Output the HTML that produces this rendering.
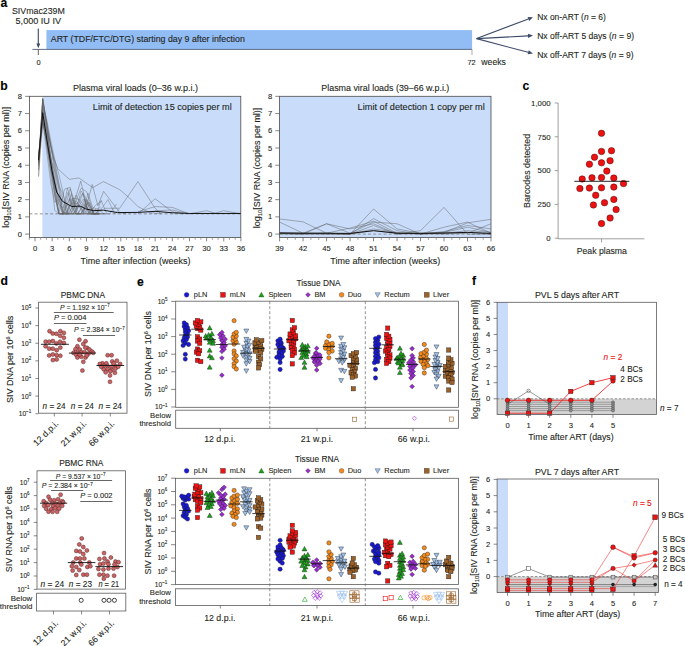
<!DOCTYPE html>
<html><head><meta charset="utf-8"><style>
html,body{margin:0;padding:0;background:#fff;width:685px;height:646px;overflow:hidden;}
svg{display:block;font-family:"Liberation Sans", sans-serif;}
</style></head><body>
<svg width="685" height="646" viewBox="0 0 685 646">
<rect width="685" height="646" fill="#fff"/>
<text x="0.50" y="7.30" font-size="12.2" text-anchor="start" fill="#000" font-weight="bold" stroke="#000" stroke-width="0.1">a</text>
<text x="38.40" y="14.30" font-size="8.5" text-anchor="middle" fill="#231f20" textLength="52.8" lengthAdjust="spacingAndGlyphs" stroke="#231f20" stroke-width="0.1">SIVmac239M</text>
<text x="38.30" y="24.30" font-size="8.5" text-anchor="middle" fill="#231f20" textLength="45.5" lengthAdjust="spacingAndGlyphs" stroke="#231f20" stroke-width="0.1">5,000 IU IV</text>
<rect x="46.40" y="30.10" width="425.70" height="19.30" fill="#92bdf4" stroke="none" stroke-width="0.8"/>
<text x="50.80" y="42.30" font-size="8.7" text-anchor="start" fill="#231f20" textLength="194" lengthAdjust="spacingAndGlyphs" stroke="#231f20" stroke-width="0.1">ART (TDF/FTC/DTG) starting day 9 after infection</text>
<line x1="32.40" y1="49.40" x2="472.10" y2="49.40" stroke="#4f5d78" stroke-width="0.9"/>
<line x1="38.30" y1="49.40" x2="38.30" y2="55.00" stroke="#555" stroke-width="0.9"/>
<line x1="472.00" y1="49.40" x2="472.00" y2="55.00" stroke="#888" stroke-width="0.7"/>
<line x1="38.30" y1="28.60" x2="38.30" y2="45.00" stroke="#3a4662" stroke-width="1.1"/>
<path d="M36.4,43.6 L40.2,43.6 L38.3,48.2 Z" fill="#3a4662"/>
<text x="38.50" y="64.60" font-size="7.4" text-anchor="middle" fill="#231f20" stroke="#231f20" stroke-width="0.1">0</text>
<text x="471.50" y="64.60" font-size="7.4" text-anchor="middle" fill="#231f20" stroke="#231f20" stroke-width="0.1">72</text>
<text x="481.30" y="65.00" font-size="8.6" text-anchor="start" fill="#231f20" textLength="24.6" lengthAdjust="spacingAndGlyphs" stroke="#231f20" stroke-width="0.1">weeks</text>
<line x1="476.60" y1="38.60" x2="528.33" y2="18.97" stroke="#3d4b68" stroke-width="1.1"/>
<path d="M533.00,17.20 L529.07,20.94 L527.58,17.01 Z" fill="#3d4b68"/>
<line x1="476.60" y1="38.60" x2="528.01" y2="35.87" stroke="#3d4b68" stroke-width="1.1"/>
<path d="M533.00,35.60 L528.12,37.96 L527.90,33.77 Z" fill="#3d4b68"/>
<line x1="476.60" y1="38.60" x2="528.17" y2="52.31" stroke="#3d4b68" stroke-width="1.1"/>
<path d="M533.00,53.60 L527.63,54.34 L528.71,50.29 Z" fill="#3d4b68"/>
<text x="537.2" y="20.4" font-size="8.5" fill="#231f20" textLength="68.6" lengthAdjust="spacingAndGlyphs" stroke="#231f20" stroke-width="0.1">Nx on-ART (<tspan font-style="italic">n</tspan> = 6)</text>
<text x="537.2" y="39.0" font-size="8.5" fill="#231f20" textLength="96.8" lengthAdjust="spacingAndGlyphs" stroke="#231f20" stroke-width="0.1">Nx off-ART 5 days (<tspan font-style="italic">n</tspan> = 9)</text>
<text x="537.2" y="57.7" font-size="8.5" fill="#231f20" textLength="96.4" lengthAdjust="spacingAndGlyphs" stroke="#231f20" stroke-width="0.1">Nx off-ART 7 days (<tspan font-style="italic">n</tspan> = 9)</text>
<text x="0.30" y="89.60" font-size="12.2" text-anchor="start" fill="#000" font-weight="bold" stroke="#000" stroke-width="0.1">b</text>
<rect x="42.32" y="96.30" width="198.48" height="141.10" fill="#c9ddfb" stroke="none" stroke-width="0.8"/>
<text x="135.50" y="90.70" font-size="8.7" text-anchor="middle" fill="#231f20" textLength="125" lengthAdjust="spacingAndGlyphs" stroke="#231f20" stroke-width="0.1">Plasma viral loads (0–36 w.p.i.)</text>
<text x="92.80" y="110.30" font-size="8.5" text-anchor="start" fill="#231f20" textLength="138.9" lengthAdjust="spacingAndGlyphs" stroke="#231f20" stroke-width="0.1">Limit of detection 15 copies per ml</text>
<line x1="29.40" y1="213.85" x2="240.80" y2="213.85" stroke="#666" stroke-width="0.7" stroke-dasharray="3,2.2"/>
<polyline points="38.55,162.26 42.72,105.18 46.73,131.61 50.73,158.54 54.73,194.74 58.74,213.85 65.60,213.85 70.18,213.85 75.90,200.61 80.47,208.84 85.05,213.85 89.63,202.48 94.20,213.85 98.78,213.85" fill="none" stroke="#606060" stroke-width="0.4" stroke-linejoin="round"/>
<polyline points="38.55,162.39 42.72,122.12 46.73,142.13 50.73,159.58 54.73,170.48 58.74,188.93 62.74,211.45 66.75,213.85 71.32,193.67 77.04,213.85 82.76,213.85 87.34,213.85 93.06,213.85 99.92,213.85" fill="none" stroke="#606060" stroke-width="0.4" stroke-linejoin="round"/>
<polyline points="38.55,162.91 42.72,106.12 46.73,122.82 50.73,145.62 54.73,161.53 58.74,182.48 62.74,200.18 66.75,203.88 72.47,213.85 78.19,213.85 85.05,198.99 91.91,213.85 96.49,213.85 101.07,200.36 106.79,213.85" fill="none" stroke="#606060" stroke-width="0.4" stroke-linejoin="round"/>
<polyline points="38.55,155.75 42.72,118.70 46.73,143.74 50.73,168.25 54.73,190.38 59.31,213.85 66.17,213.85 70.75,213.85 77.61,202.14 83.33,213.85 87.91,192.99 93.63,209.77" fill="none" stroke="#606060" stroke-width="0.4" stroke-linejoin="round"/>
<polyline points="38.55,176.10 42.72,98.43 46.73,122.49 50.73,145.37 54.73,173.43 58.74,198.60 62.74,213.85 68.46,213.85 73.04,213.85 79.90,206.16 85.62,213.85 91.34,213.85 95.92,208.16" fill="none" stroke="#606060" stroke-width="0.4" stroke-linejoin="round"/>
<polyline points="38.55,166.35 42.72,98.08 46.73,127.77 50.73,156.77 54.73,183.98 58.74,213.85 64.46,213.85 69.03,213.85 75.90,195.10 81.62,205.10 87.34,213.85 94.20,207.36 99.92,213.85 106.79,213.85" fill="none" stroke="#606060" stroke-width="0.4" stroke-linejoin="round"/>
<polyline points="38.55,169.90 42.72,110.20 46.73,138.97 50.73,159.55 54.73,188.57 58.74,213.24 62.74,213.85 69.61,198.51 75.33,213.85 81.05,190.85 87.91,201.15 93.63,213.85 100.49,206.79" fill="none" stroke="#606060" stroke-width="0.4" stroke-linejoin="round"/>
<polyline points="38.55,155.04 42.72,120.86 46.73,151.78 50.73,182.94 54.73,202.22 60.45,198.45 67.32,213.85 74.18,205.28 81.05,188.17 86.77,191.79 93.63,213.85 98.21,213.85" fill="none" stroke="#606060" stroke-width="0.4" stroke-linejoin="round"/>
<polyline points="38.55,163.14 42.72,108.42 46.73,131.15 50.73,146.51 54.73,164.18 58.74,184.22 62.74,211.22 66.75,213.85 72.47,198.33 79.33,213.85 85.05,213.85 91.91,213.85 98.78,213.85" fill="none" stroke="#606060" stroke-width="0.4" stroke-linejoin="round"/>
<polyline points="38.55,159.96 42.72,115.31 46.73,134.58 50.73,156.83 54.73,180.69 58.74,204.25 62.74,213.85 67.32,213.85 74.18,213.85 81.05,213.85 86.77,199.75 93.63,213.85 99.35,213.85 103.93,213.85" fill="none" stroke="#606060" stroke-width="0.4" stroke-linejoin="round"/>
<polyline points="38.55,163.68 42.72,99.24 46.73,126.75 50.73,165.33 54.73,195.31 58.74,213.85 64.46,189.18 70.18,187.27 75.90,213.85 82.76,213.85 87.34,203.31 93.06,213.85 98.78,213.85" fill="none" stroke="#606060" stroke-width="0.4" stroke-linejoin="round"/>
<polyline points="38.55,154.49 42.72,117.14 46.73,146.13 50.73,173.90 54.73,210.42 58.74,213.85 64.46,213.85 71.32,203.68 77.04,203.63 82.76,192.98 88.48,213.85 95.35,205.47 102.21,200.93" fill="none" stroke="#606060" stroke-width="0.4" stroke-linejoin="round"/>
<polyline points="38.55,176.88 42.72,122.14 46.73,141.54 50.73,169.00 54.73,187.61 58.74,195.14 63.31,213.85 70.18,188.61 77.04,208.81 82.76,193.71 89.63,213.85 95.35,213.85 102.21,209.35" fill="none" stroke="#606060" stroke-width="0.4" stroke-linejoin="round"/>
<polyline points="38.55,170.13 42.72,102.75 46.73,119.46 50.73,140.11 54.73,159.77 58.74,173.90 62.74,191.18 66.75,213.85 73.61,197.99 79.33,199.60 86.19,207.60 90.77,213.85 95.35,213.85 102.21,207.70 107.93,199.68 114.79,213.85 119.37,209.07" fill="none" stroke="#606060" stroke-width="0.4" stroke-linejoin="round"/>
<polyline points="38.55,161.71 42.72,99.38 46.73,123.13 50.73,157.10 54.73,180.49 58.74,204.26 63.31,208.16 67.89,192.44 73.61,213.85 80.47,213.85 86.19,206.12 91.91,213.85 98.78,213.85" fill="none" stroke="#606060" stroke-width="0.4" stroke-linejoin="round"/>
<polyline points="38.55,165.47 42.72,99.76 46.73,125.42 50.73,143.96 54.73,167.70 58.74,186.88 62.74,192.76 68.46,213.85 73.04,213.85 78.76,206.14 83.33,198.98 89.05,213.85 95.92,213.85 101.64,213.85" fill="none" stroke="#606060" stroke-width="0.4" stroke-linejoin="round"/>
<polyline points="38.55,161.17 42.72,123.10 46.73,139.06 50.73,161.69 54.73,182.25 58.74,197.38 62.74,213.85 67.32,187.98 73.04,204.14 77.61,213.85 84.48,204.40 91.34,213.85 97.06,208.22 103.93,213.85 109.65,213.85 116.51,203.90" fill="none" stroke="#606060" stroke-width="0.4" stroke-linejoin="round"/>
<polyline points="38.55,157.88 42.72,113.67 46.73,142.33 50.73,170.17 54.73,195.74 59.31,213.85 63.89,213.85 69.61,198.36 75.33,213.85 81.05,213.85 87.91,201.89 93.63,213.85" fill="none" stroke="#606060" stroke-width="0.4" stroke-linejoin="round"/>
<polyline points="47.58,132.50 53.19,155.92 57.82,168.84 69.32,179.34 78.93,177.96 92.77,187.61 103.41,181.58 119.66,189.67 129.38,197.94 137.96,206.55 149.40,212.57 160.84,213.85" fill="none" stroke="#606060" stroke-width="0.45" stroke-linejoin="round"/>
<polyline points="73.90,203.10 80.76,181.06 86.48,204.83" fill="none" stroke="#606060" stroke-width="0.45" stroke-linejoin="round"/>
<polyline points="86.48,206.55 92.20,184.51 97.92,205.69 103.64,191.39 119.66,212.40 126.52,213.85" fill="none" stroke="#606060" stroke-width="0.45" stroke-linejoin="round"/>
<polyline points="103.64,208.27 119.66,208.27 137.96,181.58 155.12,208.27 160.84,213.85" fill="none" stroke="#606060" stroke-width="0.45" stroke-linejoin="round"/>
<polyline points="137.96,213.85 155.12,198.80 172.28,211.71 183.72,213.85" fill="none" stroke="#606060" stroke-width="0.45" stroke-linejoin="round"/>
<polyline points="137.96,211.71 155.12,206.55 172.28,207.41 189.44,213.85" fill="none" stroke="#606060" stroke-width="0.45" stroke-linejoin="round"/>
<polyline points="155.12,210.85 172.28,209.99 189.44,213.85" fill="none" stroke="#606060" stroke-width="0.45" stroke-linejoin="round"/>
<polyline points="189.44,213.85 206.60,210.68 215.18,213.09 223.76,210.68 240.92,213.85" fill="none" stroke="#606060" stroke-width="0.45" stroke-linejoin="round"/>
<polyline points="38.55,160.05 42.72,112.70 48.50,150.07 51.99,171.07 56.68,192.08 62.51,201.38 71.89,206.55 80.02,206.03 85.91,208.96 93.92,210.68 103.41,210.16 117.37,212.57 137.96,212.40 155.12,211.37 172.28,212.75 189.44,213.44 240.92,213.44" fill="none" stroke="#111" stroke-width="1.0" stroke-linejoin="round"/>
<rect x="29.40" y="96.30" width="211.40" height="141.10" fill="none" stroke="#4a4a4a" stroke-width="0.8"/>
<line x1="25.10" y1="234.10" x2="29.40" y2="234.10" stroke="#555" stroke-width="0.7"/>
<text x="22.00" y="236.70" font-size="7.6" text-anchor="end" fill="#231f20" stroke="#231f20" stroke-width="0.1">0</text>
<line x1="25.10" y1="216.88" x2="29.40" y2="216.88" stroke="#555" stroke-width="0.7"/>
<text x="22.00" y="219.48" font-size="7.6" text-anchor="end" fill="#231f20" stroke="#231f20" stroke-width="0.1">1</text>
<line x1="25.10" y1="199.66" x2="29.40" y2="199.66" stroke="#555" stroke-width="0.7"/>
<text x="22.00" y="202.26" font-size="7.6" text-anchor="end" fill="#231f20" stroke="#231f20" stroke-width="0.1">2</text>
<line x1="25.10" y1="182.44" x2="29.40" y2="182.44" stroke="#555" stroke-width="0.7"/>
<text x="22.00" y="185.04" font-size="7.6" text-anchor="end" fill="#231f20" stroke="#231f20" stroke-width="0.1">3</text>
<line x1="25.10" y1="165.22" x2="29.40" y2="165.22" stroke="#555" stroke-width="0.7"/>
<text x="22.00" y="167.82" font-size="7.6" text-anchor="end" fill="#231f20" stroke="#231f20" stroke-width="0.1">4</text>
<line x1="25.10" y1="148.00" x2="29.40" y2="148.00" stroke="#555" stroke-width="0.7"/>
<text x="22.00" y="150.60" font-size="7.6" text-anchor="end" fill="#231f20" stroke="#231f20" stroke-width="0.1">5</text>
<line x1="25.10" y1="130.78" x2="29.40" y2="130.78" stroke="#555" stroke-width="0.7"/>
<text x="22.00" y="133.38" font-size="7.6" text-anchor="end" fill="#231f20" stroke="#231f20" stroke-width="0.1">6</text>
<line x1="25.10" y1="113.56" x2="29.40" y2="113.56" stroke="#555" stroke-width="0.7"/>
<text x="22.00" y="116.16" font-size="7.6" text-anchor="end" fill="#231f20" stroke="#231f20" stroke-width="0.1">7</text>
<line x1="25.10" y1="96.34" x2="29.40" y2="96.34" stroke="#555" stroke-width="0.7"/>
<text x="22.00" y="98.94" font-size="7.6" text-anchor="end" fill="#231f20" stroke="#231f20" stroke-width="0.1">8</text>
<line x1="29.28" y1="237.40" x2="29.28" y2="239.80" stroke="#777" stroke-width="0.7"/>
<line x1="35.00" y1="237.40" x2="35.00" y2="241.40" stroke="#555" stroke-width="0.7"/>
<text x="35.00" y="251.00" font-size="7.6" text-anchor="middle" fill="#231f20" stroke="#231f20" stroke-width="0.1">0</text>
<line x1="40.72" y1="237.40" x2="40.72" y2="239.80" stroke="#777" stroke-width="0.7"/>
<line x1="46.44" y1="237.40" x2="46.44" y2="239.80" stroke="#777" stroke-width="0.7"/>
<line x1="52.16" y1="237.40" x2="52.16" y2="241.40" stroke="#555" stroke-width="0.7"/>
<text x="52.16" y="251.00" font-size="7.6" text-anchor="middle" fill="#231f20" stroke="#231f20" stroke-width="0.1">3</text>
<line x1="57.88" y1="237.40" x2="57.88" y2="239.80" stroke="#777" stroke-width="0.7"/>
<line x1="63.60" y1="237.40" x2="63.60" y2="239.80" stroke="#777" stroke-width="0.7"/>
<line x1="69.32" y1="237.40" x2="69.32" y2="241.40" stroke="#555" stroke-width="0.7"/>
<text x="69.32" y="251.00" font-size="7.6" text-anchor="middle" fill="#231f20" stroke="#231f20" stroke-width="0.1">6</text>
<line x1="75.04" y1="237.40" x2="75.04" y2="239.80" stroke="#777" stroke-width="0.7"/>
<line x1="80.76" y1="237.40" x2="80.76" y2="239.80" stroke="#777" stroke-width="0.7"/>
<line x1="86.48" y1="237.40" x2="86.48" y2="241.40" stroke="#555" stroke-width="0.7"/>
<text x="86.48" y="251.00" font-size="7.6" text-anchor="middle" fill="#231f20" stroke="#231f20" stroke-width="0.1">9</text>
<line x1="92.20" y1="237.40" x2="92.20" y2="239.80" stroke="#777" stroke-width="0.7"/>
<line x1="97.92" y1="237.40" x2="97.92" y2="239.80" stroke="#777" stroke-width="0.7"/>
<line x1="103.64" y1="237.40" x2="103.64" y2="241.40" stroke="#555" stroke-width="0.7"/>
<text x="103.64" y="251.00" font-size="7.6" text-anchor="middle" fill="#231f20" stroke="#231f20" stroke-width="0.1">12</text>
<line x1="109.36" y1="237.40" x2="109.36" y2="239.80" stroke="#777" stroke-width="0.7"/>
<line x1="115.08" y1="237.40" x2="115.08" y2="239.80" stroke="#777" stroke-width="0.7"/>
<line x1="120.80" y1="237.40" x2="120.80" y2="241.40" stroke="#555" stroke-width="0.7"/>
<text x="120.80" y="251.00" font-size="7.6" text-anchor="middle" fill="#231f20" stroke="#231f20" stroke-width="0.1">15</text>
<line x1="126.52" y1="237.40" x2="126.52" y2="239.80" stroke="#777" stroke-width="0.7"/>
<line x1="132.24" y1="237.40" x2="132.24" y2="239.80" stroke="#777" stroke-width="0.7"/>
<line x1="137.96" y1="237.40" x2="137.96" y2="241.40" stroke="#555" stroke-width="0.7"/>
<text x="137.96" y="251.00" font-size="7.6" text-anchor="middle" fill="#231f20" stroke="#231f20" stroke-width="0.1">18</text>
<line x1="143.68" y1="237.40" x2="143.68" y2="239.80" stroke="#777" stroke-width="0.7"/>
<line x1="149.40" y1="237.40" x2="149.40" y2="239.80" stroke="#777" stroke-width="0.7"/>
<line x1="155.12" y1="237.40" x2="155.12" y2="241.40" stroke="#555" stroke-width="0.7"/>
<text x="155.12" y="251.00" font-size="7.6" text-anchor="middle" fill="#231f20" stroke="#231f20" stroke-width="0.1">21</text>
<line x1="160.84" y1="237.40" x2="160.84" y2="239.80" stroke="#777" stroke-width="0.7"/>
<line x1="166.56" y1="237.40" x2="166.56" y2="239.80" stroke="#777" stroke-width="0.7"/>
<line x1="172.28" y1="237.40" x2="172.28" y2="241.40" stroke="#555" stroke-width="0.7"/>
<text x="172.28" y="251.00" font-size="7.6" text-anchor="middle" fill="#231f20" stroke="#231f20" stroke-width="0.1">24</text>
<line x1="178.00" y1="237.40" x2="178.00" y2="239.80" stroke="#777" stroke-width="0.7"/>
<line x1="183.72" y1="237.40" x2="183.72" y2="239.80" stroke="#777" stroke-width="0.7"/>
<line x1="189.44" y1="237.40" x2="189.44" y2="241.40" stroke="#555" stroke-width="0.7"/>
<text x="189.44" y="251.00" font-size="7.6" text-anchor="middle" fill="#231f20" stroke="#231f20" stroke-width="0.1">27</text>
<line x1="195.16" y1="237.40" x2="195.16" y2="239.80" stroke="#777" stroke-width="0.7"/>
<line x1="200.88" y1="237.40" x2="200.88" y2="239.80" stroke="#777" stroke-width="0.7"/>
<line x1="206.60" y1="237.40" x2="206.60" y2="241.40" stroke="#555" stroke-width="0.7"/>
<text x="206.60" y="251.00" font-size="7.6" text-anchor="middle" fill="#231f20" stroke="#231f20" stroke-width="0.1">30</text>
<line x1="212.32" y1="237.40" x2="212.32" y2="239.80" stroke="#777" stroke-width="0.7"/>
<line x1="218.04" y1="237.40" x2="218.04" y2="239.80" stroke="#777" stroke-width="0.7"/>
<line x1="223.76" y1="237.40" x2="223.76" y2="241.40" stroke="#555" stroke-width="0.7"/>
<text x="223.76" y="251.00" font-size="7.6" text-anchor="middle" fill="#231f20" stroke="#231f20" stroke-width="0.1">33</text>
<line x1="229.48" y1="237.40" x2="229.48" y2="239.80" stroke="#777" stroke-width="0.7"/>
<line x1="235.20" y1="237.40" x2="235.20" y2="239.80" stroke="#777" stroke-width="0.7"/>
<line x1="240.92" y1="237.40" x2="240.92" y2="241.40" stroke="#555" stroke-width="0.7"/>
<text x="240.92" y="251.00" font-size="7.6" text-anchor="middle" fill="#231f20" stroke="#231f20" stroke-width="0.1">36</text>
<text x="135.50" y="263.90" font-size="8.4" text-anchor="middle" fill="#231f20" textLength="110" lengthAdjust="spacingAndGlyphs" stroke="#231f20" stroke-width="0.1">Time after infection (weeks)</text>
<text x="8.60" y="167.20" font-size="8.6" text-anchor="middle" fill="#231f20" transform="rotate(-90 8.60 167.20)" textLength="121.0" lengthAdjust="spacingAndGlyphs" stroke="#231f20" stroke-width="0.1">log<tspan font-size="5.5" dy="2">10</tspan><tspan dy="-2">[SIV RNA (copies per ml)]</tspan></text>
<rect x="279.60" y="96.30" width="211.40" height="141.10" fill="#c9ddfb" stroke="none" stroke-width="0.8"/>
<text x="385.30" y="90.70" font-size="8.7" text-anchor="middle" fill="#231f20" textLength="128" lengthAdjust="spacingAndGlyphs" stroke="#231f20" stroke-width="0.1">Plasma viral loads (39–66 w.p.i.)</text>
<text x="357.60" y="110.30" font-size="8.5" text-anchor="start" fill="#231f20" textLength="127.2" lengthAdjust="spacingAndGlyphs" stroke="#231f20" stroke-width="0.1">Limit of detection 1 copy per ml</text>
<line x1="279.60" y1="234.10" x2="491.00" y2="234.10" stroke="#777" stroke-width="0.7" stroke-dasharray="3,2.2"/>
<polyline points="279.60,218.95 303.09,221.87 326.58,233.24 350.07,234.10 373.56,228.93 397.05,232.38 420.54,234.10 444.03,231.52 467.52,225.49 491.01,228.93" fill="none" stroke="#5a5a5a" stroke-width="0.45" stroke-linejoin="round"/>
<polyline points="279.60,222.05 303.09,233.24 326.58,234.10 350.07,234.10 373.56,218.60 397.05,230.66 420.54,234.10 444.03,233.24 467.52,232.38 491.01,234.10" fill="none" stroke="#5a5a5a" stroke-width="0.45" stroke-linejoin="round"/>
<polyline points="279.60,233.24 303.09,234.10 326.58,223.77 350.07,233.24 373.56,222.05 397.05,223.77 420.54,234.10 444.03,232.38 467.52,222.91 491.01,219.29" fill="none" stroke="#5a5a5a" stroke-width="0.45" stroke-linejoin="round"/>
<polyline points="279.60,233.24 303.09,233.24 326.58,223.77 350.07,228.93 373.56,223.77 397.05,234.10 420.54,230.66 444.03,207.41 467.52,234.10 491.01,234.10" fill="none" stroke="#5a5a5a" stroke-width="0.45" stroke-linejoin="round"/>
<polyline points="279.60,232.38 303.09,233.24 326.58,233.24 350.07,234.10 373.56,208.96 397.05,228.93 420.54,233.24 444.03,233.24 467.52,230.66 491.01,232.38" fill="none" stroke="#5a5a5a" stroke-width="0.45" stroke-linejoin="round"/>
<polyline points="279.60,233.24 303.09,233.24 326.58,233.24 350.07,228.07 373.56,221.19 397.05,233.24 420.54,234.10 444.03,227.21 467.52,222.05 491.01,233.24" fill="none" stroke="#5a5a5a" stroke-width="0.45" stroke-linejoin="round"/>
<polyline points="279.60,234.10 303.09,234.10 326.58,233.24 350.07,234.10 373.56,230.66 397.05,233.24 420.54,233.24 444.03,232.38 467.52,227.21 491.01,232.38" fill="none" stroke="#5a5a5a" stroke-width="0.45" stroke-linejoin="round"/>
<polyline points="279.60,233.24 303.09,234.10 326.58,234.10 350.07,234.10 373.56,225.49 397.05,234.10 420.54,233.24 444.03,234.10 467.52,233.24 491.01,223.77" fill="none" stroke="#5a5a5a" stroke-width="0.45" stroke-linejoin="round"/>
<polyline points="279.60,233.07 303.09,233.24 326.58,233.24 350.07,233.41 373.56,230.66 397.05,233.24 420.54,233.41 444.03,233.07 467.52,232.38 491.01,233.41" fill="none" stroke="#111" stroke-width="1.0" stroke-linejoin="round"/>
<rect x="279.60" y="96.30" width="211.40" height="141.10" fill="none" stroke="#4a4a4a" stroke-width="0.8"/>
<line x1="275.30" y1="234.10" x2="279.60" y2="234.10" stroke="#555" stroke-width="0.7"/>
<text x="272.20" y="236.70" font-size="7.6" text-anchor="end" fill="#231f20" stroke="#231f20" stroke-width="0.1">0</text>
<line x1="275.30" y1="216.88" x2="279.60" y2="216.88" stroke="#555" stroke-width="0.7"/>
<text x="272.20" y="219.48" font-size="7.6" text-anchor="end" fill="#231f20" stroke="#231f20" stroke-width="0.1">1</text>
<line x1="275.30" y1="199.66" x2="279.60" y2="199.66" stroke="#555" stroke-width="0.7"/>
<text x="272.20" y="202.26" font-size="7.6" text-anchor="end" fill="#231f20" stroke="#231f20" stroke-width="0.1">2</text>
<line x1="275.30" y1="182.44" x2="279.60" y2="182.44" stroke="#555" stroke-width="0.7"/>
<text x="272.20" y="185.04" font-size="7.6" text-anchor="end" fill="#231f20" stroke="#231f20" stroke-width="0.1">3</text>
<line x1="275.30" y1="165.22" x2="279.60" y2="165.22" stroke="#555" stroke-width="0.7"/>
<text x="272.20" y="167.82" font-size="7.6" text-anchor="end" fill="#231f20" stroke="#231f20" stroke-width="0.1">4</text>
<line x1="275.30" y1="148.00" x2="279.60" y2="148.00" stroke="#555" stroke-width="0.7"/>
<text x="272.20" y="150.60" font-size="7.6" text-anchor="end" fill="#231f20" stroke="#231f20" stroke-width="0.1">5</text>
<line x1="275.30" y1="130.78" x2="279.60" y2="130.78" stroke="#555" stroke-width="0.7"/>
<text x="272.20" y="133.38" font-size="7.6" text-anchor="end" fill="#231f20" stroke="#231f20" stroke-width="0.1">6</text>
<line x1="275.30" y1="113.56" x2="279.60" y2="113.56" stroke="#555" stroke-width="0.7"/>
<text x="272.20" y="116.16" font-size="7.6" text-anchor="end" fill="#231f20" stroke="#231f20" stroke-width="0.1">7</text>
<line x1="275.30" y1="96.34" x2="279.60" y2="96.34" stroke="#555" stroke-width="0.7"/>
<text x="272.20" y="98.94" font-size="7.6" text-anchor="end" fill="#231f20" stroke="#231f20" stroke-width="0.1">8</text>
<line x1="279.60" y1="237.40" x2="279.60" y2="241.40" stroke="#555" stroke-width="0.7"/>
<text x="279.60" y="251.00" font-size="7.6" text-anchor="middle" fill="#231f20" stroke="#231f20" stroke-width="0.1">39</text>
<line x1="287.43" y1="237.40" x2="287.43" y2="239.80" stroke="#777" stroke-width="0.7"/>
<line x1="295.26" y1="237.40" x2="295.26" y2="239.80" stroke="#777" stroke-width="0.7"/>
<line x1="303.09" y1="237.40" x2="303.09" y2="241.40" stroke="#555" stroke-width="0.7"/>
<text x="303.09" y="251.00" font-size="7.6" text-anchor="middle" fill="#231f20" stroke="#231f20" stroke-width="0.1">42</text>
<line x1="310.92" y1="237.40" x2="310.92" y2="239.80" stroke="#777" stroke-width="0.7"/>
<line x1="318.75" y1="237.40" x2="318.75" y2="239.80" stroke="#777" stroke-width="0.7"/>
<line x1="326.58" y1="237.40" x2="326.58" y2="241.40" stroke="#555" stroke-width="0.7"/>
<text x="326.58" y="251.00" font-size="7.6" text-anchor="middle" fill="#231f20" stroke="#231f20" stroke-width="0.1">45</text>
<line x1="334.41" y1="237.40" x2="334.41" y2="239.80" stroke="#777" stroke-width="0.7"/>
<line x1="342.24" y1="237.40" x2="342.24" y2="239.80" stroke="#777" stroke-width="0.7"/>
<line x1="350.07" y1="237.40" x2="350.07" y2="241.40" stroke="#555" stroke-width="0.7"/>
<text x="350.07" y="251.00" font-size="7.6" text-anchor="middle" fill="#231f20" stroke="#231f20" stroke-width="0.1">48</text>
<line x1="357.90" y1="237.40" x2="357.90" y2="239.80" stroke="#777" stroke-width="0.7"/>
<line x1="365.73" y1="237.40" x2="365.73" y2="239.80" stroke="#777" stroke-width="0.7"/>
<line x1="373.56" y1="237.40" x2="373.56" y2="241.40" stroke="#555" stroke-width="0.7"/>
<text x="373.56" y="251.00" font-size="7.6" text-anchor="middle" fill="#231f20" stroke="#231f20" stroke-width="0.1">51</text>
<line x1="381.39" y1="237.40" x2="381.39" y2="239.80" stroke="#777" stroke-width="0.7"/>
<line x1="389.22" y1="237.40" x2="389.22" y2="239.80" stroke="#777" stroke-width="0.7"/>
<line x1="397.05" y1="237.40" x2="397.05" y2="241.40" stroke="#555" stroke-width="0.7"/>
<text x="397.05" y="251.00" font-size="7.6" text-anchor="middle" fill="#231f20" stroke="#231f20" stroke-width="0.1">54</text>
<line x1="404.88" y1="237.40" x2="404.88" y2="239.80" stroke="#777" stroke-width="0.7"/>
<line x1="412.71" y1="237.40" x2="412.71" y2="239.80" stroke="#777" stroke-width="0.7"/>
<line x1="420.54" y1="237.40" x2="420.54" y2="241.40" stroke="#555" stroke-width="0.7"/>
<text x="420.54" y="251.00" font-size="7.6" text-anchor="middle" fill="#231f20" stroke="#231f20" stroke-width="0.1">57</text>
<line x1="428.37" y1="237.40" x2="428.37" y2="239.80" stroke="#777" stroke-width="0.7"/>
<line x1="436.20" y1="237.40" x2="436.20" y2="239.80" stroke="#777" stroke-width="0.7"/>
<line x1="444.03" y1="237.40" x2="444.03" y2="241.40" stroke="#555" stroke-width="0.7"/>
<text x="444.03" y="251.00" font-size="7.6" text-anchor="middle" fill="#231f20" stroke="#231f20" stroke-width="0.1">60</text>
<line x1="451.86" y1="237.40" x2="451.86" y2="239.80" stroke="#777" stroke-width="0.7"/>
<line x1="459.69" y1="237.40" x2="459.69" y2="239.80" stroke="#777" stroke-width="0.7"/>
<line x1="467.52" y1="237.40" x2="467.52" y2="241.40" stroke="#555" stroke-width="0.7"/>
<text x="467.52" y="251.00" font-size="7.6" text-anchor="middle" fill="#231f20" stroke="#231f20" stroke-width="0.1">63</text>
<line x1="475.35" y1="237.40" x2="475.35" y2="239.80" stroke="#777" stroke-width="0.7"/>
<line x1="483.18" y1="237.40" x2="483.18" y2="239.80" stroke="#777" stroke-width="0.7"/>
<line x1="491.01" y1="237.40" x2="491.01" y2="241.40" stroke="#555" stroke-width="0.7"/>
<text x="491.01" y="251.00" font-size="7.6" text-anchor="middle" fill="#231f20" stroke="#231f20" stroke-width="0.1">66</text>
<text x="385.30" y="263.90" font-size="8.4" text-anchor="middle" fill="#231f20" textLength="110" lengthAdjust="spacingAndGlyphs" stroke="#231f20" stroke-width="0.1">Time after infection (weeks)</text>
<text x="260.00" y="167.90" font-size="8.6" text-anchor="middle" fill="#231f20" transform="rotate(-90 260.00 167.90)" textLength="120.5" lengthAdjust="spacingAndGlyphs" stroke="#231f20" stroke-width="0.1">log<tspan font-size="5.5" dy="2">10</tspan><tspan dy="-2">[SIV RNA (copies per ml)]</tspan></text>
<text x="522.60" y="89.60" font-size="12.2" text-anchor="start" fill="#000" font-weight="bold" stroke="#000" stroke-width="0.1">c</text>
<line x1="558.10" y1="103.00" x2="558.10" y2="238.80" stroke="#888" stroke-width="0.8"/>
<line x1="558.10" y1="238.80" x2="644.40" y2="238.80" stroke="#888" stroke-width="0.8"/>
<line x1="601.50" y1="238.80" x2="601.50" y2="242.40" stroke="#888" stroke-width="0.8"/>
<line x1="554.70" y1="238.20" x2="558.10" y2="238.20" stroke="#888" stroke-width="0.8"/>
<text x="550.60" y="240.90" font-size="7.8" text-anchor="end" fill="#231f20" stroke="#231f20" stroke-width="0.1">0</text>
<line x1="554.70" y1="204.40" x2="558.10" y2="204.40" stroke="#888" stroke-width="0.8"/>
<text x="550.60" y="207.10" font-size="7.8" text-anchor="end" fill="#231f20" stroke="#231f20" stroke-width="0.1">250</text>
<line x1="554.70" y1="170.60" x2="558.10" y2="170.60" stroke="#888" stroke-width="0.8"/>
<text x="550.60" y="173.30" font-size="7.8" text-anchor="end" fill="#231f20" stroke="#231f20" stroke-width="0.1">500</text>
<line x1="554.70" y1="136.80" x2="558.10" y2="136.80" stroke="#888" stroke-width="0.8"/>
<text x="550.60" y="139.50" font-size="7.8" text-anchor="end" fill="#231f20" stroke="#231f20" stroke-width="0.1">750</text>
<line x1="554.70" y1="103.00" x2="558.10" y2="103.00" stroke="#888" stroke-width="0.8"/>
<text x="550.60" y="105.70" font-size="7.8" text-anchor="end" fill="#231f20" stroke="#231f20" stroke-width="0.1">1,000</text>
<text x="529.9" y="170.9" font-size="8.9" text-anchor="middle" fill="#231f20" transform="rotate(-90 529.9 170.9)" stroke="#231f20" stroke-width="0.1">Barcodes detected</text>
<text x="601.80" y="253.80" font-size="8.7" text-anchor="middle" fill="#231f20" stroke="#231f20" stroke-width="0.1">Peak plasma</text>
<circle cx="601.50" cy="133.30" r="3.25" fill="#ee1111" stroke="#3a0808" stroke-width="0.45"/>
<circle cx="601.50" cy="151.40" r="3.25" fill="#ee1111" stroke="#3a0808" stroke-width="0.45"/>
<circle cx="611.50" cy="150.70" r="3.25" fill="#ee1111" stroke="#3a0808" stroke-width="0.45"/>
<circle cx="594.50" cy="157.20" r="3.25" fill="#ee1111" stroke="#3a0808" stroke-width="0.45"/>
<circle cx="610.10" cy="160.70" r="3.25" fill="#ee1111" stroke="#3a0808" stroke-width="0.45"/>
<circle cx="589.40" cy="164.20" r="3.25" fill="#ee1111" stroke="#3a0808" stroke-width="0.45"/>
<circle cx="601.50" cy="162.80" r="3.25" fill="#ee1111" stroke="#3a0808" stroke-width="0.45"/>
<circle cx="606.80" cy="171.10" r="3.25" fill="#ee1111" stroke="#3a0808" stroke-width="0.45"/>
<circle cx="582.20" cy="179.00" r="3.25" fill="#ee1111" stroke="#3a0808" stroke-width="0.45"/>
<circle cx="592.00" cy="177.80" r="3.25" fill="#ee1111" stroke="#3a0808" stroke-width="0.45"/>
<circle cx="601.50" cy="177.60" r="3.25" fill="#ee1111" stroke="#3a0808" stroke-width="0.45"/>
<circle cx="613.80" cy="178.10" r="3.25" fill="#ee1111" stroke="#3a0808" stroke-width="0.45"/>
<circle cx="623.50" cy="183.60" r="3.25" fill="#ee1111" stroke="#3a0808" stroke-width="0.45"/>
<circle cx="579.90" cy="188.50" r="3.25" fill="#ee1111" stroke="#3a0808" stroke-width="0.45"/>
<circle cx="589.40" cy="188.10" r="3.25" fill="#ee1111" stroke="#3a0808" stroke-width="0.45"/>
<circle cx="601.50" cy="187.80" r="3.25" fill="#ee1111" stroke="#3a0808" stroke-width="0.45"/>
<circle cx="613.80" cy="187.10" r="3.25" fill="#ee1111" stroke="#3a0808" stroke-width="0.45"/>
<circle cx="595.70" cy="195.30" r="3.25" fill="#ee1111" stroke="#3a0808" stroke-width="0.45"/>
<circle cx="613.80" cy="199.40" r="3.25" fill="#ee1111" stroke="#3a0808" stroke-width="0.45"/>
<circle cx="604.50" cy="202.70" r="3.25" fill="#ee1111" stroke="#3a0808" stroke-width="0.45"/>
<circle cx="593.40" cy="205.00" r="3.25" fill="#ee1111" stroke="#3a0808" stroke-width="0.45"/>
<circle cx="616.10" cy="209.60" r="3.25" fill="#ee1111" stroke="#3a0808" stroke-width="0.45"/>
<circle cx="610.10" cy="218.00" r="3.25" fill="#ee1111" stroke="#3a0808" stroke-width="0.45"/>
<circle cx="601.50" cy="223.60" r="3.25" fill="#ee1111" stroke="#3a0808" stroke-width="0.45"/>
<line x1="574.30" y1="181.30" x2="629.30" y2="181.30" stroke="#111" stroke-width="0.9"/>
<text x="0.50" y="285.00" font-size="12.2" text-anchor="start" fill="#000" font-weight="bold" stroke="#000" stroke-width="0.1">d</text>
<text x="82.90" y="298.00" font-size="8.4" text-anchor="middle" fill="#231f20" stroke="#231f20" stroke-width="0.1">PBMC DNA</text>
<rect x="38.60" y="302.20" width="88.40" height="111.00" fill="none" stroke="#5a5a5a" stroke-width="0.8"/>
<line x1="35.40" y1="413.72" x2="38.60" y2="413.72" stroke="#555" stroke-width="0.7"/>
<text x="31.20" y="416.12" font-size="6.6" text-anchor="end" fill="#231f20" stroke="#231f20" stroke-width="0.1">10<tspan font-size="4.49" dy="-2.8">−1</tspan></text>
<line x1="35.40" y1="396.10" x2="38.60" y2="396.10" stroke="#555" stroke-width="0.7"/>
<text x="31.20" y="398.50" font-size="6.6" text-anchor="end" fill="#231f20" stroke="#231f20" stroke-width="0.1">10<tspan font-size="4.49" dy="-2.8">0</tspan></text>
<line x1="35.40" y1="378.48" x2="38.60" y2="378.48" stroke="#555" stroke-width="0.7"/>
<text x="31.20" y="380.88" font-size="6.6" text-anchor="end" fill="#231f20" stroke="#231f20" stroke-width="0.1">10<tspan font-size="4.49" dy="-2.8">1</tspan></text>
<line x1="35.40" y1="360.86" x2="38.60" y2="360.86" stroke="#555" stroke-width="0.7"/>
<text x="31.20" y="363.26" font-size="6.6" text-anchor="end" fill="#231f20" stroke="#231f20" stroke-width="0.1">10<tspan font-size="4.49" dy="-2.8">2</tspan></text>
<line x1="35.40" y1="343.24" x2="38.60" y2="343.24" stroke="#555" stroke-width="0.7"/>
<text x="31.20" y="345.64" font-size="6.6" text-anchor="end" fill="#231f20" stroke="#231f20" stroke-width="0.1">10<tspan font-size="4.49" dy="-2.8">3</tspan></text>
<line x1="35.40" y1="325.62" x2="38.60" y2="325.62" stroke="#555" stroke-width="0.7"/>
<text x="31.20" y="328.02" font-size="6.6" text-anchor="end" fill="#231f20" stroke="#231f20" stroke-width="0.1">10<tspan font-size="4.49" dy="-2.8">4</tspan></text>
<line x1="35.40" y1="308.00" x2="38.60" y2="308.00" stroke="#555" stroke-width="0.7"/>
<text x="31.20" y="310.40" font-size="6.6" text-anchor="end" fill="#231f20" stroke="#231f20" stroke-width="0.1">10<tspan font-size="4.49" dy="-2.8">5</tspan></text>
<line x1="54.30" y1="413.20" x2="54.30" y2="416.50" stroke="#555" stroke-width="0.7"/>
<line x1="82.10" y1="413.20" x2="82.10" y2="416.50" stroke="#555" stroke-width="0.7"/>
<line x1="110.30" y1="413.20" x2="110.30" y2="416.50" stroke="#555" stroke-width="0.7"/>
<text x="12.6" y="359.4" font-size="9.0" text-anchor="middle" fill="#231f20" transform="rotate(-90 12.6 359.4)" stroke="#231f20" stroke-width="0.1">SIV DNA per 10<tspan font-size="5.6" dy="-3">6</tspan><tspan dy="3"> cells</tspan></text>
<text x="60.00" y="309.70" font-size="7.0" fill="#231f20" textLength="49.7" lengthAdjust="spacingAndGlyphs" stroke="#231f20" stroke-width="0.1"><tspan font-style="italic">P</tspan> = 1.192 × 10<tspan font-size="4.6" dy="-2.6">−7</tspan></text>
<line x1="53.90" y1="312.50" x2="113.70" y2="312.50" stroke="#333" stroke-width="0.75"/>
<text x="53.90" y="320.20" font-size="7.0" fill="#231f20" textLength="32.6" lengthAdjust="spacingAndGlyphs" stroke="#231f20" stroke-width="0.1"><tspan font-style="italic">P</tspan> = 0.004</text>
<line x1="53.90" y1="323.50" x2="86.50" y2="323.50" stroke="#333" stroke-width="0.75"/>
<text x="74.00" y="332.30" font-size="7.0" fill="#231f20" textLength="50.8" lengthAdjust="spacingAndGlyphs" stroke="#231f20" stroke-width="0.1"><tspan font-style="italic">P</tspan> = 2.384 × 10<tspan font-size="4.6" dy="-2.6">−7</tspan></text>
<line x1="82.90" y1="335.50" x2="115.10" y2="335.50" stroke="#333" stroke-width="0.75"/>
<circle cx="49.56" cy="331.17" r="2.0" fill="#cb6364" stroke="#4a1c1c" stroke-width="0.45"/>
<circle cx="52.72" cy="333.53" r="2.0" fill="#cb6364" stroke="#4a1c1c" stroke-width="0.45"/>
<circle cx="56.39" cy="333.80" r="2.0" fill="#cb6364" stroke="#4a1c1c" stroke-width="0.45"/>
<circle cx="60.34" cy="331.17" r="2.0" fill="#cb6364" stroke="#4a1c1c" stroke-width="0.45"/>
<circle cx="63.88" cy="332.88" r="2.0" fill="#cb6364" stroke="#4a1c1c" stroke-width="0.45"/>
<circle cx="60.07" cy="335.77" r="2.0" fill="#cb6364" stroke="#4a1c1c" stroke-width="0.45"/>
<circle cx="63.88" cy="337.74" r="2.0" fill="#cb6364" stroke="#4a1c1c" stroke-width="0.45"/>
<circle cx="45.62" cy="341.68" r="2.0" fill="#cb6364" stroke="#4a1c1c" stroke-width="0.45"/>
<circle cx="49.17" cy="341.68" r="2.0" fill="#cb6364" stroke="#4a1c1c" stroke-width="0.45"/>
<circle cx="52.85" cy="341.02" r="2.0" fill="#cb6364" stroke="#4a1c1c" stroke-width="0.45"/>
<circle cx="56.39" cy="343.39" r="2.0" fill="#cb6364" stroke="#4a1c1c" stroke-width="0.45"/>
<circle cx="60.07" cy="341.68" r="2.0" fill="#cb6364" stroke="#4a1c1c" stroke-width="0.45"/>
<circle cx="63.88" cy="342.99" r="2.0" fill="#cb6364" stroke="#4a1c1c" stroke-width="0.45"/>
<circle cx="45.62" cy="346.28" r="2.0" fill="#cb6364" stroke="#4a1c1c" stroke-width="0.45"/>
<circle cx="49.17" cy="348.64" r="2.0" fill="#cb6364" stroke="#4a1c1c" stroke-width="0.45"/>
<circle cx="52.72" cy="348.64" r="2.0" fill="#cb6364" stroke="#4a1c1c" stroke-width="0.45"/>
<circle cx="56.66" cy="350.22" r="2.0" fill="#cb6364" stroke="#4a1c1c" stroke-width="0.45"/>
<circle cx="60.34" cy="347.59" r="2.0" fill="#cb6364" stroke="#4a1c1c" stroke-width="0.45"/>
<circle cx="49.17" cy="355.47" r="2.0" fill="#cb6364" stroke="#4a1c1c" stroke-width="0.45"/>
<circle cx="52.85" cy="354.42" r="2.0" fill="#cb6364" stroke="#4a1c1c" stroke-width="0.45"/>
<circle cx="56.66" cy="355.21" r="2.0" fill="#cb6364" stroke="#4a1c1c" stroke-width="0.45"/>
<circle cx="60.34" cy="355.74" r="2.0" fill="#cb6364" stroke="#4a1c1c" stroke-width="0.45"/>
<circle cx="52.85" cy="360.07" r="2.0" fill="#cb6364" stroke="#4a1c1c" stroke-width="0.45"/>
<circle cx="56.66" cy="359.42" r="2.0" fill="#cb6364" stroke="#4a1c1c" stroke-width="0.45"/>
<circle cx="79.39" cy="339.71" r="2.0" fill="#cb6364" stroke="#4a1c1c" stroke-width="0.45"/>
<circle cx="85.56" cy="341.28" r="2.0" fill="#cb6364" stroke="#4a1c1c" stroke-width="0.45"/>
<circle cx="83.33" cy="344.04" r="2.0" fill="#cb6364" stroke="#4a1c1c" stroke-width="0.45"/>
<circle cx="77.42" cy="346.28" r="2.0" fill="#cb6364" stroke="#4a1c1c" stroke-width="0.45"/>
<circle cx="87.27" cy="347.99" r="2.0" fill="#cb6364" stroke="#4a1c1c" stroke-width="0.45"/>
<circle cx="75.45" cy="349.17" r="2.0" fill="#cb6364" stroke="#4a1c1c" stroke-width="0.45"/>
<circle cx="79.78" cy="349.56" r="2.0" fill="#cb6364" stroke="#4a1c1c" stroke-width="0.45"/>
<circle cx="85.30" cy="347.59" r="2.0" fill="#cb6364" stroke="#4a1c1c" stroke-width="0.45"/>
<circle cx="89.50" cy="349.56" r="2.0" fill="#cb6364" stroke="#4a1c1c" stroke-width="0.45"/>
<circle cx="91.87" cy="351.53" r="2.0" fill="#cb6364" stroke="#4a1c1c" stroke-width="0.45"/>
<circle cx="73.47" cy="352.85" r="2.0" fill="#cb6364" stroke="#4a1c1c" stroke-width="0.45"/>
<circle cx="77.42" cy="352.85" r="2.0" fill="#cb6364" stroke="#4a1c1c" stroke-width="0.45"/>
<circle cx="81.36" cy="352.19" r="2.0" fill="#cb6364" stroke="#4a1c1c" stroke-width="0.45"/>
<circle cx="84.64" cy="352.19" r="2.0" fill="#cb6364" stroke="#4a1c1c" stroke-width="0.45"/>
<circle cx="88.58" cy="353.50" r="2.0" fill="#cb6364" stroke="#4a1c1c" stroke-width="0.45"/>
<circle cx="93.18" cy="352.85" r="2.0" fill="#cb6364" stroke="#4a1c1c" stroke-width="0.45"/>
<circle cx="76.10" cy="354.82" r="2.0" fill="#cb6364" stroke="#4a1c1c" stroke-width="0.45"/>
<circle cx="77.42" cy="357.45" r="2.0" fill="#cb6364" stroke="#4a1c1c" stroke-width="0.45"/>
<circle cx="81.36" cy="356.79" r="2.0" fill="#cb6364" stroke="#4a1c1c" stroke-width="0.45"/>
<circle cx="85.56" cy="357.45" r="2.0" fill="#cb6364" stroke="#4a1c1c" stroke-width="0.45"/>
<circle cx="83.33" cy="361.78" r="2.0" fill="#cb6364" stroke="#4a1c1c" stroke-width="0.45"/>
<circle cx="82.41" cy="370.58" r="2.0" fill="#cb6364" stroke="#4a1c1c" stroke-width="0.45"/>
<circle cx="79.78" cy="354.42" r="2.0" fill="#cb6364" stroke="#4a1c1c" stroke-width="0.45"/>
<circle cx="86.88" cy="355.47" r="2.0" fill="#cb6364" stroke="#4a1c1c" stroke-width="0.45"/>
<circle cx="107.64" cy="355.21" r="2.0" fill="#cb6364" stroke="#4a1c1c" stroke-width="0.45"/>
<circle cx="111.58" cy="355.21" r="2.0" fill="#cb6364" stroke="#4a1c1c" stroke-width="0.45"/>
<circle cx="102.38" cy="363.36" r="2.0" fill="#cb6364" stroke="#4a1c1c" stroke-width="0.45"/>
<circle cx="106.32" cy="363.36" r="2.0" fill="#cb6364" stroke="#4a1c1c" stroke-width="0.45"/>
<circle cx="112.23" cy="361.39" r="2.0" fill="#cb6364" stroke="#4a1c1c" stroke-width="0.45"/>
<circle cx="116.83" cy="360.73" r="2.0" fill="#cb6364" stroke="#4a1c1c" stroke-width="0.45"/>
<circle cx="120.12" cy="364.02" r="2.0" fill="#cb6364" stroke="#4a1c1c" stroke-width="0.45"/>
<circle cx="99.75" cy="364.02" r="2.0" fill="#cb6364" stroke="#4a1c1c" stroke-width="0.45"/>
<circle cx="103.69" cy="365.99" r="2.0" fill="#cb6364" stroke="#4a1c1c" stroke-width="0.45"/>
<circle cx="107.64" cy="365.99" r="2.0" fill="#cb6364" stroke="#4a1c1c" stroke-width="0.45"/>
<circle cx="111.58" cy="366.64" r="2.0" fill="#cb6364" stroke="#4a1c1c" stroke-width="0.45"/>
<circle cx="115.52" cy="365.99" r="2.0" fill="#cb6364" stroke="#4a1c1c" stroke-width="0.45"/>
<circle cx="103.69" cy="369.27" r="2.0" fill="#cb6364" stroke="#4a1c1c" stroke-width="0.45"/>
<circle cx="107.64" cy="368.88" r="2.0" fill="#cb6364" stroke="#4a1c1c" stroke-width="0.45"/>
<circle cx="111.58" cy="369.93" r="2.0" fill="#cb6364" stroke="#4a1c1c" stroke-width="0.45"/>
<circle cx="115.52" cy="368.61" r="2.0" fill="#cb6364" stroke="#4a1c1c" stroke-width="0.45"/>
<circle cx="105.67" cy="372.29" r="2.0" fill="#cb6364" stroke="#4a1c1c" stroke-width="0.45"/>
<circle cx="110.26" cy="371.24" r="2.0" fill="#cb6364" stroke="#4a1c1c" stroke-width="0.45"/>
<circle cx="114.86" cy="372.82" r="2.0" fill="#cb6364" stroke="#4a1c1c" stroke-width="0.45"/>
<circle cx="110.00" cy="375.45" r="2.0" fill="#cb6364" stroke="#4a1c1c" stroke-width="0.45"/>
<circle cx="110.00" cy="381.75" r="2.0" fill="#cb6364" stroke="#4a1c1c" stroke-width="0.45"/>
<circle cx="118.15" cy="366.64" r="2.0" fill="#cb6364" stroke="#4a1c1c" stroke-width="0.45"/>
<circle cx="113.55" cy="363.36" r="2.0" fill="#cb6364" stroke="#4a1c1c" stroke-width="0.45"/>
<circle cx="101.07" cy="366.64" r="2.0" fill="#cb6364" stroke="#4a1c1c" stroke-width="0.45"/>
<line x1="40.90" y1="344.30" x2="68.90" y2="344.30" stroke="#111" stroke-width="0.9"/>
<line x1="68.90" y1="353.10" x2="95.80" y2="353.10" stroke="#111" stroke-width="0.9"/>
<line x1="96.50" y1="365.50" x2="124.10" y2="365.50" stroke="#111" stroke-width="0.9"/>
<text x="42.60" y="408.9" font-size="8.2" fill="#231f20" textLength="22.90" lengthAdjust="spacingAndGlyphs" stroke="#231f20" stroke-width="0.1"><tspan font-style="italic">n</tspan> = 24</text>
<text x="70.80" y="408.9" font-size="8.2" fill="#231f20" textLength="23.10" lengthAdjust="spacingAndGlyphs" stroke="#231f20" stroke-width="0.1"><tspan font-style="italic">n</tspan> = 24</text>
<text x="98.50" y="408.9" font-size="8.2" fill="#231f20" textLength="23.50" lengthAdjust="spacingAndGlyphs" stroke="#231f20" stroke-width="0.1"><tspan font-style="italic">n</tspan> = 24</text>
<text x="59.00" y="424.30" font-size="8.8" text-anchor="end" fill="#231f20" transform="rotate(-45 59.00 424.30)" stroke="#231f20" stroke-width="0.1">12 d.p.i.</text>
<text x="87.00" y="424.30" font-size="8.8" text-anchor="end" fill="#231f20" transform="rotate(-45 87.00 424.30)" stroke="#231f20" stroke-width="0.1">21 w.p.i.</text>
<text x="115.00" y="424.30" font-size="8.8" text-anchor="end" fill="#231f20" transform="rotate(-45 115.00 424.30)" stroke="#231f20" stroke-width="0.1">66 w.p.i.</text>
<text x="81.30" y="466.30" font-size="8.4" text-anchor="middle" fill="#231f20" stroke="#231f20" stroke-width="0.1">PBMC RNA</text>
<rect x="37.00" y="470.80" width="88.40" height="118.30" fill="none" stroke="#5a5a5a" stroke-width="0.8"/>
<line x1="33.80" y1="589.40" x2="37.00" y2="589.40" stroke="#555" stroke-width="0.7"/>
<text x="29.60" y="591.80" font-size="6.6" text-anchor="end" fill="#231f20" stroke="#231f20" stroke-width="0.1">10<tspan font-size="4.49" dy="-2.8">−1</tspan></text>
<line x1="33.80" y1="576.00" x2="37.00" y2="576.00" stroke="#555" stroke-width="0.7"/>
<text x="29.60" y="578.40" font-size="6.6" text-anchor="end" fill="#231f20" stroke="#231f20" stroke-width="0.1">10<tspan font-size="4.49" dy="-2.8">0</tspan></text>
<line x1="33.80" y1="562.60" x2="37.00" y2="562.60" stroke="#555" stroke-width="0.7"/>
<text x="29.60" y="565.00" font-size="6.6" text-anchor="end" fill="#231f20" stroke="#231f20" stroke-width="0.1">10<tspan font-size="4.49" dy="-2.8">1</tspan></text>
<line x1="33.80" y1="549.20" x2="37.00" y2="549.20" stroke="#555" stroke-width="0.7"/>
<text x="29.60" y="551.60" font-size="6.6" text-anchor="end" fill="#231f20" stroke="#231f20" stroke-width="0.1">10<tspan font-size="4.49" dy="-2.8">2</tspan></text>
<line x1="33.80" y1="535.80" x2="37.00" y2="535.80" stroke="#555" stroke-width="0.7"/>
<text x="29.60" y="538.20" font-size="6.6" text-anchor="end" fill="#231f20" stroke="#231f20" stroke-width="0.1">10<tspan font-size="4.49" dy="-2.8">3</tspan></text>
<line x1="33.80" y1="522.40" x2="37.00" y2="522.40" stroke="#555" stroke-width="0.7"/>
<text x="29.60" y="524.80" font-size="6.6" text-anchor="end" fill="#231f20" stroke="#231f20" stroke-width="0.1">10<tspan font-size="4.49" dy="-2.8">4</tspan></text>
<line x1="33.80" y1="509.00" x2="37.00" y2="509.00" stroke="#555" stroke-width="0.7"/>
<text x="29.60" y="511.40" font-size="6.6" text-anchor="end" fill="#231f20" stroke="#231f20" stroke-width="0.1">10<tspan font-size="4.49" dy="-2.8">5</tspan></text>
<line x1="33.80" y1="495.60" x2="37.00" y2="495.60" stroke="#555" stroke-width="0.7"/>
<text x="29.60" y="498.00" font-size="6.6" text-anchor="end" fill="#231f20" stroke="#231f20" stroke-width="0.1">10<tspan font-size="4.49" dy="-2.8">6</tspan></text>
<line x1="33.80" y1="482.20" x2="37.00" y2="482.20" stroke="#555" stroke-width="0.7"/>
<text x="29.60" y="484.60" font-size="6.6" text-anchor="end" fill="#231f20" stroke="#231f20" stroke-width="0.1">10<tspan font-size="4.49" dy="-2.8">7</tspan></text>
<text x="12.3" y="529.2" font-size="8.9" text-anchor="middle" fill="#231f20" transform="rotate(-90 12.3 529.2)" stroke="#231f20" stroke-width="0.1">SIV RNA per 10<tspan font-size="5.6" dy="-3">6</tspan><tspan dy="3"> cells</tspan></text>
<text x="55.80" y="478.50" font-size="7.0" fill="#231f20" textLength="49.7" lengthAdjust="spacingAndGlyphs" stroke="#231f20" stroke-width="0.1"><tspan font-style="italic">P</tspan> = 9.537 × 10<tspan font-size="4.6" dy="-2.6">−7</tspan></text>
<line x1="50.10" y1="480.50" x2="112.10" y2="480.50" stroke="#333" stroke-width="0.75"/>
<text x="41.70" y="488.10" font-size="7.0" fill="#231f20" textLength="51.1" lengthAdjust="spacingAndGlyphs" stroke="#231f20" stroke-width="0.1"><tspan font-style="italic">P</tspan> = 2.384 × 10<tspan font-size="4.6" dy="-2.6">−7</tspan></text>
<line x1="51.10" y1="490.50" x2="83.30" y2="490.50" stroke="#333" stroke-width="0.75"/>
<text x="80.30" y="498.20" font-size="7.0" fill="#231f20" textLength="32.2" lengthAdjust="spacingAndGlyphs" stroke="#231f20" stroke-width="0.1"><tspan font-style="italic">P</tspan> = 0.002</text>
<line x1="80.30" y1="501.50" x2="112.50" y2="501.50" stroke="#333" stroke-width="0.75"/>
<circle cx="48.51" cy="496.76" r="2.0" fill="#cb6364" stroke="#4a1c1c" stroke-width="0.45"/>
<circle cx="60.58" cy="494.75" r="2.0" fill="#cb6364" stroke="#4a1c1c" stroke-width="0.45"/>
<circle cx="43.68" cy="501.19" r="2.0" fill="#cb6364" stroke="#4a1c1c" stroke-width="0.45"/>
<circle cx="50.12" cy="499.78" r="2.0" fill="#cb6364" stroke="#4a1c1c" stroke-width="0.45"/>
<circle cx="54.14" cy="500.18" r="2.0" fill="#cb6364" stroke="#4a1c1c" stroke-width="0.45"/>
<circle cx="58.17" cy="499.18" r="2.0" fill="#cb6364" stroke="#4a1c1c" stroke-width="0.45"/>
<circle cx="62.19" cy="501.19" r="2.0" fill="#cb6364" stroke="#4a1c1c" stroke-width="0.45"/>
<circle cx="46.10" cy="503.20" r="2.0" fill="#cb6364" stroke="#4a1c1c" stroke-width="0.45"/>
<circle cx="52.13" cy="503.20" r="2.0" fill="#cb6364" stroke="#4a1c1c" stroke-width="0.45"/>
<circle cx="56.16" cy="503.80" r="2.0" fill="#cb6364" stroke="#4a1c1c" stroke-width="0.45"/>
<circle cx="59.78" cy="503.20" r="2.0" fill="#cb6364" stroke="#4a1c1c" stroke-width="0.45"/>
<circle cx="63.20" cy="502.19" r="2.0" fill="#cb6364" stroke="#4a1c1c" stroke-width="0.45"/>
<circle cx="44.08" cy="505.81" r="2.0" fill="#cb6364" stroke="#4a1c1c" stroke-width="0.45"/>
<circle cx="48.11" cy="505.21" r="2.0" fill="#cb6364" stroke="#4a1c1c" stroke-width="0.45"/>
<circle cx="53.14" cy="506.22" r="2.0" fill="#cb6364" stroke="#4a1c1c" stroke-width="0.45"/>
<circle cx="57.77" cy="505.81" r="2.0" fill="#cb6364" stroke="#4a1c1c" stroke-width="0.45"/>
<circle cx="62.19" cy="505.81" r="2.0" fill="#cb6364" stroke="#4a1c1c" stroke-width="0.45"/>
<circle cx="46.10" cy="508.63" r="2.0" fill="#cb6364" stroke="#4a1c1c" stroke-width="0.45"/>
<circle cx="51.13" cy="509.24" r="2.0" fill="#cb6364" stroke="#4a1c1c" stroke-width="0.45"/>
<circle cx="55.15" cy="508.23" r="2.0" fill="#cb6364" stroke="#4a1c1c" stroke-width="0.45"/>
<circle cx="59.18" cy="508.63" r="2.0" fill="#cb6364" stroke="#4a1c1c" stroke-width="0.45"/>
<circle cx="48.51" cy="511.65" r="2.0" fill="#cb6364" stroke="#4a1c1c" stroke-width="0.45"/>
<circle cx="52.54" cy="511.85" r="2.0" fill="#cb6364" stroke="#4a1c1c" stroke-width="0.45"/>
<circle cx="57.16" cy="511.85" r="2.0" fill="#cb6364" stroke="#4a1c1c" stroke-width="0.45"/>
<circle cx="81.71" cy="538.41" r="2.0" fill="#cb6364" stroke="#4a1c1c" stroke-width="0.45"/>
<circle cx="79.30" cy="544.45" r="2.0" fill="#cb6364" stroke="#4a1c1c" stroke-width="0.45"/>
<circle cx="83.32" cy="547.06" r="2.0" fill="#cb6364" stroke="#4a1c1c" stroke-width="0.45"/>
<circle cx="76.28" cy="550.89" r="2.0" fill="#cb6364" stroke="#4a1c1c" stroke-width="0.45"/>
<circle cx="86.94" cy="550.48" r="2.0" fill="#cb6364" stroke="#4a1c1c" stroke-width="0.45"/>
<circle cx="79.90" cy="551.49" r="2.0" fill="#cb6364" stroke="#4a1c1c" stroke-width="0.45"/>
<circle cx="83.32" cy="554.10" r="2.0" fill="#cb6364" stroke="#4a1c1c" stroke-width="0.45"/>
<circle cx="76.28" cy="558.53" r="2.0" fill="#cb6364" stroke="#4a1c1c" stroke-width="0.45"/>
<circle cx="79.90" cy="558.53" r="2.0" fill="#cb6364" stroke="#4a1c1c" stroke-width="0.45"/>
<circle cx="84.33" cy="558.53" r="2.0" fill="#cb6364" stroke="#4a1c1c" stroke-width="0.45"/>
<circle cx="73.26" cy="562.56" r="2.0" fill="#cb6364" stroke="#4a1c1c" stroke-width="0.45"/>
<circle cx="80.30" cy="562.56" r="2.0" fill="#cb6364" stroke="#4a1c1c" stroke-width="0.45"/>
<circle cx="89.36" cy="562.56" r="2.0" fill="#cb6364" stroke="#4a1c1c" stroke-width="0.45"/>
<circle cx="71.85" cy="566.18" r="2.0" fill="#cb6364" stroke="#4a1c1c" stroke-width="0.45"/>
<circle cx="76.28" cy="566.98" r="2.0" fill="#cb6364" stroke="#4a1c1c" stroke-width="0.45"/>
<circle cx="81.31" cy="564.57" r="2.0" fill="#cb6364" stroke="#4a1c1c" stroke-width="0.45"/>
<circle cx="87.34" cy="566.98" r="2.0" fill="#cb6364" stroke="#4a1c1c" stroke-width="0.45"/>
<circle cx="90.36" cy="566.18" r="2.0" fill="#cb6364" stroke="#4a1c1c" stroke-width="0.45"/>
<circle cx="72.66" cy="570.60" r="2.0" fill="#cb6364" stroke="#4a1c1c" stroke-width="0.45"/>
<circle cx="79.30" cy="570.00" r="2.0" fill="#cb6364" stroke="#4a1c1c" stroke-width="0.45"/>
<circle cx="76.28" cy="575.03" r="2.0" fill="#cb6364" stroke="#4a1c1c" stroke-width="0.45"/>
<circle cx="83.32" cy="574.63" r="2.0" fill="#cb6364" stroke="#4a1c1c" stroke-width="0.45"/>
<circle cx="86.94" cy="574.63" r="2.0" fill="#cb6364" stroke="#4a1c1c" stroke-width="0.45"/>
<circle cx="104.04" cy="553.10" r="2.0" fill="#cb6364" stroke="#4a1c1c" stroke-width="0.45"/>
<circle cx="99.42" cy="558.93" r="2.0" fill="#cb6364" stroke="#4a1c1c" stroke-width="0.45"/>
<circle cx="104.45" cy="558.53" r="2.0" fill="#cb6364" stroke="#4a1c1c" stroke-width="0.45"/>
<circle cx="110.89" cy="557.53" r="2.0" fill="#cb6364" stroke="#4a1c1c" stroke-width="0.45"/>
<circle cx="107.46" cy="561.55" r="2.0" fill="#cb6364" stroke="#4a1c1c" stroke-width="0.45"/>
<circle cx="115.51" cy="561.55" r="2.0" fill="#cb6364" stroke="#4a1c1c" stroke-width="0.45"/>
<circle cx="100.02" cy="564.16" r="2.0" fill="#cb6364" stroke="#4a1c1c" stroke-width="0.45"/>
<circle cx="103.44" cy="563.56" r="2.0" fill="#cb6364" stroke="#4a1c1c" stroke-width="0.45"/>
<circle cx="108.47" cy="564.16" r="2.0" fill="#cb6364" stroke="#4a1c1c" stroke-width="0.45"/>
<circle cx="114.51" cy="564.57" r="2.0" fill="#cb6364" stroke="#4a1c1c" stroke-width="0.45"/>
<circle cx="118.53" cy="562.15" r="2.0" fill="#cb6364" stroke="#4a1c1c" stroke-width="0.45"/>
<circle cx="98.41" cy="568.99" r="2.0" fill="#cb6364" stroke="#4a1c1c" stroke-width="0.45"/>
<circle cx="103.44" cy="569.60" r="2.0" fill="#cb6364" stroke="#4a1c1c" stroke-width="0.45"/>
<circle cx="108.47" cy="568.59" r="2.0" fill="#cb6364" stroke="#4a1c1c" stroke-width="0.45"/>
<circle cx="113.50" cy="568.59" r="2.0" fill="#cb6364" stroke="#4a1c1c" stroke-width="0.45"/>
<circle cx="117.53" cy="566.98" r="2.0" fill="#cb6364" stroke="#4a1c1c" stroke-width="0.45"/>
<circle cx="103.44" cy="574.63" r="2.0" fill="#cb6364" stroke="#4a1c1c" stroke-width="0.45"/>
<circle cx="107.46" cy="575.63" r="2.0" fill="#cb6364" stroke="#4a1c1c" stroke-width="0.45"/>
<circle cx="114.10" cy="575.63" r="2.0" fill="#cb6364" stroke="#4a1c1c" stroke-width="0.45"/>
<circle cx="99.42" cy="574.63" r="2.0" fill="#cb6364" stroke="#4a1c1c" stroke-width="0.45"/>
<circle cx="103.84" cy="578.65" r="2.0" fill="#cb6364" stroke="#4a1c1c" stroke-width="0.45"/>
<line x1="40.00" y1="503.20" x2="67.20" y2="503.20" stroke="#111" stroke-width="0.9"/>
<line x1="67.80" y1="562.60" x2="95.40" y2="562.60" stroke="#111" stroke-width="0.9"/>
<line x1="95.40" y1="566.60" x2="123.00" y2="566.60" stroke="#111" stroke-width="0.9"/>
<text x="40.50" y="586.7" font-size="8.2" fill="#231f20" textLength="23.70" lengthAdjust="spacingAndGlyphs" stroke="#231f20" stroke-width="0.1"><tspan font-style="italic">n</tspan> = 24</text>
<text x="68.80" y="586.7" font-size="8.2" fill="#231f20" textLength="23.20" lengthAdjust="spacingAndGlyphs" stroke="#231f20" stroke-width="0.1"><tspan font-style="italic">n</tspan> = 23</text>
<text x="98.40" y="586.7" font-size="8.2" fill="#231f20" textLength="20.70" lengthAdjust="spacingAndGlyphs" stroke="#231f20" stroke-width="0.1"><tspan font-style="italic">n</tspan> = 21</text>
<rect x="36.60" y="593.20" width="89.20" height="17.80" fill="none" stroke="#5a5a5a" stroke-width="0.8"/>
<text x="32.30" y="600.80" font-size="7.9" text-anchor="end" fill="#231f20" stroke="#231f20" stroke-width="0.1">Below</text>
<text x="32.30" y="609.30" font-size="7.9" text-anchor="end" fill="#231f20" stroke="#231f20" stroke-width="0.1">threshold</text>
<circle cx="81.2" cy="600.3" r="2.05" fill="none" stroke="#222" stroke-width="0.85"/>
<circle cx="104.0" cy="600.3" r="2.05" fill="none" stroke="#222" stroke-width="0.85"/>
<circle cx="109.1" cy="600.3" r="2.05" fill="none" stroke="#222" stroke-width="0.85"/>
<circle cx="114.4" cy="600.3" r="2.05" fill="none" stroke="#222" stroke-width="0.85"/>
<line x1="53.50" y1="611.00" x2="53.50" y2="614.40" stroke="#555" stroke-width="0.7"/>
<line x1="81.60" y1="611.00" x2="81.60" y2="614.40" stroke="#555" stroke-width="0.7"/>
<line x1="109.50" y1="611.00" x2="109.50" y2="614.40" stroke="#555" stroke-width="0.7"/>
<text x="58.70" y="623.80" font-size="8.8" text-anchor="end" fill="#231f20" transform="rotate(-45 58.70 623.80)" stroke="#231f20" stroke-width="0.1">12 d.p.i.</text>
<text x="87.10" y="623.80" font-size="8.8" text-anchor="end" fill="#231f20" transform="rotate(-45 87.10 623.80)" stroke="#231f20" stroke-width="0.1">21 w.p.i.</text>
<text x="114.70" y="623.80" font-size="8.8" text-anchor="end" fill="#231f20" transform="rotate(-45 114.70 623.80)" stroke="#231f20" stroke-width="0.1">66 w.p.i.</text>
<text x="137.00" y="285.90" font-size="12.2" text-anchor="start" fill="#000" font-weight="bold" stroke="#000" stroke-width="0.1">e</text>
<text x="296.40" y="286.00" font-size="8.7" text-anchor="start" fill="#231f20" textLength="44.2" lengthAdjust="spacingAndGlyphs" stroke="#231f20" stroke-width="0.1">Tissue DNA</text>
<circle cx="186.60" cy="294.80" r="2.40" fill="#1818d6" stroke="#1a1a1a" stroke-width="0.3"/>
<text x="193.80" y="297.40" font-size="7.4" text-anchor="start" fill="#231f20" stroke="#231f20" stroke-width="0.1">pLN</text>
<rect x="220.55" y="292.35" width="4.90" height="4.90" fill="#ee1212" stroke="#1a1a1a" stroke-width="0.3"/>
<text x="229.80" y="297.40" font-size="7.4" text-anchor="start" fill="#231f20" stroke="#231f20" stroke-width="0.1">mLN</text>
<path d="M261.40,292.16 L264.04,296.92 L258.75,296.92 Z" fill="#18a418" stroke="#1a1a1a" stroke-width="0.3"/>
<text x="268.40" y="297.40" font-size="7.4" text-anchor="start" fill="#231f20" stroke="#231f20" stroke-width="0.1">Spleen</text>
<path d="M308.00,292.40 L310.40,294.80 L308.00,297.20 L305.60,294.80 Z" fill="#9a2ad2" stroke="#1a1a1a" stroke-width="0.3"/>
<text x="314.40" y="297.40" font-size="7.4" text-anchor="start" fill="#231f20" stroke="#231f20" stroke-width="0.1">BM</text>
<circle cx="341.60" cy="294.80" r="2.40" fill="#f48a1c" stroke="#1a1a1a" stroke-width="0.3"/>
<text x="347.70" y="297.40" font-size="7.4" text-anchor="start" fill="#231f20" stroke="#231f20" stroke-width="0.1">Duo</text>
<path d="M377.60,297.44 L380.25,292.68 L374.96,292.68 Z" fill="#9ec2ee" stroke="#1a1a1a" stroke-width="0.3"/>
<text x="384.30" y="297.40" font-size="7.4" text-anchor="start" fill="#231f20" stroke="#231f20" stroke-width="0.1">Rectum</text>
<rect x="424.25" y="292.35" width="4.90" height="4.90" fill="#9b6128" stroke="#1a1a1a" stroke-width="0.3"/>
<text x="433.10" y="297.40" font-size="7.4" text-anchor="start" fill="#231f20" stroke="#231f20" stroke-width="0.1">Liver</text>
<rect x="175.70" y="301.20" width="282.90" height="106.10" fill="none" stroke="#5a5a5a" stroke-width="0.8"/>
<line x1="171.20" y1="407.00" x2="175.70" y2="407.00" stroke="#555" stroke-width="0.7"/>
<text x="167.50" y="409.40" font-size="6.6" text-anchor="end" fill="#231f20" stroke="#231f20" stroke-width="0.1">10<tspan font-size="4.49" dy="-2.8">−1</tspan></text>
<line x1="171.20" y1="389.40" x2="175.70" y2="389.40" stroke="#555" stroke-width="0.7"/>
<text x="167.50" y="391.80" font-size="6.6" text-anchor="end" fill="#231f20" stroke="#231f20" stroke-width="0.1">10<tspan font-size="4.49" dy="-2.8">0</tspan></text>
<line x1="171.20" y1="371.80" x2="175.70" y2="371.80" stroke="#555" stroke-width="0.7"/>
<text x="167.50" y="374.20" font-size="6.6" text-anchor="end" fill="#231f20" stroke="#231f20" stroke-width="0.1">10<tspan font-size="4.49" dy="-2.8">1</tspan></text>
<line x1="171.20" y1="354.20" x2="175.70" y2="354.20" stroke="#555" stroke-width="0.7"/>
<text x="167.50" y="356.60" font-size="6.6" text-anchor="end" fill="#231f20" stroke="#231f20" stroke-width="0.1">10<tspan font-size="4.49" dy="-2.8">2</tspan></text>
<line x1="171.20" y1="336.60" x2="175.70" y2="336.60" stroke="#555" stroke-width="0.7"/>
<text x="167.50" y="339.00" font-size="6.6" text-anchor="end" fill="#231f20" stroke="#231f20" stroke-width="0.1">10<tspan font-size="4.49" dy="-2.8">3</tspan></text>
<line x1="171.20" y1="319.00" x2="175.70" y2="319.00" stroke="#555" stroke-width="0.7"/>
<text x="167.50" y="321.40" font-size="6.6" text-anchor="end" fill="#231f20" stroke="#231f20" stroke-width="0.1">10<tspan font-size="4.49" dy="-2.8">4</tspan></text>
<line x1="171.20" y1="301.40" x2="175.70" y2="301.40" stroke="#555" stroke-width="0.7"/>
<text x="167.50" y="303.80" font-size="6.6" text-anchor="end" fill="#231f20" stroke="#231f20" stroke-width="0.1">10<tspan font-size="4.49" dy="-2.8">5</tspan></text>
<line x1="269.80" y1="301.20" x2="269.80" y2="428.30" stroke="#666" stroke-width="0.7" stroke-dasharray="3,2"/>
<line x1="365.30" y1="301.20" x2="365.30" y2="428.30" stroke="#666" stroke-width="0.7" stroke-dasharray="3,2"/>
<circle cx="185.30" cy="335.31" r="2.15" fill="#1818d6" stroke="#1a1a1a" stroke-width="0.4"/>
<circle cx="187.50" cy="333.70" r="2.15" fill="#1818d6" stroke="#1a1a1a" stroke-width="0.4"/>
<circle cx="187.50" cy="336.96" r="2.15" fill="#1818d6" stroke="#1a1a1a" stroke-width="0.4"/>
<circle cx="184.20" cy="337.92" r="2.15" fill="#1818d6" stroke="#1a1a1a" stroke-width="0.4"/>
<circle cx="185.30" cy="331.92" r="2.15" fill="#1818d6" stroke="#1a1a1a" stroke-width="0.4"/>
<circle cx="188.60" cy="330.72" r="2.15" fill="#1818d6" stroke="#1a1a1a" stroke-width="0.4"/>
<circle cx="186.40" cy="339.61" r="2.15" fill="#1818d6" stroke="#1a1a1a" stroke-width="0.4"/>
<circle cx="185.30" cy="329.14" r="2.15" fill="#1818d6" stroke="#1a1a1a" stroke-width="0.4"/>
<circle cx="183.10" cy="340.96" r="2.15" fill="#1818d6" stroke="#1a1a1a" stroke-width="0.4"/>
<circle cx="187.50" cy="327.59" r="2.15" fill="#1818d6" stroke="#1a1a1a" stroke-width="0.4"/>
<circle cx="185.30" cy="343.05" r="2.15" fill="#1818d6" stroke="#1a1a1a" stroke-width="0.4"/>
<circle cx="184.20" cy="326.44" r="2.15" fill="#1818d6" stroke="#1a1a1a" stroke-width="0.4"/>
<circle cx="188.60" cy="344.48" r="2.15" fill="#1818d6" stroke="#1a1a1a" stroke-width="0.4"/>
<circle cx="186.40" cy="324.63" r="2.15" fill="#1818d6" stroke="#1a1a1a" stroke-width="0.4"/>
<circle cx="183.10" cy="345.47" r="2.15" fill="#1818d6" stroke="#1a1a1a" stroke-width="0.4"/>
<circle cx="184.20" cy="323.02" r="2.15" fill="#1818d6" stroke="#1a1a1a" stroke-width="0.4"/>
<circle cx="185.30" cy="354.29" r="2.15" fill="#1818d6" stroke="#1a1a1a" stroke-width="0.4"/>
<circle cx="185.30" cy="359.07" r="2.15" fill="#1818d6" stroke="#1a1a1a" stroke-width="0.4"/>
<line x1="179.10" y1="335.00" x2="191.50" y2="335.00" stroke="#111" stroke-width="0.8"/>
<rect x="195.35" y="326.48" width="4.30" height="4.30" fill="#ee1212" stroke="#1a1a1a" stroke-width="0.4"/>
<rect x="198.65" y="327.94" width="4.30" height="4.30" fill="#ee1212" stroke="#1a1a1a" stroke-width="0.4"/>
<rect x="197.55" y="324.97" width="4.30" height="4.30" fill="#ee1212" stroke="#1a1a1a" stroke-width="0.4"/>
<rect x="194.25" y="323.93" width="4.30" height="4.30" fill="#ee1212" stroke="#1a1a1a" stroke-width="0.4"/>
<rect x="196.45" y="322.11" width="4.30" height="4.30" fill="#ee1212" stroke="#1a1a1a" stroke-width="0.4"/>
<rect x="193.15" y="320.81" width="4.30" height="4.30" fill="#ee1212" stroke="#1a1a1a" stroke-width="0.4"/>
<rect x="198.65" y="319.76" width="4.30" height="4.30" fill="#ee1212" stroke="#1a1a1a" stroke-width="0.4"/>
<rect x="195.35" y="334.65" width="4.30" height="4.30" fill="#ee1212" stroke="#1a1a1a" stroke-width="0.4"/>
<rect x="195.35" y="318.38" width="4.30" height="4.30" fill="#ee1212" stroke="#1a1a1a" stroke-width="0.4"/>
<rect x="197.55" y="336.95" width="4.30" height="4.30" fill="#ee1212" stroke="#1a1a1a" stroke-width="0.4"/>
<rect x="195.35" y="338.88" width="4.30" height="4.30" fill="#ee1212" stroke="#1a1a1a" stroke-width="0.4"/>
<rect x="197.55" y="341.15" width="4.30" height="4.30" fill="#ee1212" stroke="#1a1a1a" stroke-width="0.4"/>
<rect x="195.35" y="346.93" width="4.30" height="4.30" fill="#ee1212" stroke="#1a1a1a" stroke-width="0.4"/>
<rect x="197.55" y="348.55" width="4.30" height="4.30" fill="#ee1212" stroke="#1a1a1a" stroke-width="0.4"/>
<rect x="194.25" y="349.96" width="4.30" height="4.30" fill="#ee1212" stroke="#1a1a1a" stroke-width="0.4"/>
<rect x="196.45" y="351.62" width="4.30" height="4.30" fill="#ee1212" stroke="#1a1a1a" stroke-width="0.4"/>
<rect x="195.35" y="358.14" width="4.30" height="4.30" fill="#ee1212" stroke="#1a1a1a" stroke-width="0.4"/>
<rect x="198.65" y="359.45" width="4.30" height="4.30" fill="#ee1212" stroke="#1a1a1a" stroke-width="0.4"/>
<line x1="191.30" y1="329.20" x2="203.70" y2="329.20" stroke="#111" stroke-width="0.8"/>
<path d="M209.70,336.96 L212.17,341.41 L207.23,341.41 Z" fill="#18a418" stroke="#1a1a1a" stroke-width="0.4"/>
<path d="M213.00,338.04 L215.47,342.50 L210.53,342.50 Z" fill="#18a418" stroke="#1a1a1a" stroke-width="0.4"/>
<path d="M206.40,335.66 L208.87,340.11 L203.93,340.11 Z" fill="#18a418" stroke="#1a1a1a" stroke-width="0.4"/>
<path d="M210.80,334.47 L213.27,338.92 L208.33,338.92 Z" fill="#18a418" stroke="#1a1a1a" stroke-width="0.4"/>
<path d="M209.70,339.86 L212.17,344.31 L207.23,344.31 Z" fill="#18a418" stroke="#1a1a1a" stroke-width="0.4"/>
<path d="M205.70,333.53 L208.18,337.98 L203.23,337.98 Z" fill="#18a418" stroke="#1a1a1a" stroke-width="0.4"/>
<path d="M213.00,340.82 L215.47,345.27 L210.53,345.27 Z" fill="#18a418" stroke="#1a1a1a" stroke-width="0.4"/>
<path d="M208.60,332.38 L211.07,336.83 L206.13,336.83 Z" fill="#18a418" stroke="#1a1a1a" stroke-width="0.4"/>
<path d="M211.90,331.25 L214.37,335.70 L209.43,335.70 Z" fill="#18a418" stroke="#1a1a1a" stroke-width="0.4"/>
<path d="M209.70,347.80 L212.17,352.26 L207.23,352.26 Z" fill="#18a418" stroke="#1a1a1a" stroke-width="0.4"/>
<path d="M209.70,325.43 L212.17,329.88 L207.23,329.88 Z" fill="#18a418" stroke="#1a1a1a" stroke-width="0.4"/>
<path d="M209.70,353.56 L212.17,358.01 L207.23,358.01 Z" fill="#18a418" stroke="#1a1a1a" stroke-width="0.4"/>
<path d="M211.90,355.27 L214.37,359.72 L209.43,359.72 Z" fill="#18a418" stroke="#1a1a1a" stroke-width="0.4"/>
<path d="M209.70,364.71 L212.17,369.16 L207.23,369.16 Z" fill="#18a418" stroke="#1a1a1a" stroke-width="0.4"/>
<line x1="203.50" y1="339.60" x2="215.90" y2="339.60" stroke="#111" stroke-width="0.8"/>
<path d="M221.90,342.16 L224.27,344.52 L221.90,346.89 L219.53,344.52 Z" fill="#9a2ad2" stroke="#1a1a1a" stroke-width="0.4"/>
<path d="M225.20,343.42 L227.57,345.78 L225.20,348.15 L222.84,345.78 Z" fill="#9a2ad2" stroke="#1a1a1a" stroke-width="0.4"/>
<path d="M224.10,340.37 L226.47,342.74 L224.10,345.10 L221.73,342.74 Z" fill="#9a2ad2" stroke="#1a1a1a" stroke-width="0.4"/>
<path d="M221.90,344.94 L224.27,347.30 L221.90,349.67 L219.53,347.30 Z" fill="#9a2ad2" stroke="#1a1a1a" stroke-width="0.4"/>
<path d="M221.90,338.26 L224.27,340.63 L221.90,342.99 L219.53,340.63 Z" fill="#9a2ad2" stroke="#1a1a1a" stroke-width="0.4"/>
<path d="M224.10,346.80 L226.47,349.17 L224.10,351.53 L221.73,349.17 Z" fill="#9a2ad2" stroke="#1a1a1a" stroke-width="0.4"/>
<path d="M225.20,336.85 L227.57,339.22 L225.20,341.58 L222.84,339.22 Z" fill="#9a2ad2" stroke="#1a1a1a" stroke-width="0.4"/>
<path d="M220.80,335.65 L223.17,338.02 L220.80,340.38 L218.44,338.02 Z" fill="#9a2ad2" stroke="#1a1a1a" stroke-width="0.4"/>
<path d="M221.90,348.97 L224.27,351.34 L221.90,353.70 L219.53,351.34 Z" fill="#9a2ad2" stroke="#1a1a1a" stroke-width="0.4"/>
<path d="M223.00,333.58 L225.37,335.94 L223.00,338.31 L220.63,335.94 Z" fill="#9a2ad2" stroke="#1a1a1a" stroke-width="0.4"/>
<path d="M219.70,332.26 L222.07,334.63 L219.70,336.99 L217.34,334.63 Z" fill="#9a2ad2" stroke="#1a1a1a" stroke-width="0.4"/>
<path d="M221.90,330.04 L224.27,332.40 L221.90,334.77 L219.53,332.40 Z" fill="#9a2ad2" stroke="#1a1a1a" stroke-width="0.4"/>
<path d="M221.90,355.64 L224.27,358.01 L221.90,360.37 L219.53,358.01 Z" fill="#9a2ad2" stroke="#1a1a1a" stroke-width="0.4"/>
<path d="M221.90,372.83 L224.27,375.19 L221.90,377.56 L219.53,375.19 Z" fill="#9a2ad2" stroke="#1a1a1a" stroke-width="0.4"/>
<line x1="215.70" y1="344.50" x2="228.10" y2="344.50" stroke="#111" stroke-width="0.8"/>
<circle cx="234.10" cy="344.17" r="2.15" fill="#f48a1c" stroke="#1a1a1a" stroke-width="0.4"/>
<circle cx="236.30" cy="342.12" r="2.15" fill="#f48a1c" stroke="#1a1a1a" stroke-width="0.4"/>
<circle cx="233.00" cy="340.70" r="2.15" fill="#f48a1c" stroke="#1a1a1a" stroke-width="0.4"/>
<circle cx="235.20" cy="339.16" r="2.15" fill="#f48a1c" stroke="#1a1a1a" stroke-width="0.4"/>
<circle cx="233.00" cy="337.23" r="2.15" fill="#f48a1c" stroke="#1a1a1a" stroke-width="0.4"/>
<circle cx="234.10" cy="350.95" r="2.15" fill="#f48a1c" stroke="#1a1a1a" stroke-width="0.4"/>
<circle cx="236.30" cy="336.10" r="2.15" fill="#f48a1c" stroke="#1a1a1a" stroke-width="0.4"/>
<circle cx="234.10" cy="353.86" r="2.15" fill="#f48a1c" stroke="#1a1a1a" stroke-width="0.4"/>
<circle cx="234.10" cy="333.89" r="2.15" fill="#f48a1c" stroke="#1a1a1a" stroke-width="0.4"/>
<circle cx="236.30" cy="332.29" r="2.15" fill="#f48a1c" stroke="#1a1a1a" stroke-width="0.4"/>
<circle cx="236.30" cy="355.94" r="2.15" fill="#f48a1c" stroke="#1a1a1a" stroke-width="0.4"/>
<circle cx="234.10" cy="358.69" r="2.15" fill="#f48a1c" stroke="#1a1a1a" stroke-width="0.4"/>
<circle cx="236.30" cy="361.02" r="2.15" fill="#f48a1c" stroke="#1a1a1a" stroke-width="0.4"/>
<circle cx="234.10" cy="363.57" r="2.15" fill="#f48a1c" stroke="#1a1a1a" stroke-width="0.4"/>
<circle cx="234.10" cy="366.63" r="2.15" fill="#f48a1c" stroke="#1a1a1a" stroke-width="0.4"/>
<circle cx="234.10" cy="320.70" r="2.15" fill="#f48a1c" stroke="#1a1a1a" stroke-width="0.4"/>
<circle cx="236.30" cy="368.99" r="2.15" fill="#f48a1c" stroke="#1a1a1a" stroke-width="0.4"/>
<line x1="227.90" y1="344.00" x2="240.30" y2="344.00" stroke="#111" stroke-width="0.8"/>
<path d="M246.30,355.33 L248.77,350.88 L243.83,350.88 Z" fill="#9ec2ee" stroke="#1a1a1a" stroke-width="0.4"/>
<path d="M249.60,356.26 L252.07,351.81 L247.13,351.81 Z" fill="#9ec2ee" stroke="#1a1a1a" stroke-width="0.4"/>
<path d="M243.00,354.79 L245.47,350.34 L240.53,350.34 Z" fill="#9ec2ee" stroke="#1a1a1a" stroke-width="0.4"/>
<path d="M246.17,357.06 L248.64,352.61 L243.70,352.61 Z" fill="#9ec2ee" stroke="#1a1a1a" stroke-width="0.4"/>
<path d="M248.50,353.25 L250.97,348.80 L246.03,348.80 Z" fill="#9ec2ee" stroke="#1a1a1a" stroke-width="0.4"/>
<path d="M243.00,358.18 L245.47,353.73 L240.53,353.73 Z" fill="#9ec2ee" stroke="#1a1a1a" stroke-width="0.4"/>
<path d="M245.20,352.12 L247.67,347.67 L242.73,347.67 Z" fill="#9ec2ee" stroke="#1a1a1a" stroke-width="0.4"/>
<path d="M246.90,351.75 L249.37,347.30 L244.42,347.30 Z" fill="#9ec2ee" stroke="#1a1a1a" stroke-width="0.4"/>
<path d="M246.30,359.86 L248.77,355.40 L243.83,355.40 Z" fill="#9ec2ee" stroke="#1a1a1a" stroke-width="0.4"/>
<path d="M249.60,360.81 L252.07,356.36 L247.13,356.36 Z" fill="#9ec2ee" stroke="#1a1a1a" stroke-width="0.4"/>
<path d="M244.10,349.63 L246.57,345.18 L241.63,345.18 Z" fill="#9ec2ee" stroke="#1a1a1a" stroke-width="0.4"/>
<path d="M247.40,348.85 L249.87,344.40 L244.93,344.40 Z" fill="#9ec2ee" stroke="#1a1a1a" stroke-width="0.4"/>
<path d="M246.30,362.62 L248.77,358.17 L243.83,358.17 Z" fill="#9ec2ee" stroke="#1a1a1a" stroke-width="0.4"/>
<path d="M249.23,347.60 L251.70,343.15 L246.76,343.15 Z" fill="#9ec2ee" stroke="#1a1a1a" stroke-width="0.4"/>
<path d="M249.60,364.07 L252.07,359.62 L247.13,359.62 Z" fill="#9ec2ee" stroke="#1a1a1a" stroke-width="0.4"/>
<path d="M246.30,345.52 L248.77,341.07 L243.83,341.07 Z" fill="#9ec2ee" stroke="#1a1a1a" stroke-width="0.4"/>
<path d="M246.30,366.22 L248.77,361.77 L243.83,361.77 Z" fill="#9ec2ee" stroke="#1a1a1a" stroke-width="0.4"/>
<path d="M248.50,343.45 L250.97,339.00 L246.03,339.00 Z" fill="#9ec2ee" stroke="#1a1a1a" stroke-width="0.4"/>
<path d="M246.30,341.81 L248.77,337.36 L243.83,337.36 Z" fill="#9ec2ee" stroke="#1a1a1a" stroke-width="0.4"/>
<path d="M246.30,373.37 L248.77,368.92 L243.83,368.92 Z" fill="#9ec2ee" stroke="#1a1a1a" stroke-width="0.4"/>
<path d="M246.30,333.47 L248.77,329.02 L243.83,329.02 Z" fill="#9ec2ee" stroke="#1a1a1a" stroke-width="0.4"/>
<line x1="240.10" y1="353.20" x2="252.50" y2="353.20" stroke="#111" stroke-width="0.8"/>
<rect x="256.35" y="346.22" width="4.30" height="4.30" fill="#9b6128" stroke="#1a1a1a" stroke-width="0.4"/>
<rect x="259.65" y="347.06" width="4.30" height="4.30" fill="#9b6128" stroke="#1a1a1a" stroke-width="0.4"/>
<rect x="253.05" y="344.74" width="4.30" height="4.30" fill="#9b6128" stroke="#1a1a1a" stroke-width="0.4"/>
<rect x="253.05" y="347.72" width="4.30" height="4.30" fill="#9b6128" stroke="#1a1a1a" stroke-width="0.4"/>
<rect x="258.55" y="344.45" width="4.30" height="4.30" fill="#9b6128" stroke="#1a1a1a" stroke-width="0.4"/>
<rect x="257.12" y="348.46" width="4.30" height="4.30" fill="#9b6128" stroke="#1a1a1a" stroke-width="0.4"/>
<rect x="254.70" y="343.40" width="4.30" height="4.30" fill="#9b6128" stroke="#1a1a1a" stroke-width="0.4"/>
<rect x="253.75" y="349.09" width="4.30" height="4.30" fill="#9b6128" stroke="#1a1a1a" stroke-width="0.4"/>
<rect x="258.11" y="342.07" width="4.30" height="4.30" fill="#9b6128" stroke="#1a1a1a" stroke-width="0.4"/>
<rect x="258.55" y="350.91" width="4.30" height="4.30" fill="#9b6128" stroke="#1a1a1a" stroke-width="0.4"/>
<rect x="253.05" y="341.24" width="4.30" height="4.30" fill="#9b6128" stroke="#1a1a1a" stroke-width="0.4"/>
<rect x="252.90" y="340.80" width="4.30" height="4.30" fill="#9b6128" stroke="#1a1a1a" stroke-width="0.4"/>
<rect x="256.35" y="339.99" width="4.30" height="4.30" fill="#9b6128" stroke="#1a1a1a" stroke-width="0.4"/>
<rect x="259.65" y="338.50" width="4.30" height="4.30" fill="#9b6128" stroke="#1a1a1a" stroke-width="0.4"/>
<rect x="256.35" y="354.50" width="4.30" height="4.30" fill="#9b6128" stroke="#1a1a1a" stroke-width="0.4"/>
<rect x="254.15" y="337.64" width="4.30" height="4.30" fill="#9b6128" stroke="#1a1a1a" stroke-width="0.4"/>
<rect x="258.55" y="356.77" width="4.30" height="4.30" fill="#9b6128" stroke="#1a1a1a" stroke-width="0.4"/>
<rect x="256.35" y="359.99" width="4.30" height="4.30" fill="#9b6128" stroke="#1a1a1a" stroke-width="0.4"/>
<rect x="257.45" y="362.48" width="4.30" height="4.30" fill="#9b6128" stroke="#1a1a1a" stroke-width="0.4"/>
<rect x="256.35" y="365.78" width="4.30" height="4.30" fill="#9b6128" stroke="#1a1a1a" stroke-width="0.4"/>
<line x1="252.30" y1="348.30" x2="264.70" y2="348.30" stroke="#111" stroke-width="0.8"/>
<circle cx="280.10" cy="349.67" r="2.15" fill="#1818d6" stroke="#1a1a1a" stroke-width="0.4"/>
<circle cx="283.40" cy="348.16" r="2.15" fill="#1818d6" stroke="#1a1a1a" stroke-width="0.4"/>
<circle cx="279.00" cy="347.01" r="2.15" fill="#1818d6" stroke="#1a1a1a" stroke-width="0.4"/>
<circle cx="283.40" cy="351.11" r="2.15" fill="#1818d6" stroke="#1a1a1a" stroke-width="0.4"/>
<circle cx="281.36" cy="346.28" r="2.15" fill="#1818d6" stroke="#1a1a1a" stroke-width="0.4"/>
<circle cx="279.00" cy="352.10" r="2.15" fill="#1818d6" stroke="#1a1a1a" stroke-width="0.4"/>
<circle cx="281.63" cy="353.49" r="2.15" fill="#1818d6" stroke="#1a1a1a" stroke-width="0.4"/>
<circle cx="277.90" cy="344.47" r="2.15" fill="#1818d6" stroke="#1a1a1a" stroke-width="0.4"/>
<circle cx="281.20" cy="343.44" r="2.15" fill="#1818d6" stroke="#1a1a1a" stroke-width="0.4"/>
<circle cx="279.00" cy="354.95" r="2.15" fill="#1818d6" stroke="#1a1a1a" stroke-width="0.4"/>
<circle cx="280.78" cy="342.33" r="2.15" fill="#1818d6" stroke="#1a1a1a" stroke-width="0.4"/>
<circle cx="282.30" cy="356.41" r="2.15" fill="#1818d6" stroke="#1a1a1a" stroke-width="0.4"/>
<circle cx="277.90" cy="340.80" r="2.15" fill="#1818d6" stroke="#1a1a1a" stroke-width="0.4"/>
<circle cx="276.80" cy="357.36" r="2.15" fill="#1818d6" stroke="#1a1a1a" stroke-width="0.4"/>
<circle cx="280.10" cy="339.23" r="2.15" fill="#1818d6" stroke="#1a1a1a" stroke-width="0.4"/>
<circle cx="280.10" cy="358.84" r="2.15" fill="#1818d6" stroke="#1a1a1a" stroke-width="0.4"/>
<circle cx="280.10" cy="362.51" r="2.15" fill="#1818d6" stroke="#1a1a1a" stroke-width="0.4"/>
<circle cx="280.10" cy="369.48" r="2.15" fill="#1818d6" stroke="#1a1a1a" stroke-width="0.4"/>
<line x1="273.90" y1="349.00" x2="286.30" y2="349.00" stroke="#111" stroke-width="0.8"/>
<rect x="290.15" y="337.95" width="4.30" height="4.30" fill="#ee1212" stroke="#1a1a1a" stroke-width="0.4"/>
<rect x="293.45" y="336.65" width="4.30" height="4.30" fill="#ee1212" stroke="#1a1a1a" stroke-width="0.4"/>
<rect x="286.85" y="338.61" width="4.30" height="4.30" fill="#ee1212" stroke="#1a1a1a" stroke-width="0.4"/>
<rect x="287.95" y="335.69" width="4.30" height="4.30" fill="#ee1212" stroke="#1a1a1a" stroke-width="0.4"/>
<rect x="291.25" y="340.41" width="4.30" height="4.30" fill="#ee1212" stroke="#1a1a1a" stroke-width="0.4"/>
<rect x="291.63" y="340.66" width="4.30" height="4.30" fill="#ee1212" stroke="#1a1a1a" stroke-width="0.4"/>
<rect x="290.15" y="333.89" width="4.30" height="4.30" fill="#ee1212" stroke="#1a1a1a" stroke-width="0.4"/>
<rect x="293.45" y="333.55" width="4.30" height="4.30" fill="#ee1212" stroke="#1a1a1a" stroke-width="0.4"/>
<rect x="289.05" y="342.39" width="4.30" height="4.30" fill="#ee1212" stroke="#1a1a1a" stroke-width="0.4"/>
<rect x="287.95" y="331.88" width="4.30" height="4.30" fill="#ee1212" stroke="#1a1a1a" stroke-width="0.4"/>
<rect x="291.25" y="343.92" width="4.30" height="4.30" fill="#ee1212" stroke="#1a1a1a" stroke-width="0.4"/>
<rect x="291.25" y="330.51" width="4.30" height="4.30" fill="#ee1212" stroke="#1a1a1a" stroke-width="0.4"/>
<rect x="289.05" y="345.53" width="4.30" height="4.30" fill="#ee1212" stroke="#1a1a1a" stroke-width="0.4"/>
<rect x="292.35" y="346.95" width="4.30" height="4.30" fill="#ee1212" stroke="#1a1a1a" stroke-width="0.4"/>
<rect x="290.15" y="327.80" width="4.30" height="4.30" fill="#ee1212" stroke="#1a1a1a" stroke-width="0.4"/>
<rect x="290.15" y="348.70" width="4.30" height="4.30" fill="#ee1212" stroke="#1a1a1a" stroke-width="0.4"/>
<rect x="292.35" y="325.58" width="4.30" height="4.30" fill="#ee1212" stroke="#1a1a1a" stroke-width="0.4"/>
<rect x="292.35" y="350.84" width="4.30" height="4.30" fill="#ee1212" stroke="#1a1a1a" stroke-width="0.4"/>
<rect x="290.15" y="353.49" width="4.30" height="4.30" fill="#ee1212" stroke="#1a1a1a" stroke-width="0.4"/>
<rect x="290.15" y="318.35" width="4.30" height="4.30" fill="#ee1212" stroke="#1a1a1a" stroke-width="0.4"/>
<rect x="290.15" y="361.75" width="4.30" height="4.30" fill="#ee1212" stroke="#1a1a1a" stroke-width="0.4"/>
<line x1="286.10" y1="339.60" x2="298.50" y2="339.60" stroke="#111" stroke-width="0.8"/>
<path d="M304.50,348.03 L306.97,352.49 L302.03,352.49 Z" fill="#18a418" stroke="#1a1a1a" stroke-width="0.4"/>
<path d="M307.80,348.83 L310.27,353.28 L305.33,353.28 Z" fill="#18a418" stroke="#1a1a1a" stroke-width="0.4"/>
<path d="M301.20,347.01 L303.67,351.46 L298.73,351.46 Z" fill="#18a418" stroke="#1a1a1a" stroke-width="0.4"/>
<path d="M302.30,349.97 L304.77,354.42 L299.83,354.42 Z" fill="#18a418" stroke="#1a1a1a" stroke-width="0.4"/>
<path d="M306.70,346.25 L309.17,350.70 L304.23,350.70 Z" fill="#18a418" stroke="#1a1a1a" stroke-width="0.4"/>
<path d="M305.60,350.98 L308.07,355.43 L303.13,355.43 Z" fill="#18a418" stroke="#1a1a1a" stroke-width="0.4"/>
<path d="M306.38,351.54 L308.85,355.99 L303.91,355.99 Z" fill="#18a418" stroke="#1a1a1a" stroke-width="0.4"/>
<path d="M303.40,345.21 L305.87,349.66 L300.93,349.66 Z" fill="#18a418" stroke="#1a1a1a" stroke-width="0.4"/>
<path d="M305.15,343.93 L307.62,348.38 L302.68,348.38 Z" fill="#18a418" stroke="#1a1a1a" stroke-width="0.4"/>
<path d="M303.40,352.97 L305.87,357.43 L300.93,357.43 Z" fill="#18a418" stroke="#1a1a1a" stroke-width="0.4"/>
<path d="M307.80,343.30 L310.27,347.75 L305.33,347.75 Z" fill="#18a418" stroke="#1a1a1a" stroke-width="0.4"/>
<path d="M306.70,354.24 L309.17,358.69 L304.23,358.69 Z" fill="#18a418" stroke="#1a1a1a" stroke-width="0.4"/>
<path d="M302.30,342.34 L304.77,346.79 L299.83,346.79 Z" fill="#18a418" stroke="#1a1a1a" stroke-width="0.4"/>
<path d="M301.20,355.14 L303.67,359.59 L298.73,359.59 Z" fill="#18a418" stroke="#1a1a1a" stroke-width="0.4"/>
<path d="M304.50,359.91 L306.97,364.36 L302.03,364.36 Z" fill="#18a418" stroke="#1a1a1a" stroke-width="0.4"/>
<path d="M304.50,364.84 L306.97,369.29 L302.03,369.29 Z" fill="#18a418" stroke="#1a1a1a" stroke-width="0.4"/>
<line x1="298.30" y1="350.90" x2="310.70" y2="350.90" stroke="#111" stroke-width="0.8"/>
<path d="M316.70,355.05 L319.07,357.42 L316.70,359.78 L314.34,357.42 Z" fill="#9a2ad2" stroke="#1a1a1a" stroke-width="0.4"/>
<path d="M320.00,354.65 L322.37,357.02 L320.00,359.38 L317.64,357.02 Z" fill="#9a2ad2" stroke="#1a1a1a" stroke-width="0.4"/>
<path d="M313.40,356.19 L315.77,358.55 L313.40,360.92 L311.04,358.55 Z" fill="#9a2ad2" stroke="#1a1a1a" stroke-width="0.4"/>
<path d="M314.06,354.07 L316.42,356.44 L314.06,358.80 L311.69,356.44 Z" fill="#9a2ad2" stroke="#1a1a1a" stroke-width="0.4"/>
<path d="M319.95,356.69 L322.31,359.06 L319.95,361.42 L317.58,359.06 Z" fill="#9a2ad2" stroke="#1a1a1a" stroke-width="0.4"/>
<path d="M317.98,352.73 L320.34,355.10 L317.98,357.46 L315.61,355.10 Z" fill="#9a2ad2" stroke="#1a1a1a" stroke-width="0.4"/>
<path d="M316.24,357.57 L318.60,359.93 L316.24,362.30 L313.87,359.93 Z" fill="#9a2ad2" stroke="#1a1a1a" stroke-width="0.4"/>
<path d="M319.83,352.60 L322.20,354.96 L319.83,357.33 L317.47,354.96 Z" fill="#9a2ad2" stroke="#1a1a1a" stroke-width="0.4"/>
<path d="M315.32,358.69 L317.68,361.05 L315.32,363.42 L312.95,361.05 Z" fill="#9a2ad2" stroke="#1a1a1a" stroke-width="0.4"/>
<path d="M318.03,358.92 L320.39,361.28 L318.03,363.65 L315.66,361.28 Z" fill="#9a2ad2" stroke="#1a1a1a" stroke-width="0.4"/>
<path d="M315.60,350.94 L317.97,353.30 L315.60,355.67 L313.24,353.30 Z" fill="#9a2ad2" stroke="#1a1a1a" stroke-width="0.4"/>
<path d="M314.29,359.67 L316.65,362.04 L314.29,364.40 L311.92,362.04 Z" fill="#9a2ad2" stroke="#1a1a1a" stroke-width="0.4"/>
<path d="M316.15,350.47 L318.51,352.84 L316.15,355.20 L313.78,352.84 Z" fill="#9a2ad2" stroke="#1a1a1a" stroke-width="0.4"/>
<path d="M320.00,361.12 L322.37,363.49 L320.00,365.85 L317.64,363.49 Z" fill="#9a2ad2" stroke="#1a1a1a" stroke-width="0.4"/>
<path d="M316.70,362.92 L319.07,365.29 L316.70,367.65 L314.34,365.29 Z" fill="#9a2ad2" stroke="#1a1a1a" stroke-width="0.4"/>
<path d="M316.70,345.94 L319.07,348.30 L316.70,350.67 L314.34,348.30 Z" fill="#9a2ad2" stroke="#1a1a1a" stroke-width="0.4"/>
<path d="M316.70,367.63 L319.07,370.00 L316.70,372.37 L314.34,370.00 Z" fill="#9a2ad2" stroke="#1a1a1a" stroke-width="0.4"/>
<line x1="310.50" y1="357.50" x2="322.90" y2="357.50" stroke="#111" stroke-width="0.8"/>
<circle cx="328.90" cy="346.91" r="2.15" fill="#f48a1c" stroke="#1a1a1a" stroke-width="0.4"/>
<circle cx="332.20" cy="346.16" r="2.15" fill="#f48a1c" stroke="#1a1a1a" stroke-width="0.4"/>
<circle cx="325.60" cy="345.46" r="2.15" fill="#f48a1c" stroke="#1a1a1a" stroke-width="0.4"/>
<circle cx="325.60" cy="348.27" r="2.15" fill="#f48a1c" stroke="#1a1a1a" stroke-width="0.4"/>
<circle cx="328.90" cy="344.18" r="2.15" fill="#f48a1c" stroke="#1a1a1a" stroke-width="0.4"/>
<circle cx="328.90" cy="349.74" r="2.15" fill="#f48a1c" stroke="#1a1a1a" stroke-width="0.4"/>
<circle cx="332.20" cy="343.42" r="2.15" fill="#f48a1c" stroke="#1a1a1a" stroke-width="0.4"/>
<circle cx="332.20" cy="351.05" r="2.15" fill="#f48a1c" stroke="#1a1a1a" stroke-width="0.4"/>
<circle cx="326.70" cy="341.91" r="2.15" fill="#f48a1c" stroke="#1a1a1a" stroke-width="0.4"/>
<circle cx="328.90" cy="352.51" r="2.15" fill="#f48a1c" stroke="#1a1a1a" stroke-width="0.4"/>
<circle cx="328.90" cy="336.20" r="2.15" fill="#f48a1c" stroke="#1a1a1a" stroke-width="0.4"/>
<circle cx="328.90" cy="357.80" r="2.15" fill="#f48a1c" stroke="#1a1a1a" stroke-width="0.4"/>
<line x1="322.70" y1="346.60" x2="335.10" y2="346.60" stroke="#111" stroke-width="0.8"/>
<path d="M341.10,361.40 L343.57,356.95 L338.63,356.95 Z" fill="#9ec2ee" stroke="#1a1a1a" stroke-width="0.4"/>
<path d="M344.40,362.51 L346.87,358.06 L341.93,358.06 Z" fill="#9ec2ee" stroke="#1a1a1a" stroke-width="0.4"/>
<path d="M343.30,359.76 L345.77,355.30 L340.83,355.30 Z" fill="#9ec2ee" stroke="#1a1a1a" stroke-width="0.4"/>
<path d="M338.90,363.74 L341.37,359.29 L336.43,359.29 Z" fill="#9ec2ee" stroke="#1a1a1a" stroke-width="0.4"/>
<path d="M341.10,357.81 L343.57,353.36 L338.63,353.36 Z" fill="#9ec2ee" stroke="#1a1a1a" stroke-width="0.4"/>
<path d="M342.20,365.23 L344.67,360.78 L339.73,360.78 Z" fill="#9ec2ee" stroke="#1a1a1a" stroke-width="0.4"/>
<path d="M344.40,356.42 L346.87,351.97 L341.93,351.97 Z" fill="#9ec2ee" stroke="#1a1a1a" stroke-width="0.4"/>
<path d="M341.10,354.99 L343.57,350.54 L338.63,350.54 Z" fill="#9ec2ee" stroke="#1a1a1a" stroke-width="0.4"/>
<path d="M343.30,353.29 L345.77,348.84 L340.83,348.84 Z" fill="#9ec2ee" stroke="#1a1a1a" stroke-width="0.4"/>
<path d="M341.10,351.60 L343.57,347.15 L338.63,347.15 Z" fill="#9ec2ee" stroke="#1a1a1a" stroke-width="0.4"/>
<path d="M344.40,350.12 L346.87,345.67 L341.93,345.67 Z" fill="#9ec2ee" stroke="#1a1a1a" stroke-width="0.4"/>
<path d="M341.10,372.75 L343.57,368.30 L338.63,368.30 Z" fill="#9ec2ee" stroke="#1a1a1a" stroke-width="0.4"/>
<path d="M341.10,348.73 L343.57,344.28 L338.63,344.28 Z" fill="#9ec2ee" stroke="#1a1a1a" stroke-width="0.4"/>
<path d="M344.40,373.83 L346.87,369.38 L341.93,369.38 Z" fill="#9ec2ee" stroke="#1a1a1a" stroke-width="0.4"/>
<path d="M343.30,346.97 L345.77,342.52 L340.83,342.52 Z" fill="#9ec2ee" stroke="#1a1a1a" stroke-width="0.4"/>
<path d="M341.10,340.49 L343.57,336.04 L338.63,336.04 Z" fill="#9ec2ee" stroke="#1a1a1a" stroke-width="0.4"/>
<path d="M341.10,383.04 L343.57,378.59 L338.63,378.59 Z" fill="#9ec2ee" stroke="#1a1a1a" stroke-width="0.4"/>
<line x1="334.90" y1="358.70" x2="347.30" y2="358.70" stroke="#111" stroke-width="0.8"/>
<rect x="351.15" y="361.72" width="4.30" height="4.30" fill="#9b6128" stroke="#1a1a1a" stroke-width="0.4"/>
<rect x="354.45" y="360.75" width="4.30" height="4.30" fill="#9b6128" stroke="#1a1a1a" stroke-width="0.4"/>
<rect x="347.85" y="363.08" width="4.30" height="4.30" fill="#9b6128" stroke="#1a1a1a" stroke-width="0.4"/>
<rect x="351.15" y="358.66" width="4.30" height="4.30" fill="#9b6128" stroke="#1a1a1a" stroke-width="0.4"/>
<rect x="351.15" y="364.45" width="4.30" height="4.30" fill="#9b6128" stroke="#1a1a1a" stroke-width="0.4"/>
<rect x="354.45" y="357.56" width="4.30" height="4.30" fill="#9b6128" stroke="#1a1a1a" stroke-width="0.4"/>
<rect x="353.35" y="366.36" width="4.30" height="4.30" fill="#9b6128" stroke="#1a1a1a" stroke-width="0.4"/>
<rect x="351.15" y="355.86" width="4.30" height="4.30" fill="#9b6128" stroke="#1a1a1a" stroke-width="0.4"/>
<rect x="350.05" y="367.66" width="4.30" height="4.30" fill="#9b6128" stroke="#1a1a1a" stroke-width="0.4"/>
<rect x="353.35" y="354.32" width="4.30" height="4.30" fill="#9b6128" stroke="#1a1a1a" stroke-width="0.4"/>
<rect x="352.25" y="369.25" width="4.30" height="4.30" fill="#9b6128" stroke="#1a1a1a" stroke-width="0.4"/>
<rect x="348.95" y="353.49" width="4.30" height="4.30" fill="#9b6128" stroke="#1a1a1a" stroke-width="0.4"/>
<rect x="348.95" y="370.72" width="4.30" height="4.30" fill="#9b6128" stroke="#1a1a1a" stroke-width="0.4"/>
<rect x="351.15" y="351.66" width="4.30" height="4.30" fill="#9b6128" stroke="#1a1a1a" stroke-width="0.4"/>
<rect x="351.15" y="372.28" width="4.30" height="4.30" fill="#9b6128" stroke="#1a1a1a" stroke-width="0.4"/>
<rect x="354.45" y="350.43" width="4.30" height="4.30" fill="#9b6128" stroke="#1a1a1a" stroke-width="0.4"/>
<rect x="353.35" y="373.85" width="4.30" height="4.30" fill="#9b6128" stroke="#1a1a1a" stroke-width="0.4"/>
<rect x="350.05" y="375.08" width="4.30" height="4.30" fill="#9b6128" stroke="#1a1a1a" stroke-width="0.4"/>
<rect x="351.15" y="386.61" width="4.30" height="4.30" fill="#9b6128" stroke="#1a1a1a" stroke-width="0.4"/>
<line x1="347.10" y1="363.60" x2="359.50" y2="363.60" stroke="#111" stroke-width="0.8"/>
<circle cx="375.50" cy="349.06" r="2.15" fill="#1818d6" stroke="#1a1a1a" stroke-width="0.4"/>
<circle cx="377.70" cy="347.27" r="2.15" fill="#1818d6" stroke="#1a1a1a" stroke-width="0.4"/>
<circle cx="377.70" cy="351.07" r="2.15" fill="#1818d6" stroke="#1a1a1a" stroke-width="0.4"/>
<circle cx="375.50" cy="345.47" r="2.15" fill="#1818d6" stroke="#1a1a1a" stroke-width="0.4"/>
<circle cx="378.80" cy="344.16" r="2.15" fill="#1818d6" stroke="#1a1a1a" stroke-width="0.4"/>
<circle cx="375.50" cy="352.66" r="2.15" fill="#1818d6" stroke="#1a1a1a" stroke-width="0.4"/>
<circle cx="375.50" cy="342.24" r="2.15" fill="#1818d6" stroke="#1a1a1a" stroke-width="0.4"/>
<circle cx="377.70" cy="354.47" r="2.15" fill="#1818d6" stroke="#1a1a1a" stroke-width="0.4"/>
<circle cx="375.50" cy="356.31" r="2.15" fill="#1818d6" stroke="#1a1a1a" stroke-width="0.4"/>
<circle cx="377.70" cy="340.14" r="2.15" fill="#1818d6" stroke="#1a1a1a" stroke-width="0.4"/>
<circle cx="378.80" cy="357.76" r="2.15" fill="#1818d6" stroke="#1a1a1a" stroke-width="0.4"/>
<circle cx="375.50" cy="338.54" r="2.15" fill="#1818d6" stroke="#1a1a1a" stroke-width="0.4"/>
<circle cx="378.80" cy="337.05" r="2.15" fill="#1818d6" stroke="#1a1a1a" stroke-width="0.4"/>
<circle cx="375.50" cy="359.81" r="2.15" fill="#1818d6" stroke="#1a1a1a" stroke-width="0.4"/>
<circle cx="377.70" cy="361.63" r="2.15" fill="#1818d6" stroke="#1a1a1a" stroke-width="0.4"/>
<circle cx="374.40" cy="362.70" r="2.15" fill="#1818d6" stroke="#1a1a1a" stroke-width="0.4"/>
<circle cx="375.50" cy="369.45" r="2.15" fill="#1818d6" stroke="#1a1a1a" stroke-width="0.4"/>
<circle cx="375.50" cy="377.98" r="2.15" fill="#1818d6" stroke="#1a1a1a" stroke-width="0.4"/>
<line x1="369.30" y1="348.30" x2="381.70" y2="348.30" stroke="#111" stroke-width="0.8"/>
<rect x="385.55" y="342.63" width="4.30" height="4.30" fill="#ee1212" stroke="#1a1a1a" stroke-width="0.4"/>
<rect x="387.75" y="341.01" width="4.30" height="4.30" fill="#ee1212" stroke="#1a1a1a" stroke-width="0.4"/>
<rect x="387.75" y="344.43" width="4.30" height="4.30" fill="#ee1212" stroke="#1a1a1a" stroke-width="0.4"/>
<rect x="384.45" y="345.73" width="4.30" height="4.30" fill="#ee1212" stroke="#1a1a1a" stroke-width="0.4"/>
<rect x="385.55" y="339.08" width="4.30" height="4.30" fill="#ee1212" stroke="#1a1a1a" stroke-width="0.4"/>
<rect x="386.65" y="347.56" width="4.30" height="4.30" fill="#ee1212" stroke="#1a1a1a" stroke-width="0.4"/>
<rect x="387.75" y="337.24" width="4.30" height="4.30" fill="#ee1212" stroke="#1a1a1a" stroke-width="0.4"/>
<rect x="383.35" y="348.89" width="4.30" height="4.30" fill="#ee1212" stroke="#1a1a1a" stroke-width="0.4"/>
<rect x="384.45" y="335.99" width="4.30" height="4.30" fill="#ee1212" stroke="#1a1a1a" stroke-width="0.4"/>
<rect x="385.55" y="350.99" width="4.30" height="4.30" fill="#ee1212" stroke="#1a1a1a" stroke-width="0.4"/>
<rect x="386.65" y="334.08" width="4.30" height="4.30" fill="#ee1212" stroke="#1a1a1a" stroke-width="0.4"/>
<rect x="387.75" y="352.75" width="4.30" height="4.30" fill="#ee1212" stroke="#1a1a1a" stroke-width="0.4"/>
<rect x="384.45" y="332.25" width="4.30" height="4.30" fill="#ee1212" stroke="#1a1a1a" stroke-width="0.4"/>
<rect x="385.55" y="354.29" width="4.30" height="4.30" fill="#ee1212" stroke="#1a1a1a" stroke-width="0.4"/>
<rect x="387.75" y="356.03" width="4.30" height="4.30" fill="#ee1212" stroke="#1a1a1a" stroke-width="0.4"/>
<rect x="384.45" y="357.31" width="4.30" height="4.30" fill="#ee1212" stroke="#1a1a1a" stroke-width="0.4"/>
<rect x="385.55" y="325.95" width="4.30" height="4.30" fill="#ee1212" stroke="#1a1a1a" stroke-width="0.4"/>
<rect x="386.65" y="359.54" width="4.30" height="4.30" fill="#ee1212" stroke="#1a1a1a" stroke-width="0.4"/>
<rect x="384.45" y="361.29" width="4.30" height="4.30" fill="#ee1212" stroke="#1a1a1a" stroke-width="0.4"/>
<line x1="381.50" y1="344.80" x2="393.90" y2="344.80" stroke="#111" stroke-width="0.8"/>
<path d="M399.90,356.95 L402.37,361.40 L397.43,361.40 Z" fill="#18a418" stroke="#1a1a1a" stroke-width="0.4"/>
<path d="M403.20,356.39 L405.67,360.84 L400.73,360.84 Z" fill="#18a418" stroke="#1a1a1a" stroke-width="0.4"/>
<path d="M396.60,356.04 L399.07,360.49 L394.13,360.49 Z" fill="#18a418" stroke="#1a1a1a" stroke-width="0.4"/>
<path d="M402.30,358.19 L404.77,362.64 L399.83,362.64 Z" fill="#18a418" stroke="#1a1a1a" stroke-width="0.4"/>
<path d="M397.28,355.15 L399.76,359.60 L394.81,359.60 Z" fill="#18a418" stroke="#1a1a1a" stroke-width="0.4"/>
<path d="M397.70,359.25 L400.17,363.70 L395.23,363.70 Z" fill="#18a418" stroke="#1a1a1a" stroke-width="0.4"/>
<path d="M399.90,353.51 L402.37,357.96 L397.43,357.96 Z" fill="#18a418" stroke="#1a1a1a" stroke-width="0.4"/>
<path d="M398.58,360.51 L401.05,364.96 L396.11,364.96 Z" fill="#18a418" stroke="#1a1a1a" stroke-width="0.4"/>
<path d="M403.20,352.76 L405.67,357.21 L400.73,357.21 Z" fill="#18a418" stroke="#1a1a1a" stroke-width="0.4"/>
<path d="M402.10,361.40 L404.57,365.85 L399.63,365.85 Z" fill="#18a418" stroke="#1a1a1a" stroke-width="0.4"/>
<path d="M402.20,362.29 L404.68,366.74 L399.73,366.74 Z" fill="#18a418" stroke="#1a1a1a" stroke-width="0.4"/>
<path d="M401.00,351.01 L403.47,355.46 L398.53,355.46 Z" fill="#18a418" stroke="#1a1a1a" stroke-width="0.4"/>
<path d="M399.90,364.73 L402.37,369.18 L397.43,369.18 Z" fill="#18a418" stroke="#1a1a1a" stroke-width="0.4"/>
<path d="M399.90,345.83 L402.37,350.28 L397.43,350.28 Z" fill="#18a418" stroke="#1a1a1a" stroke-width="0.4"/>
<path d="M399.90,370.13 L402.37,374.58 L397.43,374.58 Z" fill="#18a418" stroke="#1a1a1a" stroke-width="0.4"/>
<line x1="393.70" y1="359.20" x2="406.10" y2="359.20" stroke="#111" stroke-width="0.8"/>
<path d="M412.10,361.81 L414.47,364.18 L412.10,366.54 L409.74,364.18 Z" fill="#9a2ad2" stroke="#1a1a1a" stroke-width="0.4"/>
<path d="M415.40,362.49 L417.77,364.86 L415.40,367.22 L413.04,364.86 Z" fill="#9a2ad2" stroke="#1a1a1a" stroke-width="0.4"/>
<path d="M408.80,360.34 L411.17,362.71 L408.80,365.07 L406.44,362.71 Z" fill="#9a2ad2" stroke="#1a1a1a" stroke-width="0.4"/>
<path d="M409.90,364.12 L412.27,366.48 L409.90,368.85 L407.54,366.48 Z" fill="#9a2ad2" stroke="#1a1a1a" stroke-width="0.4"/>
<path d="M413.20,364.50 L415.57,366.86 L413.20,369.23 L410.84,366.86 Z" fill="#9a2ad2" stroke="#1a1a1a" stroke-width="0.4"/>
<path d="M413.20,359.17 L415.57,361.53 L413.20,363.90 L410.84,361.53 Z" fill="#9a2ad2" stroke="#1a1a1a" stroke-width="0.4"/>
<path d="M412.58,365.96 L414.94,368.33 L412.58,370.69 L410.21,368.33 Z" fill="#9a2ad2" stroke="#1a1a1a" stroke-width="0.4"/>
<path d="M411.00,357.56 L413.37,359.93 L411.00,362.29 L408.63,359.93 Z" fill="#9a2ad2" stroke="#1a1a1a" stroke-width="0.4"/>
<path d="M409.90,367.70 L412.27,370.07 L409.90,372.43 L407.54,370.07 Z" fill="#9a2ad2" stroke="#1a1a1a" stroke-width="0.4"/>
<path d="M413.20,355.64 L415.57,358.00 L413.20,360.37 L410.84,358.00 Z" fill="#9a2ad2" stroke="#1a1a1a" stroke-width="0.4"/>
<path d="M413.20,369.04 L415.57,371.40 L413.20,373.77 L410.84,371.40 Z" fill="#9a2ad2" stroke="#1a1a1a" stroke-width="0.4"/>
<path d="M412.10,353.15 L414.47,355.52 L412.10,357.88 L409.74,355.52 Z" fill="#9a2ad2" stroke="#1a1a1a" stroke-width="0.4"/>
<path d="M411.00,371.23 L413.37,373.60 L411.00,375.96 L408.63,373.60 Z" fill="#9a2ad2" stroke="#1a1a1a" stroke-width="0.4"/>
<path d="M413.20,373.18 L415.57,375.54 L413.20,377.91 L410.84,375.54 Z" fill="#9a2ad2" stroke="#1a1a1a" stroke-width="0.4"/>
<path d="M411.00,375.56 L413.37,377.93 L411.00,380.29 L408.63,377.93 Z" fill="#9a2ad2" stroke="#1a1a1a" stroke-width="0.4"/>
<path d="M412.10,346.24 L414.47,348.60 L412.10,350.97 L409.74,348.60 Z" fill="#9a2ad2" stroke="#1a1a1a" stroke-width="0.4"/>
<path d="M412.10,384.13 L414.47,386.50 L412.10,388.87 L409.74,386.50 Z" fill="#9a2ad2" stroke="#1a1a1a" stroke-width="0.4"/>
<line x1="405.90" y1="364.40" x2="418.30" y2="364.40" stroke="#111" stroke-width="0.8"/>
<circle cx="424.30" cy="358.58" r="2.15" fill="#f48a1c" stroke="#1a1a1a" stroke-width="0.4"/>
<circle cx="427.60" cy="359.68" r="2.15" fill="#f48a1c" stroke="#1a1a1a" stroke-width="0.4"/>
<circle cx="421.00" cy="358.17" r="2.15" fill="#f48a1c" stroke="#1a1a1a" stroke-width="0.4"/>
<circle cx="424.23" cy="360.45" r="2.15" fill="#f48a1c" stroke="#1a1a1a" stroke-width="0.4"/>
<circle cx="425.83" cy="357.30" r="2.15" fill="#f48a1c" stroke="#1a1a1a" stroke-width="0.4"/>
<circle cx="420.83" cy="356.86" r="2.15" fill="#f48a1c" stroke="#1a1a1a" stroke-width="0.4"/>
<circle cx="421.00" cy="361.42" r="2.15" fill="#f48a1c" stroke="#1a1a1a" stroke-width="0.4"/>
<circle cx="424.61" cy="361.78" r="2.15" fill="#f48a1c" stroke="#1a1a1a" stroke-width="0.4"/>
<circle cx="423.61" cy="355.79" r="2.15" fill="#f48a1c" stroke="#1a1a1a" stroke-width="0.4"/>
<circle cx="426.50" cy="363.75" r="2.15" fill="#f48a1c" stroke="#1a1a1a" stroke-width="0.4"/>
<circle cx="426.50" cy="354.10" r="2.15" fill="#f48a1c" stroke="#1a1a1a" stroke-width="0.4"/>
<circle cx="421.00" cy="353.63" r="2.15" fill="#f48a1c" stroke="#1a1a1a" stroke-width="0.4"/>
<circle cx="423.20" cy="364.44" r="2.15" fill="#f48a1c" stroke="#1a1a1a" stroke-width="0.4"/>
<circle cx="427.95" cy="365.65" r="2.15" fill="#f48a1c" stroke="#1a1a1a" stroke-width="0.4"/>
<circle cx="424.30" cy="352.22" r="2.15" fill="#f48a1c" stroke="#1a1a1a" stroke-width="0.4"/>
<circle cx="424.30" cy="367.69" r="2.15" fill="#f48a1c" stroke="#1a1a1a" stroke-width="0.4"/>
<circle cx="426.50" cy="350.09" r="2.15" fill="#f48a1c" stroke="#1a1a1a" stroke-width="0.4"/>
<circle cx="424.30" cy="373.00" r="2.15" fill="#f48a1c" stroke="#1a1a1a" stroke-width="0.4"/>
<circle cx="424.30" cy="344.50" r="2.15" fill="#f48a1c" stroke="#1a1a1a" stroke-width="0.4"/>
<line x1="418.10" y1="359.00" x2="430.50" y2="359.00" stroke="#111" stroke-width="0.8"/>
<path d="M436.50,368.84 L438.97,364.39 L434.03,364.39 Z" fill="#9ec2ee" stroke="#1a1a1a" stroke-width="0.4"/>
<path d="M439.80,367.89 L442.27,363.44 L437.33,363.44 Z" fill="#9ec2ee" stroke="#1a1a1a" stroke-width="0.4"/>
<path d="M438.70,370.35 L441.17,365.90 L436.23,365.90 Z" fill="#9ec2ee" stroke="#1a1a1a" stroke-width="0.4"/>
<path d="M434.30,366.92 L436.77,362.47 L431.83,362.47 Z" fill="#9ec2ee" stroke="#1a1a1a" stroke-width="0.4"/>
<path d="M437.60,366.13 L440.07,361.68 L435.13,361.68 Z" fill="#9ec2ee" stroke="#1a1a1a" stroke-width="0.4"/>
<path d="M435.40,371.82 L437.87,367.37 L432.93,367.37 Z" fill="#9ec2ee" stroke="#1a1a1a" stroke-width="0.4"/>
<path d="M435.34,372.26 L437.82,367.81 L432.87,367.81 Z" fill="#9ec2ee" stroke="#1a1a1a" stroke-width="0.4"/>
<path d="M437.46,364.73 L439.93,360.28 L434.99,360.28 Z" fill="#9ec2ee" stroke="#1a1a1a" stroke-width="0.4"/>
<path d="M437.60,374.24 L440.07,369.79 L435.13,369.79 Z" fill="#9ec2ee" stroke="#1a1a1a" stroke-width="0.4"/>
<path d="M434.30,374.94 L436.77,370.49 L431.83,370.49 Z" fill="#9ec2ee" stroke="#1a1a1a" stroke-width="0.4"/>
<path d="M435.40,362.92 L437.87,358.47 L432.93,358.47 Z" fill="#9ec2ee" stroke="#1a1a1a" stroke-width="0.4"/>
<path d="M436.50,376.75 L438.97,372.30 L434.03,372.30 Z" fill="#9ec2ee" stroke="#1a1a1a" stroke-width="0.4"/>
<path d="M437.60,361.00 L440.07,356.55 L435.13,356.55 Z" fill="#9ec2ee" stroke="#1a1a1a" stroke-width="0.4"/>
<path d="M435.40,359.49 L437.87,355.04 L432.93,355.04 Z" fill="#9ec2ee" stroke="#1a1a1a" stroke-width="0.4"/>
<path d="M438.70,378.68 L441.17,374.23 L436.23,374.23 Z" fill="#9ec2ee" stroke="#1a1a1a" stroke-width="0.4"/>
<path d="M436.50,357.00 L438.97,352.55 L434.03,352.55 Z" fill="#9ec2ee" stroke="#1a1a1a" stroke-width="0.4"/>
<path d="M436.50,381.46 L438.97,377.01 L434.03,377.01 Z" fill="#9ec2ee" stroke="#1a1a1a" stroke-width="0.4"/>
<path d="M436.50,349.37 L438.97,344.92 L434.03,344.92 Z" fill="#9ec2ee" stroke="#1a1a1a" stroke-width="0.4"/>
<path d="M436.50,389.27 L438.97,384.82 L434.03,384.82 Z" fill="#9ec2ee" stroke="#1a1a1a" stroke-width="0.4"/>
<line x1="430.30" y1="366.50" x2="442.70" y2="366.50" stroke="#111" stroke-width="0.8"/>
<rect x="446.55" y="369.31" width="4.30" height="4.30" fill="#9b6128" stroke="#1a1a1a" stroke-width="0.4"/>
<rect x="449.85" y="370.34" width="4.30" height="4.30" fill="#9b6128" stroke="#1a1a1a" stroke-width="0.4"/>
<rect x="443.25" y="368.71" width="4.30" height="4.30" fill="#9b6128" stroke="#1a1a1a" stroke-width="0.4"/>
<rect x="448.75" y="367.58" width="4.30" height="4.30" fill="#9b6128" stroke="#1a1a1a" stroke-width="0.4"/>
<rect x="445.45" y="371.81" width="4.30" height="4.30" fill="#9b6128" stroke="#1a1a1a" stroke-width="0.4"/>
<rect x="445.45" y="366.47" width="4.30" height="4.30" fill="#9b6128" stroke="#1a1a1a" stroke-width="0.4"/>
<rect x="448.75" y="372.94" width="4.30" height="4.30" fill="#9b6128" stroke="#1a1a1a" stroke-width="0.4"/>
<rect x="449.03" y="365.39" width="4.30" height="4.30" fill="#9b6128" stroke="#1a1a1a" stroke-width="0.4"/>
<rect x="443.25" y="374.03" width="4.30" height="4.30" fill="#9b6128" stroke="#1a1a1a" stroke-width="0.4"/>
<rect x="443.25" y="364.27" width="4.30" height="4.30" fill="#9b6128" stroke="#1a1a1a" stroke-width="0.4"/>
<rect x="446.55" y="375.68" width="4.30" height="4.30" fill="#9b6128" stroke="#1a1a1a" stroke-width="0.4"/>
<rect x="446.55" y="362.63" width="4.30" height="4.30" fill="#9b6128" stroke="#1a1a1a" stroke-width="0.4"/>
<rect x="449.85" y="376.92" width="4.30" height="4.30" fill="#9b6128" stroke="#1a1a1a" stroke-width="0.4"/>
<rect x="449.85" y="361.24" width="4.30" height="4.30" fill="#9b6128" stroke="#1a1a1a" stroke-width="0.4"/>
<rect x="446.55" y="378.87" width="4.30" height="4.30" fill="#9b6128" stroke="#1a1a1a" stroke-width="0.4"/>
<rect x="446.55" y="359.89" width="4.30" height="4.30" fill="#9b6128" stroke="#1a1a1a" stroke-width="0.4"/>
<rect x="449.85" y="380.35" width="4.30" height="4.30" fill="#9b6128" stroke="#1a1a1a" stroke-width="0.4"/>
<rect x="448.75" y="357.64" width="4.30" height="4.30" fill="#9b6128" stroke="#1a1a1a" stroke-width="0.4"/>
<rect x="446.55" y="355.95" width="4.30" height="4.30" fill="#9b6128" stroke="#1a1a1a" stroke-width="0.4"/>
<rect x="446.55" y="387.85" width="4.30" height="4.30" fill="#9b6128" stroke="#1a1a1a" stroke-width="0.4"/>
<rect x="446.55" y="347.85" width="4.30" height="4.30" fill="#9b6128" stroke="#1a1a1a" stroke-width="0.4"/>
<line x1="442.50" y1="371.70" x2="454.90" y2="371.70" stroke="#111" stroke-width="0.8"/>
<rect x="175.70" y="410.20" width="282.90" height="18.10" fill="none" stroke="#5a5a5a" stroke-width="0.8"/>
<text x="171.00" y="417.70" font-size="7.7" text-anchor="end" fill="#231f20" stroke="#231f20" stroke-width="0.1">Below</text>
<text x="171.00" y="426.10" font-size="7.7" text-anchor="end" fill="#231f20" stroke="#231f20" stroke-width="0.1">threshold</text>
<rect x="352.50" y="417.20" width="4.20" height="4.20" fill="none" stroke="#9b6128" stroke-width="0.6"/>
<path d="M414.40,416.20 L416.50,418.30 L414.40,420.40 L412.30,418.30 Z" fill="none" stroke="#9a2ad2" stroke-width="0.6"/>
<rect x="449.30" y="417.00" width="4.20" height="4.20" fill="none" stroke="#9b6128" stroke-width="0.6"/>
<line x1="220.30" y1="428.30" x2="220.30" y2="431.30" stroke="#555" stroke-width="0.7"/>
<line x1="317.00" y1="428.30" x2="317.00" y2="431.30" stroke="#555" stroke-width="0.7"/>
<line x1="413.00" y1="428.30" x2="413.00" y2="431.30" stroke="#555" stroke-width="0.7"/>
<text x="151.30" y="354.00" font-size="8.9" text-anchor="middle" fill="#231f20" transform="rotate(-90 151.30 354.00)" stroke="#231f20" stroke-width="0.1">SIV DNA per 10<tspan font-size="5.6" dy="-3">6</tspan><tspan dy="3"> cells</tspan></text>
<text x="219.80" y="442.00" font-size="8.8" text-anchor="middle" fill="#231f20" stroke="#231f20" stroke-width="0.1">12 d.p.i.</text>
<text x="317.00" y="442.00" font-size="8.8" text-anchor="middle" fill="#231f20" stroke="#231f20" stroke-width="0.1">21 w.p.i.</text>
<text x="413.80" y="442.00" font-size="8.8" text-anchor="middle" fill="#231f20" stroke="#231f20" stroke-width="0.1">66 w.p.i.</text>
<text x="294.90" y="462.40" font-size="8.7" text-anchor="start" fill="#231f20" textLength="44.2" lengthAdjust="spacingAndGlyphs" stroke="#231f20" stroke-width="0.1">Tissue RNA</text>
<circle cx="186.60" cy="470.80" r="2.40" fill="#1818d6" stroke="#1a1a1a" stroke-width="0.3"/>
<text x="193.80" y="473.40" font-size="7.4" text-anchor="start" fill="#231f20" stroke="#231f20" stroke-width="0.1">pLN</text>
<rect x="220.55" y="468.35" width="4.90" height="4.90" fill="#ee1212" stroke="#1a1a1a" stroke-width="0.3"/>
<text x="229.80" y="473.40" font-size="7.4" text-anchor="start" fill="#231f20" stroke="#231f20" stroke-width="0.1">mLN</text>
<path d="M261.40,468.16 L264.04,472.92 L258.75,472.92 Z" fill="#18a418" stroke="#1a1a1a" stroke-width="0.3"/>
<text x="268.40" y="473.40" font-size="7.4" text-anchor="start" fill="#231f20" stroke="#231f20" stroke-width="0.1">Spleen</text>
<path d="M308.00,468.40 L310.40,470.80 L308.00,473.20 L305.60,470.80 Z" fill="#9a2ad2" stroke="#1a1a1a" stroke-width="0.3"/>
<text x="314.40" y="473.40" font-size="7.4" text-anchor="start" fill="#231f20" stroke="#231f20" stroke-width="0.1">BM</text>
<circle cx="341.60" cy="470.80" r="2.40" fill="#f48a1c" stroke="#1a1a1a" stroke-width="0.3"/>
<text x="347.70" y="473.40" font-size="7.4" text-anchor="start" fill="#231f20" stroke="#231f20" stroke-width="0.1">Duo</text>
<path d="M377.60,473.44 L380.25,468.68 L374.96,468.68 Z" fill="#9ec2ee" stroke="#1a1a1a" stroke-width="0.3"/>
<text x="384.30" y="473.40" font-size="7.4" text-anchor="start" fill="#231f20" stroke="#231f20" stroke-width="0.1">Rectum</text>
<rect x="424.25" y="468.35" width="4.90" height="4.90" fill="#9b6128" stroke="#1a1a1a" stroke-width="0.3"/>
<text x="433.10" y="473.40" font-size="7.4" text-anchor="start" fill="#231f20" stroke="#231f20" stroke-width="0.1">Liver</text>
<rect x="175.50" y="478.30" width="283.00" height="106.30" fill="none" stroke="#5a5a5a" stroke-width="0.8"/>
<line x1="171.00" y1="584.60" x2="175.50" y2="584.60" stroke="#555" stroke-width="0.7"/>
<text x="167.30" y="587.00" font-size="6.6" text-anchor="end" fill="#231f20" stroke="#231f20" stroke-width="0.1">10<tspan font-size="4.49" dy="-2.8">−1</tspan></text>
<line x1="171.00" y1="571.30" x2="175.50" y2="571.30" stroke="#555" stroke-width="0.7"/>
<text x="167.30" y="573.70" font-size="6.6" text-anchor="end" fill="#231f20" stroke="#231f20" stroke-width="0.1">10<tspan font-size="4.49" dy="-2.8">0</tspan></text>
<line x1="171.00" y1="558.00" x2="175.50" y2="558.00" stroke="#555" stroke-width="0.7"/>
<text x="167.30" y="560.40" font-size="6.6" text-anchor="end" fill="#231f20" stroke="#231f20" stroke-width="0.1">10<tspan font-size="4.49" dy="-2.8">1</tspan></text>
<line x1="171.00" y1="544.70" x2="175.50" y2="544.70" stroke="#555" stroke-width="0.7"/>
<text x="167.30" y="547.10" font-size="6.6" text-anchor="end" fill="#231f20" stroke="#231f20" stroke-width="0.1">10<tspan font-size="4.49" dy="-2.8">2</tspan></text>
<line x1="171.00" y1="531.40" x2="175.50" y2="531.40" stroke="#555" stroke-width="0.7"/>
<text x="167.30" y="533.80" font-size="6.6" text-anchor="end" fill="#231f20" stroke="#231f20" stroke-width="0.1">10<tspan font-size="4.49" dy="-2.8">3</tspan></text>
<line x1="171.00" y1="518.10" x2="175.50" y2="518.10" stroke="#555" stroke-width="0.7"/>
<text x="167.30" y="520.50" font-size="6.6" text-anchor="end" fill="#231f20" stroke="#231f20" stroke-width="0.1">10<tspan font-size="4.49" dy="-2.8">4</tspan></text>
<line x1="171.00" y1="504.80" x2="175.50" y2="504.80" stroke="#555" stroke-width="0.7"/>
<text x="167.30" y="507.20" font-size="6.6" text-anchor="end" fill="#231f20" stroke="#231f20" stroke-width="0.1">10<tspan font-size="4.49" dy="-2.8">5</tspan></text>
<line x1="171.00" y1="491.50" x2="175.50" y2="491.50" stroke="#555" stroke-width="0.7"/>
<text x="167.30" y="493.90" font-size="6.6" text-anchor="end" fill="#231f20" stroke="#231f20" stroke-width="0.1">10<tspan font-size="4.49" dy="-2.8">6</tspan></text>
<line x1="171.00" y1="478.20" x2="175.50" y2="478.20" stroke="#555" stroke-width="0.7"/>
<text x="167.30" y="480.60" font-size="6.6" text-anchor="end" fill="#231f20" stroke="#231f20" stroke-width="0.1">10<tspan font-size="4.49" dy="-2.8">7</tspan></text>
<line x1="269.80" y1="478.30" x2="269.80" y2="605.50" stroke="#666" stroke-width="0.7" stroke-dasharray="3,2"/>
<line x1="365.30" y1="478.30" x2="365.30" y2="605.50" stroke="#666" stroke-width="0.7" stroke-dasharray="3,2"/>
<circle cx="185.30" cy="510.01" r="2.15" fill="#1818d6" stroke="#1a1a1a" stroke-width="0.4"/>
<circle cx="188.60" cy="511.12" r="2.15" fill="#1818d6" stroke="#1a1a1a" stroke-width="0.4"/>
<circle cx="187.50" cy="508.37" r="2.15" fill="#1818d6" stroke="#1a1a1a" stroke-width="0.4"/>
<circle cx="184.20" cy="512.62" r="2.15" fill="#1818d6" stroke="#1a1a1a" stroke-width="0.4"/>
<circle cx="184.20" cy="507.09" r="2.15" fill="#1818d6" stroke="#1a1a1a" stroke-width="0.4"/>
<circle cx="186.40" cy="514.58" r="2.15" fill="#1818d6" stroke="#1a1a1a" stroke-width="0.4"/>
<circle cx="186.40" cy="505.44" r="2.15" fill="#1818d6" stroke="#1a1a1a" stroke-width="0.4"/>
<circle cx="183.10" cy="515.80" r="2.15" fill="#1818d6" stroke="#1a1a1a" stroke-width="0.4"/>
<circle cx="183.10" cy="503.93" r="2.15" fill="#1818d6" stroke="#1a1a1a" stroke-width="0.4"/>
<circle cx="185.30" cy="517.33" r="2.15" fill="#1818d6" stroke="#1a1a1a" stroke-width="0.4"/>
<circle cx="187.50" cy="518.96" r="2.15" fill="#1818d6" stroke="#1a1a1a" stroke-width="0.4"/>
<circle cx="185.30" cy="500.10" r="2.15" fill="#1818d6" stroke="#1a1a1a" stroke-width="0.4"/>
<circle cx="188.60" cy="499.15" r="2.15" fill="#1818d6" stroke="#1a1a1a" stroke-width="0.4"/>
<circle cx="183.10" cy="498.43" r="2.15" fill="#1818d6" stroke="#1a1a1a" stroke-width="0.4"/>
<circle cx="186.40" cy="497.17" r="2.15" fill="#1818d6" stroke="#1a1a1a" stroke-width="0.4"/>
<circle cx="184.17" cy="496.96" r="2.15" fill="#1818d6" stroke="#1a1a1a" stroke-width="0.4"/>
<circle cx="181.76" cy="496.14" r="2.15" fill="#1818d6" stroke="#1a1a1a" stroke-width="0.4"/>
<circle cx="188.60" cy="495.27" r="2.15" fill="#1818d6" stroke="#1a1a1a" stroke-width="0.4"/>
<line x1="179.10" y1="510.40" x2="191.50" y2="510.40" stroke="#111" stroke-width="0.8"/>
<rect x="195.35" y="495.58" width="4.30" height="4.30" fill="#ee1212" stroke="#1a1a1a" stroke-width="0.4"/>
<rect x="198.65" y="496.50" width="4.30" height="4.30" fill="#ee1212" stroke="#1a1a1a" stroke-width="0.4"/>
<rect x="192.05" y="494.31" width="4.30" height="4.30" fill="#ee1212" stroke="#1a1a1a" stroke-width="0.4"/>
<rect x="193.15" y="497.52" width="4.30" height="4.30" fill="#ee1212" stroke="#1a1a1a" stroke-width="0.4"/>
<rect x="196.45" y="492.94" width="4.30" height="4.30" fill="#ee1212" stroke="#1a1a1a" stroke-width="0.4"/>
<rect x="195.35" y="499.03" width="4.30" height="4.30" fill="#ee1212" stroke="#1a1a1a" stroke-width="0.4"/>
<rect x="192.78" y="492.06" width="4.30" height="4.30" fill="#ee1212" stroke="#1a1a1a" stroke-width="0.4"/>
<rect x="198.65" y="500.42" width="4.30" height="4.30" fill="#ee1212" stroke="#1a1a1a" stroke-width="0.4"/>
<rect x="198.65" y="490.54" width="4.30" height="4.30" fill="#ee1212" stroke="#1a1a1a" stroke-width="0.4"/>
<rect x="195.35" y="489.83" width="4.30" height="4.30" fill="#ee1212" stroke="#1a1a1a" stroke-width="0.4"/>
<rect x="195.35" y="503.92" width="4.30" height="4.30" fill="#ee1212" stroke="#1a1a1a" stroke-width="0.4"/>
<rect x="196.45" y="487.32" width="4.30" height="4.30" fill="#ee1212" stroke="#1a1a1a" stroke-width="0.4"/>
<rect x="193.15" y="486.10" width="4.30" height="4.30" fill="#ee1212" stroke="#1a1a1a" stroke-width="0.4"/>
<rect x="197.55" y="505.81" width="4.30" height="4.30" fill="#ee1212" stroke="#1a1a1a" stroke-width="0.4"/>
<rect x="197.55" y="484.80" width="4.30" height="4.30" fill="#ee1212" stroke="#1a1a1a" stroke-width="0.4"/>
<rect x="195.35" y="507.96" width="4.30" height="4.30" fill="#ee1212" stroke="#1a1a1a" stroke-width="0.4"/>
<rect x="193.94" y="483.70" width="4.30" height="4.30" fill="#ee1212" stroke="#1a1a1a" stroke-width="0.4"/>
<rect x="195.35" y="515.40" width="4.30" height="4.30" fill="#ee1212" stroke="#1a1a1a" stroke-width="0.4"/>
<line x1="191.30" y1="498.00" x2="203.70" y2="498.00" stroke="#111" stroke-width="0.8"/>
<path d="M209.70,499.11 L212.17,503.56 L207.23,503.56 Z" fill="#18a418" stroke="#1a1a1a" stroke-width="0.4"/>
<path d="M213.00,498.36 L215.47,502.81 L210.53,502.81 Z" fill="#18a418" stroke="#1a1a1a" stroke-width="0.4"/>
<path d="M206.40,500.28 L208.87,504.73 L203.93,504.73 Z" fill="#18a418" stroke="#1a1a1a" stroke-width="0.4"/>
<path d="M207.50,497.01 L209.97,501.46 L205.03,501.46 Z" fill="#18a418" stroke="#1a1a1a" stroke-width="0.4"/>
<path d="M211.90,501.36 L214.37,505.81 L209.43,505.81 Z" fill="#18a418" stroke="#1a1a1a" stroke-width="0.4"/>
<path d="M210.80,495.63 L213.27,500.08 L208.33,500.08 Z" fill="#18a418" stroke="#1a1a1a" stroke-width="0.4"/>
<path d="M208.60,502.51 L211.07,506.96 L206.13,506.96 Z" fill="#18a418" stroke="#1a1a1a" stroke-width="0.4"/>
<path d="M207.50,494.30 L209.97,498.75 L205.03,498.75 Z" fill="#18a418" stroke="#1a1a1a" stroke-width="0.4"/>
<path d="M210.80,504.04 L213.27,508.49 L208.33,508.49 Z" fill="#18a418" stroke="#1a1a1a" stroke-width="0.4"/>
<path d="M213.00,493.21 L215.47,497.66 L210.53,497.66 Z" fill="#18a418" stroke="#1a1a1a" stroke-width="0.4"/>
<path d="M207.50,505.00 L209.97,509.45 L205.03,509.45 Z" fill="#18a418" stroke="#1a1a1a" stroke-width="0.4"/>
<path d="M209.70,492.08 L212.17,496.53 L207.23,496.53 Z" fill="#18a418" stroke="#1a1a1a" stroke-width="0.4"/>
<path d="M206.40,491.00 L208.87,495.45 L203.93,495.45 Z" fill="#18a418" stroke="#1a1a1a" stroke-width="0.4"/>
<path d="M211.90,490.35 L214.37,494.80 L209.43,494.80 Z" fill="#18a418" stroke="#1a1a1a" stroke-width="0.4"/>
<path d="M209.70,513.03 L212.17,517.48 L207.23,517.48 Z" fill="#18a418" stroke="#1a1a1a" stroke-width="0.4"/>
<line x1="203.50" y1="501.40" x2="215.90" y2="501.40" stroke="#111" stroke-width="0.8"/>
<path d="M221.90,498.35 L224.27,500.71 L221.90,503.08 L219.53,500.71 Z" fill="#9a2ad2" stroke="#1a1a1a" stroke-width="0.4"/>
<path d="M224.10,496.78 L226.47,499.15 L224.10,501.51 L221.73,499.15 Z" fill="#9a2ad2" stroke="#1a1a1a" stroke-width="0.4"/>
<path d="M218.60,499.01 L220.97,501.38 L218.60,503.74 L216.23,501.38 Z" fill="#9a2ad2" stroke="#1a1a1a" stroke-width="0.4"/>
<path d="M220.80,495.76 L223.17,498.12 L220.80,500.49 L218.44,498.12 Z" fill="#9a2ad2" stroke="#1a1a1a" stroke-width="0.4"/>
<path d="M223.00,500.94 L225.37,503.31 L223.00,505.67 L220.63,503.31 Z" fill="#9a2ad2" stroke="#1a1a1a" stroke-width="0.4"/>
<path d="M223.00,494.17 L225.37,496.54 L223.00,498.90 L220.63,496.54 Z" fill="#9a2ad2" stroke="#1a1a1a" stroke-width="0.4"/>
<path d="M219.70,501.49 L222.07,503.86 L219.70,506.22 L217.34,503.86 Z" fill="#9a2ad2" stroke="#1a1a1a" stroke-width="0.4"/>
<path d="M220.80,492.64 L223.17,495.00 L220.80,497.37 L218.44,495.00 Z" fill="#9a2ad2" stroke="#1a1a1a" stroke-width="0.4"/>
<path d="M225.20,503.07 L227.57,505.43 L225.20,507.80 L222.84,505.43 Z" fill="#9a2ad2" stroke="#1a1a1a" stroke-width="0.4"/>
<path d="M225.20,491.83 L227.57,494.19 L225.20,496.56 L222.84,494.19 Z" fill="#9a2ad2" stroke="#1a1a1a" stroke-width="0.4"/>
<path d="M221.90,504.04 L224.27,506.40 L221.90,508.77 L219.53,506.40 Z" fill="#9a2ad2" stroke="#1a1a1a" stroke-width="0.4"/>
<path d="M218.60,490.44 L220.97,492.81 L218.60,495.17 L216.23,492.81 Z" fill="#9a2ad2" stroke="#1a1a1a" stroke-width="0.4"/>
<path d="M224.10,505.95 L226.47,508.32 L224.10,510.68 L221.73,508.32 Z" fill="#9a2ad2" stroke="#1a1a1a" stroke-width="0.4"/>
<path d="M220.80,507.14 L223.17,509.51 L220.80,511.87 L218.44,509.51 Z" fill="#9a2ad2" stroke="#1a1a1a" stroke-width="0.4"/>
<path d="M221.90,487.06 L224.27,489.43 L221.90,491.79 L219.53,489.43 Z" fill="#9a2ad2" stroke="#1a1a1a" stroke-width="0.4"/>
<path d="M224.10,484.92 L226.47,487.29 L224.10,489.65 L221.73,487.29 Z" fill="#9a2ad2" stroke="#1a1a1a" stroke-width="0.4"/>
<path d="M221.90,512.01 L224.27,514.38 L221.90,516.74 L219.53,514.38 Z" fill="#9a2ad2" stroke="#1a1a1a" stroke-width="0.4"/>
<line x1="215.70" y1="500.10" x2="228.10" y2="500.10" stroke="#111" stroke-width="0.8"/>
<circle cx="234.10" cy="504.56" r="2.15" fill="#f48a1c" stroke="#1a1a1a" stroke-width="0.4"/>
<circle cx="237.40" cy="503.27" r="2.15" fill="#f48a1c" stroke="#1a1a1a" stroke-width="0.4"/>
<circle cx="231.90" cy="502.31" r="2.15" fill="#f48a1c" stroke="#1a1a1a" stroke-width="0.4"/>
<circle cx="230.80" cy="505.91" r="2.15" fill="#f48a1c" stroke="#1a1a1a" stroke-width="0.4"/>
<circle cx="234.10" cy="500.36" r="2.15" fill="#f48a1c" stroke="#1a1a1a" stroke-width="0.4"/>
<circle cx="234.10" cy="507.66" r="2.15" fill="#f48a1c" stroke="#1a1a1a" stroke-width="0.4"/>
<circle cx="237.40" cy="499.24" r="2.15" fill="#f48a1c" stroke="#1a1a1a" stroke-width="0.4"/>
<circle cx="237.40" cy="508.89" r="2.15" fill="#f48a1c" stroke="#1a1a1a" stroke-width="0.4"/>
<circle cx="231.90" cy="497.99" r="2.15" fill="#f48a1c" stroke="#1a1a1a" stroke-width="0.4"/>
<circle cx="234.10" cy="510.92" r="2.15" fill="#f48a1c" stroke="#1a1a1a" stroke-width="0.4"/>
<circle cx="234.10" cy="496.19" r="2.15" fill="#f48a1c" stroke="#1a1a1a" stroke-width="0.4"/>
<circle cx="237.40" cy="512.38" r="2.15" fill="#f48a1c" stroke="#1a1a1a" stroke-width="0.4"/>
<circle cx="237.40" cy="495.08" r="2.15" fill="#f48a1c" stroke="#1a1a1a" stroke-width="0.4"/>
<circle cx="231.90" cy="513.23" r="2.15" fill="#f48a1c" stroke="#1a1a1a" stroke-width="0.4"/>
<circle cx="235.20" cy="514.58" r="2.15" fill="#f48a1c" stroke="#1a1a1a" stroke-width="0.4"/>
<circle cx="233.00" cy="516.36" r="2.15" fill="#f48a1c" stroke="#1a1a1a" stroke-width="0.4"/>
<circle cx="236.30" cy="517.52" r="2.15" fill="#f48a1c" stroke="#1a1a1a" stroke-width="0.4"/>
<circle cx="234.10" cy="490.44" r="2.15" fill="#f48a1c" stroke="#1a1a1a" stroke-width="0.4"/>
<circle cx="234.10" cy="524.33" r="2.15" fill="#f48a1c" stroke="#1a1a1a" stroke-width="0.4"/>
<line x1="227.90" y1="504.00" x2="240.30" y2="504.00" stroke="#111" stroke-width="0.8"/>
<path d="M246.30,504.01 L248.77,499.55 L243.83,499.55 Z" fill="#9ec2ee" stroke="#1a1a1a" stroke-width="0.4"/>
<path d="M248.50,505.53 L250.97,501.08 L246.03,501.08 Z" fill="#9ec2ee" stroke="#1a1a1a" stroke-width="0.4"/>
<path d="M249.60,502.92 L252.07,498.47 L247.13,498.47 Z" fill="#9ec2ee" stroke="#1a1a1a" stroke-width="0.4"/>
<path d="M244.10,501.78 L246.57,497.33 L241.63,497.33 Z" fill="#9ec2ee" stroke="#1a1a1a" stroke-width="0.4"/>
<path d="M245.20,506.95 L247.67,502.50 L242.73,502.50 Z" fill="#9ec2ee" stroke="#1a1a1a" stroke-width="0.4"/>
<path d="M249.60,508.10 L252.07,503.65 L247.13,503.65 Z" fill="#9ec2ee" stroke="#1a1a1a" stroke-width="0.4"/>
<path d="M247.40,500.41 L249.87,495.96 L244.93,495.96 Z" fill="#9ec2ee" stroke="#1a1a1a" stroke-width="0.4"/>
<path d="M243.00,509.09 L245.47,504.64 L240.53,504.64 Z" fill="#9ec2ee" stroke="#1a1a1a" stroke-width="0.4"/>
<path d="M243.00,499.17 L245.47,494.72 L240.53,494.72 Z" fill="#9ec2ee" stroke="#1a1a1a" stroke-width="0.4"/>
<path d="M246.30,510.44 L248.77,505.99 L243.83,505.99 Z" fill="#9ec2ee" stroke="#1a1a1a" stroke-width="0.4"/>
<path d="M246.30,497.42 L248.77,492.97 L243.83,492.97 Z" fill="#9ec2ee" stroke="#1a1a1a" stroke-width="0.4"/>
<path d="M249.60,511.83 L252.07,507.38 L247.13,507.38 Z" fill="#9ec2ee" stroke="#1a1a1a" stroke-width="0.4"/>
<path d="M249.60,496.20 L252.07,491.75 L247.13,491.75 Z" fill="#9ec2ee" stroke="#1a1a1a" stroke-width="0.4"/>
<path d="M244.10,495.26 L246.57,490.81 L241.63,490.81 Z" fill="#9ec2ee" stroke="#1a1a1a" stroke-width="0.4"/>
<path d="M246.30,513.43 L248.77,508.98 L243.83,508.98 Z" fill="#9ec2ee" stroke="#1a1a1a" stroke-width="0.4"/>
<path d="M249.60,514.56 L252.07,510.11 L247.13,510.11 Z" fill="#9ec2ee" stroke="#1a1a1a" stroke-width="0.4"/>
<path d="M246.30,493.57 L248.77,489.12 L243.83,489.12 Z" fill="#9ec2ee" stroke="#1a1a1a" stroke-width="0.4"/>
<path d="M245.20,515.86 L247.67,511.41 L242.73,511.41 Z" fill="#9ec2ee" stroke="#1a1a1a" stroke-width="0.4"/>
<path d="M249.60,492.13 L252.07,487.68 L247.13,487.68 Z" fill="#9ec2ee" stroke="#1a1a1a" stroke-width="0.4"/>
<path d="M244.10,491.28 L246.57,486.82 L241.63,486.82 Z" fill="#9ec2ee" stroke="#1a1a1a" stroke-width="0.4"/>
<path d="M246.30,530.23 L248.77,525.78 L243.83,525.78 Z" fill="#9ec2ee" stroke="#1a1a1a" stroke-width="0.4"/>
<line x1="240.10" y1="501.80" x2="252.50" y2="501.80" stroke="#111" stroke-width="0.8"/>
<rect x="256.35" y="511.57" width="4.30" height="4.30" fill="#9b6128" stroke="#1a1a1a" stroke-width="0.4"/>
<rect x="259.65" y="512.90" width="4.30" height="4.30" fill="#9b6128" stroke="#1a1a1a" stroke-width="0.4"/>
<rect x="258.55" y="509.90" width="4.30" height="4.30" fill="#9b6128" stroke="#1a1a1a" stroke-width="0.4"/>
<rect x="255.25" y="508.74" width="4.30" height="4.30" fill="#9b6128" stroke="#1a1a1a" stroke-width="0.4"/>
<rect x="256.35" y="514.29" width="4.30" height="4.30" fill="#9b6128" stroke="#1a1a1a" stroke-width="0.4"/>
<rect x="259.65" y="507.35" width="4.30" height="4.30" fill="#9b6128" stroke="#1a1a1a" stroke-width="0.4"/>
<rect x="258.55" y="515.92" width="4.30" height="4.30" fill="#9b6128" stroke="#1a1a1a" stroke-width="0.4"/>
<rect x="255.25" y="516.75" width="4.30" height="4.30" fill="#9b6128" stroke="#1a1a1a" stroke-width="0.4"/>
<rect x="256.35" y="505.56" width="4.30" height="4.30" fill="#9b6128" stroke="#1a1a1a" stroke-width="0.4"/>
<rect x="253.05" y="504.85" width="4.30" height="4.30" fill="#9b6128" stroke="#1a1a1a" stroke-width="0.4"/>
<rect x="256.35" y="502.88" width="4.30" height="4.30" fill="#9b6128" stroke="#1a1a1a" stroke-width="0.4"/>
<rect x="259.65" y="501.95" width="4.30" height="4.30" fill="#9b6128" stroke="#1a1a1a" stroke-width="0.4"/>
<rect x="257.45" y="500.32" width="4.30" height="4.30" fill="#9b6128" stroke="#1a1a1a" stroke-width="0.4"/>
<rect x="255.25" y="498.73" width="4.30" height="4.30" fill="#9b6128" stroke="#1a1a1a" stroke-width="0.4"/>
<rect x="256.35" y="524.38" width="4.30" height="4.30" fill="#9b6128" stroke="#1a1a1a" stroke-width="0.4"/>
<rect x="258.55" y="497.56" width="4.30" height="4.30" fill="#9b6128" stroke="#1a1a1a" stroke-width="0.4"/>
<rect x="258.55" y="525.95" width="4.30" height="4.30" fill="#9b6128" stroke="#1a1a1a" stroke-width="0.4"/>
<rect x="256.35" y="495.74" width="4.30" height="4.30" fill="#9b6128" stroke="#1a1a1a" stroke-width="0.4"/>
<rect x="256.35" y="535.26" width="4.30" height="4.30" fill="#9b6128" stroke="#1a1a1a" stroke-width="0.4"/>
<line x1="252.30" y1="513.60" x2="264.70" y2="513.60" stroke="#111" stroke-width="0.8"/>
<circle cx="280.10" cy="551.56" r="2.15" fill="#1818d6" stroke="#1a1a1a" stroke-width="0.4"/>
<circle cx="283.40" cy="550.17" r="2.15" fill="#1818d6" stroke="#1a1a1a" stroke-width="0.4"/>
<circle cx="276.80" cy="552.13" r="2.15" fill="#1818d6" stroke="#1a1a1a" stroke-width="0.4"/>
<circle cx="277.90" cy="549.68" r="2.15" fill="#1818d6" stroke="#1a1a1a" stroke-width="0.4"/>
<circle cx="282.30" cy="553.17" r="2.15" fill="#1818d6" stroke="#1a1a1a" stroke-width="0.4"/>
<circle cx="282.32" cy="548.81" r="2.15" fill="#1818d6" stroke="#1a1a1a" stroke-width="0.4"/>
<circle cx="281.49" cy="553.90" r="2.15" fill="#1818d6" stroke="#1a1a1a" stroke-width="0.4"/>
<circle cx="280.94" cy="547.52" r="2.15" fill="#1818d6" stroke="#1a1a1a" stroke-width="0.4"/>
<circle cx="277.90" cy="554.85" r="2.15" fill="#1818d6" stroke="#1a1a1a" stroke-width="0.4"/>
<circle cx="277.90" cy="546.86" r="2.15" fill="#1818d6" stroke="#1a1a1a" stroke-width="0.4"/>
<circle cx="283.40" cy="555.81" r="2.15" fill="#1818d6" stroke="#1a1a1a" stroke-width="0.4"/>
<circle cx="280.10" cy="556.66" r="2.15" fill="#1818d6" stroke="#1a1a1a" stroke-width="0.4"/>
<circle cx="280.10" cy="544.94" r="2.15" fill="#1818d6" stroke="#1a1a1a" stroke-width="0.4"/>
<circle cx="282.30" cy="558.44" r="2.15" fill="#1818d6" stroke="#1a1a1a" stroke-width="0.4"/>
<circle cx="277.90" cy="558.94" r="2.15" fill="#1818d6" stroke="#1a1a1a" stroke-width="0.4"/>
<circle cx="280.10" cy="561.26" r="2.15" fill="#1818d6" stroke="#1a1a1a" stroke-width="0.4"/>
<circle cx="280.10" cy="540.30" r="2.15" fill="#1818d6" stroke="#1a1a1a" stroke-width="0.4"/>
<circle cx="282.30" cy="563.12" r="2.15" fill="#1818d6" stroke="#1a1a1a" stroke-width="0.4"/>
<circle cx="280.10" cy="569.20" r="2.15" fill="#1818d6" stroke="#1a1a1a" stroke-width="0.4"/>
<line x1="273.90" y1="551.00" x2="286.30" y2="551.00" stroke="#111" stroke-width="0.8"/>
<rect x="290.15" y="538.11" width="4.30" height="4.30" fill="#ee1212" stroke="#1a1a1a" stroke-width="0.4"/>
<rect x="293.45" y="538.53" width="4.30" height="4.30" fill="#ee1212" stroke="#1a1a1a" stroke-width="0.4"/>
<rect x="286.85" y="537.31" width="4.30" height="4.30" fill="#ee1212" stroke="#1a1a1a" stroke-width="0.4"/>
<rect x="289.85" y="539.33" width="4.30" height="4.30" fill="#ee1212" stroke="#1a1a1a" stroke-width="0.4"/>
<rect x="287.12" y="536.88" width="4.30" height="4.30" fill="#ee1212" stroke="#1a1a1a" stroke-width="0.4"/>
<rect x="286.85" y="539.97" width="4.30" height="4.30" fill="#ee1212" stroke="#1a1a1a" stroke-width="0.4"/>
<rect x="291.25" y="535.67" width="4.30" height="4.30" fill="#ee1212" stroke="#1a1a1a" stroke-width="0.4"/>
<rect x="292.35" y="541.01" width="4.30" height="4.30" fill="#ee1212" stroke="#1a1a1a" stroke-width="0.4"/>
<rect x="290.68" y="534.76" width="4.30" height="4.30" fill="#ee1212" stroke="#1a1a1a" stroke-width="0.4"/>
<rect x="289.05" y="542.08" width="4.30" height="4.30" fill="#ee1212" stroke="#1a1a1a" stroke-width="0.4"/>
<rect x="287.95" y="533.78" width="4.30" height="4.30" fill="#ee1212" stroke="#1a1a1a" stroke-width="0.4"/>
<rect x="293.45" y="533.37" width="4.30" height="4.30" fill="#ee1212" stroke="#1a1a1a" stroke-width="0.4"/>
<rect x="291.25" y="543.85" width="4.30" height="4.30" fill="#ee1212" stroke="#1a1a1a" stroke-width="0.4"/>
<rect x="290.15" y="531.56" width="4.30" height="4.30" fill="#ee1212" stroke="#1a1a1a" stroke-width="0.4"/>
<rect x="287.95" y="544.96" width="4.30" height="4.30" fill="#ee1212" stroke="#1a1a1a" stroke-width="0.4"/>
<rect x="293.45" y="530.27" width="4.30" height="4.30" fill="#ee1212" stroke="#1a1a1a" stroke-width="0.4"/>
<rect x="290.15" y="528.60" width="4.30" height="4.30" fill="#ee1212" stroke="#1a1a1a" stroke-width="0.4"/>
<rect x="290.15" y="549.95" width="4.30" height="4.30" fill="#ee1212" stroke="#1a1a1a" stroke-width="0.4"/>
<rect x="290.15" y="523.15" width="4.30" height="4.30" fill="#ee1212" stroke="#1a1a1a" stroke-width="0.4"/>
<line x1="286.10" y1="540.30" x2="298.50" y2="540.30" stroke="#111" stroke-width="0.8"/>
<path d="M304.50,557.47 L306.97,561.93 L302.03,561.93 Z" fill="#18a418" stroke="#1a1a1a" stroke-width="0.4"/>
<path d="M306.70,555.72 L309.17,560.17 L304.23,560.17 Z" fill="#18a418" stroke="#1a1a1a" stroke-width="0.4"/>
<path d="M302.30,555.20 L304.77,559.65 L299.83,559.65 Z" fill="#18a418" stroke="#1a1a1a" stroke-width="0.4"/>
<path d="M307.80,558.17 L310.27,562.62 L305.33,562.62 Z" fill="#18a418" stroke="#1a1a1a" stroke-width="0.4"/>
<path d="M301.20,558.70 L303.67,563.15 L298.73,563.15 Z" fill="#18a418" stroke="#1a1a1a" stroke-width="0.4"/>
<path d="M304.50,553.30 L306.97,557.75 L302.03,557.75 Z" fill="#18a418" stroke="#1a1a1a" stroke-width="0.4"/>
<path d="M304.50,560.67 L306.97,565.12 L302.03,565.12 Z" fill="#18a418" stroke="#1a1a1a" stroke-width="0.4"/>
<path d="M307.80,552.30 L310.27,556.75 L305.33,556.75 Z" fill="#18a418" stroke="#1a1a1a" stroke-width="0.4"/>
<path d="M307.80,561.46 L310.27,565.91 L305.33,565.91 Z" fill="#18a418" stroke="#1a1a1a" stroke-width="0.4"/>
<path d="M302.30,563.03 L304.77,567.48 L299.83,567.48 Z" fill="#18a418" stroke="#1a1a1a" stroke-width="0.4"/>
<path d="M305.60,564.53 L308.07,568.98 L303.13,568.98 Z" fill="#18a418" stroke="#1a1a1a" stroke-width="0.4"/>
<path d="M304.50,546.43 L306.97,550.88 L302.03,550.88 Z" fill="#18a418" stroke="#1a1a1a" stroke-width="0.4"/>
<path d="M304.50,567.32 L306.97,571.78 L302.03,571.78 Z" fill="#18a418" stroke="#1a1a1a" stroke-width="0.4"/>
<path d="M304.50,574.23 L306.97,578.68 L302.03,578.68 Z" fill="#18a418" stroke="#1a1a1a" stroke-width="0.4"/>
<line x1="298.30" y1="559.10" x2="310.70" y2="559.10" stroke="#111" stroke-width="0.8"/>
<path d="M316.70,561.33 L319.07,563.69 L316.70,566.06 L314.34,563.69 Z" fill="#9a2ad2" stroke="#1a1a1a" stroke-width="0.4"/>
<path d="M320.00,561.04 L322.37,563.40 L320.00,565.77 L317.64,563.40 Z" fill="#9a2ad2" stroke="#1a1a1a" stroke-width="0.4"/>
<path d="M313.40,560.87 L315.77,563.23 L313.40,565.60 L311.04,563.23 Z" fill="#9a2ad2" stroke="#1a1a1a" stroke-width="0.4"/>
<path d="M314.16,562.71 L316.53,565.07 L314.16,567.44 L311.80,565.07 Z" fill="#9a2ad2" stroke="#1a1a1a" stroke-width="0.4"/>
<path d="M312.85,559.89 L315.22,562.26 L312.85,564.62 L310.49,562.26 Z" fill="#9a2ad2" stroke="#1a1a1a" stroke-width="0.4"/>
<path d="M317.59,563.05 L319.95,565.42 L317.59,567.78 L315.22,565.42 Z" fill="#9a2ad2" stroke="#1a1a1a" stroke-width="0.4"/>
<path d="M313.81,563.27 L316.18,565.64 L313.81,568.00 L311.45,565.64 Z" fill="#9a2ad2" stroke="#1a1a1a" stroke-width="0.4"/>
<path d="M320.00,564.94 L322.37,567.31 L320.00,569.67 L317.64,567.31 Z" fill="#9a2ad2" stroke="#1a1a1a" stroke-width="0.4"/>
<path d="M316.70,557.63 L319.07,560.00 L316.70,562.37 L314.34,560.00 Z" fill="#9a2ad2" stroke="#1a1a1a" stroke-width="0.4"/>
<path d="M316.70,567.43 L319.07,569.80 L316.70,572.16 L314.34,569.80 Z" fill="#9a2ad2" stroke="#1a1a1a" stroke-width="0.4"/>
<line x1="310.50" y1="563.80" x2="322.90" y2="563.80" stroke="#111" stroke-width="0.8"/>
<circle cx="328.90" cy="560.29" r="2.15" fill="#f48a1c" stroke="#1a1a1a" stroke-width="0.4"/>
<circle cx="332.20" cy="561.60" r="2.15" fill="#f48a1c" stroke="#1a1a1a" stroke-width="0.4"/>
<circle cx="331.10" cy="558.61" r="2.15" fill="#f48a1c" stroke="#1a1a1a" stroke-width="0.4"/>
<circle cx="328.90" cy="563.24" r="2.15" fill="#f48a1c" stroke="#1a1a1a" stroke-width="0.4"/>
<circle cx="328.90" cy="556.58" r="2.15" fill="#f48a1c" stroke="#1a1a1a" stroke-width="0.4"/>
<circle cx="331.10" cy="564.82" r="2.15" fill="#f48a1c" stroke="#1a1a1a" stroke-width="0.4"/>
<circle cx="331.10" cy="554.61" r="2.15" fill="#f48a1c" stroke="#1a1a1a" stroke-width="0.4"/>
<circle cx="328.90" cy="566.77" r="2.15" fill="#f48a1c" stroke="#1a1a1a" stroke-width="0.4"/>
<circle cx="330.00" cy="569.36" r="2.15" fill="#f48a1c" stroke="#1a1a1a" stroke-width="0.4"/>
<circle cx="328.90" cy="551.78" r="2.15" fill="#f48a1c" stroke="#1a1a1a" stroke-width="0.4"/>
<circle cx="328.90" cy="542.90" r="2.15" fill="#f48a1c" stroke="#1a1a1a" stroke-width="0.4"/>
<circle cx="328.90" cy="578.80" r="2.15" fill="#f48a1c" stroke="#1a1a1a" stroke-width="0.4"/>
<line x1="322.70" y1="560.60" x2="335.10" y2="560.60" stroke="#111" stroke-width="0.8"/>
<path d="M341.10,565.04 L343.57,560.59 L338.63,560.59 Z" fill="#9ec2ee" stroke="#1a1a1a" stroke-width="0.4"/>
<path d="M344.40,566.28 L346.87,561.83 L341.93,561.83 Z" fill="#9ec2ee" stroke="#1a1a1a" stroke-width="0.4"/>
<path d="M337.80,564.16 L340.27,559.71 L335.33,559.71 Z" fill="#9ec2ee" stroke="#1a1a1a" stroke-width="0.4"/>
<path d="M344.40,563.56 L346.87,559.10 L341.93,559.10 Z" fill="#9ec2ee" stroke="#1a1a1a" stroke-width="0.4"/>
<path d="M338.90,567.41 L341.37,562.95 L336.43,562.95 Z" fill="#9ec2ee" stroke="#1a1a1a" stroke-width="0.4"/>
<path d="M341.10,562.10 L343.57,557.65 L338.63,557.65 Z" fill="#9ec2ee" stroke="#1a1a1a" stroke-width="0.4"/>
<path d="M342.20,568.74 L344.67,564.29 L339.73,564.29 Z" fill="#9ec2ee" stroke="#1a1a1a" stroke-width="0.4"/>
<path d="M344.96,569.47 L347.43,565.02 L342.49,565.02 Z" fill="#9ec2ee" stroke="#1a1a1a" stroke-width="0.4"/>
<path d="M337.80,560.92 L340.27,556.47 L335.33,556.47 Z" fill="#9ec2ee" stroke="#1a1a1a" stroke-width="0.4"/>
<path d="M341.10,559.16 L343.57,554.71 L338.63,554.71 Z" fill="#9ec2ee" stroke="#1a1a1a" stroke-width="0.4"/>
<path d="M341.10,571.69 L343.57,567.24 L338.63,567.24 Z" fill="#9ec2ee" stroke="#1a1a1a" stroke-width="0.4"/>
<path d="M343.30,557.47 L345.77,553.02 L340.83,553.02 Z" fill="#9ec2ee" stroke="#1a1a1a" stroke-width="0.4"/>
<path d="M341.10,576.97 L343.57,572.52 L338.63,572.52 Z" fill="#9ec2ee" stroke="#1a1a1a" stroke-width="0.4"/>
<path d="M341.10,551.37 L343.57,546.92 L338.63,546.92 Z" fill="#9ec2ee" stroke="#1a1a1a" stroke-width="0.4"/>
<line x1="334.90" y1="562.80" x2="347.30" y2="562.80" stroke="#111" stroke-width="0.8"/>
<rect x="351.15" y="566.30" width="4.30" height="4.30" fill="#9b6128" stroke="#1a1a1a" stroke-width="0.4"/>
<rect x="354.45" y="565.19" width="4.30" height="4.30" fill="#9b6128" stroke="#1a1a1a" stroke-width="0.4"/>
<rect x="347.85" y="567.15" width="4.30" height="4.30" fill="#9b6128" stroke="#1a1a1a" stroke-width="0.4"/>
<rect x="353.35" y="567.83" width="4.30" height="4.30" fill="#9b6128" stroke="#1a1a1a" stroke-width="0.4"/>
<rect x="348.95" y="563.98" width="4.30" height="4.30" fill="#9b6128" stroke="#1a1a1a" stroke-width="0.4"/>
<rect x="349.68" y="563.82" width="4.30" height="4.30" fill="#9b6128" stroke="#1a1a1a" stroke-width="0.4"/>
<rect x="350.57" y="568.55" width="4.30" height="4.30" fill="#9b6128" stroke="#1a1a1a" stroke-width="0.4"/>
<rect x="352.25" y="562.66" width="4.30" height="4.30" fill="#9b6128" stroke="#1a1a1a" stroke-width="0.4"/>
<rect x="347.85" y="570.03" width="4.30" height="4.30" fill="#9b6128" stroke="#1a1a1a" stroke-width="0.4"/>
<rect x="350.05" y="560.90" width="4.30" height="4.30" fill="#9b6128" stroke="#1a1a1a" stroke-width="0.4"/>
<rect x="351.15" y="574.55" width="4.30" height="4.30" fill="#9b6128" stroke="#1a1a1a" stroke-width="0.4"/>
<rect x="351.15" y="556.35" width="4.30" height="4.30" fill="#9b6128" stroke="#1a1a1a" stroke-width="0.4"/>
<line x1="347.10" y1="568.10" x2="359.50" y2="568.10" stroke="#111" stroke-width="0.8"/>
<circle cx="375.50" cy="556.42" r="2.15" fill="#1818d6" stroke="#1a1a1a" stroke-width="0.4"/>
<circle cx="378.80" cy="555.26" r="2.15" fill="#1818d6" stroke="#1a1a1a" stroke-width="0.4"/>
<circle cx="377.70" cy="558.08" r="2.15" fill="#1818d6" stroke="#1a1a1a" stroke-width="0.4"/>
<circle cx="374.40" cy="559.09" r="2.15" fill="#1818d6" stroke="#1a1a1a" stroke-width="0.4"/>
<circle cx="375.50" cy="553.39" r="2.15" fill="#1818d6" stroke="#1a1a1a" stroke-width="0.4"/>
<circle cx="378.80" cy="552.25" r="2.15" fill="#1818d6" stroke="#1a1a1a" stroke-width="0.4"/>
<circle cx="378.80" cy="560.52" r="2.15" fill="#1818d6" stroke="#1a1a1a" stroke-width="0.4"/>
<circle cx="373.30" cy="551.08" r="2.15" fill="#1818d6" stroke="#1a1a1a" stroke-width="0.4"/>
<circle cx="375.50" cy="561.71" r="2.15" fill="#1818d6" stroke="#1a1a1a" stroke-width="0.4"/>
<circle cx="375.50" cy="549.44" r="2.15" fill="#1818d6" stroke="#1a1a1a" stroke-width="0.4"/>
<circle cx="378.80" cy="563.21" r="2.15" fill="#1818d6" stroke="#1a1a1a" stroke-width="0.4"/>
<circle cx="378.80" cy="548.03" r="2.15" fill="#1818d6" stroke="#1a1a1a" stroke-width="0.4"/>
<circle cx="374.40" cy="546.81" r="2.15" fill="#1818d6" stroke="#1a1a1a" stroke-width="0.4"/>
<circle cx="377.70" cy="545.60" r="2.15" fill="#1818d6" stroke="#1a1a1a" stroke-width="0.4"/>
<circle cx="372.20" cy="544.44" r="2.15" fill="#1818d6" stroke="#1a1a1a" stroke-width="0.4"/>
<circle cx="375.50" cy="571.94" r="2.15" fill="#1818d6" stroke="#1a1a1a" stroke-width="0.4"/>
<circle cx="378.80" cy="573.19" r="2.15" fill="#1818d6" stroke="#1a1a1a" stroke-width="0.4"/>
<line x1="369.30" y1="556.30" x2="381.70" y2="556.30" stroke="#111" stroke-width="0.8"/>
<rect x="385.55" y="551.17" width="4.30" height="4.30" fill="#ee1212" stroke="#1a1a1a" stroke-width="0.4"/>
<rect x="388.85" y="552.36" width="4.30" height="4.30" fill="#ee1212" stroke="#1a1a1a" stroke-width="0.4"/>
<rect x="382.25" y="550.13" width="4.30" height="4.30" fill="#ee1212" stroke="#1a1a1a" stroke-width="0.4"/>
<rect x="383.35" y="553.55" width="4.30" height="4.30" fill="#ee1212" stroke="#1a1a1a" stroke-width="0.4"/>
<rect x="385.55" y="548.44" width="4.30" height="4.30" fill="#ee1212" stroke="#1a1a1a" stroke-width="0.4"/>
<rect x="386.65" y="554.46" width="4.30" height="4.30" fill="#ee1212" stroke="#1a1a1a" stroke-width="0.4"/>
<rect x="387.75" y="546.94" width="4.30" height="4.30" fill="#ee1212" stroke="#1a1a1a" stroke-width="0.4"/>
<rect x="384.45" y="545.73" width="4.30" height="4.30" fill="#ee1212" stroke="#1a1a1a" stroke-width="0.4"/>
<rect x="385.67" y="544.77" width="4.30" height="4.30" fill="#ee1212" stroke="#1a1a1a" stroke-width="0.4"/>
<rect x="388.85" y="543.56" width="4.30" height="4.30" fill="#ee1212" stroke="#1a1a1a" stroke-width="0.4"/>
<rect x="383.35" y="542.70" width="4.30" height="4.30" fill="#ee1212" stroke="#1a1a1a" stroke-width="0.4"/>
<rect x="385.55" y="561.17" width="4.30" height="4.30" fill="#ee1212" stroke="#1a1a1a" stroke-width="0.4"/>
<rect x="385.55" y="540.85" width="4.30" height="4.30" fill="#ee1212" stroke="#1a1a1a" stroke-width="0.4"/>
<rect x="388.85" y="539.93" width="4.30" height="4.30" fill="#ee1212" stroke="#1a1a1a" stroke-width="0.4"/>
<rect x="387.75" y="563.28" width="4.30" height="4.30" fill="#ee1212" stroke="#1a1a1a" stroke-width="0.4"/>
<rect x="383.35" y="538.89" width="4.30" height="4.30" fill="#ee1212" stroke="#1a1a1a" stroke-width="0.4"/>
<rect x="384.45" y="564.62" width="4.30" height="4.30" fill="#ee1212" stroke="#1a1a1a" stroke-width="0.4"/>
<rect x="385.55" y="578.82" width="4.30" height="4.30" fill="#ee1212" stroke="#1a1a1a" stroke-width="0.4"/>
<line x1="381.50" y1="553.60" x2="393.90" y2="553.60" stroke="#111" stroke-width="0.8"/>
<path d="M399.90,559.31 L402.37,563.76 L397.43,563.76 Z" fill="#18a418" stroke="#1a1a1a" stroke-width="0.4"/>
<path d="M403.20,557.97 L405.67,562.42 L400.73,562.42 Z" fill="#18a418" stroke="#1a1a1a" stroke-width="0.4"/>
<path d="M402.10,561.16 L404.57,565.62 L399.63,565.62 Z" fill="#18a418" stroke="#1a1a1a" stroke-width="0.4"/>
<path d="M399.90,555.97 L402.37,560.42 L397.43,560.42 Z" fill="#18a418" stroke="#1a1a1a" stroke-width="0.4"/>
<path d="M399.90,562.87 L402.37,567.33 L397.43,567.33 Z" fill="#18a418" stroke="#1a1a1a" stroke-width="0.4"/>
<path d="M403.20,554.62 L405.67,559.07 L400.73,559.07 Z" fill="#18a418" stroke="#1a1a1a" stroke-width="0.4"/>
<path d="M403.20,564.37 L405.67,568.82 L400.73,568.82 Z" fill="#18a418" stroke="#1a1a1a" stroke-width="0.4"/>
<path d="M399.90,552.69 L402.37,557.14 L397.43,557.14 Z" fill="#18a418" stroke="#1a1a1a" stroke-width="0.4"/>
<path d="M399.90,565.91 L402.37,570.36 L397.43,570.36 Z" fill="#18a418" stroke="#1a1a1a" stroke-width="0.4"/>
<path d="M403.20,567.25 L405.67,571.70 L400.73,571.70 Z" fill="#18a418" stroke="#1a1a1a" stroke-width="0.4"/>
<path d="M402.10,551.13 L404.57,555.58 L399.63,555.58 Z" fill="#18a418" stroke="#1a1a1a" stroke-width="0.4"/>
<path d="M399.90,568.98 L402.37,573.43 L397.43,573.43 Z" fill="#18a418" stroke="#1a1a1a" stroke-width="0.4"/>
<path d="M402.10,571.09 L404.57,575.54 L399.63,575.54 Z" fill="#18a418" stroke="#1a1a1a" stroke-width="0.4"/>
<path d="M398.80,572.13 L401.27,576.58 L396.33,576.58 Z" fill="#18a418" stroke="#1a1a1a" stroke-width="0.4"/>
<path d="M401.00,573.75 L403.47,578.20 L398.53,578.20 Z" fill="#18a418" stroke="#1a1a1a" stroke-width="0.4"/>
<path d="M398.80,575.52 L401.27,579.97 L396.33,579.97 Z" fill="#18a418" stroke="#1a1a1a" stroke-width="0.4"/>
<path d="M399.90,539.96 L402.37,544.41 L397.43,544.41 Z" fill="#18a418" stroke="#1a1a1a" stroke-width="0.4"/>
<line x1="393.70" y1="561.70" x2="406.10" y2="561.70" stroke="#111" stroke-width="0.8"/>
<path d="M412.10,561.85 L414.47,564.21 L412.10,566.58 L409.74,564.21 Z" fill="#9a2ad2" stroke="#1a1a1a" stroke-width="0.4"/>
<path d="M415.40,561.80 L417.77,564.16 L415.40,566.53 L413.04,564.16 Z" fill="#9a2ad2" stroke="#1a1a1a" stroke-width="0.4"/>
<path d="M409.90,563.56 L412.27,565.92 L409.90,568.29 L407.54,565.92 Z" fill="#9a2ad2" stroke="#1a1a1a" stroke-width="0.4"/>
<path d="M413.20,564.38 L415.57,566.75 L413.20,569.11 L410.84,566.75 Z" fill="#9a2ad2" stroke="#1a1a1a" stroke-width="0.4"/>
<path d="M409.90,559.99 L412.27,562.35 L409.90,564.72 L407.54,562.35 Z" fill="#9a2ad2" stroke="#1a1a1a" stroke-width="0.4"/>
<path d="M415.40,565.93 L417.77,568.29 L415.40,570.66 L413.04,568.29 Z" fill="#9a2ad2" stroke="#1a1a1a" stroke-width="0.4"/>
<path d="M413.20,559.07 L415.57,561.44 L413.20,563.80 L410.84,561.44 Z" fill="#9a2ad2" stroke="#1a1a1a" stroke-width="0.4"/>
<path d="M411.00,566.67 L413.37,569.03 L411.00,571.40 L408.63,569.03 Z" fill="#9a2ad2" stroke="#1a1a1a" stroke-width="0.4"/>
<path d="M412.10,553.93 L414.47,556.30 L412.10,558.66 L409.74,556.30 Z" fill="#9a2ad2" stroke="#1a1a1a" stroke-width="0.4"/>
<path d="M412.10,572.13 L414.47,574.50 L412.10,576.87 L409.74,574.50 Z" fill="#9a2ad2" stroke="#1a1a1a" stroke-width="0.4"/>
<line x1="405.90" y1="564.90" x2="418.30" y2="564.90" stroke="#111" stroke-width="0.8"/>
<circle cx="424.30" cy="563.69" r="2.15" fill="#f48a1c" stroke="#1a1a1a" stroke-width="0.4"/>
<circle cx="427.60" cy="564.43" r="2.15" fill="#f48a1c" stroke="#1a1a1a" stroke-width="0.4"/>
<circle cx="422.10" cy="562.13" r="2.15" fill="#f48a1c" stroke="#1a1a1a" stroke-width="0.4"/>
<circle cx="422.10" cy="565.60" r="2.15" fill="#f48a1c" stroke="#1a1a1a" stroke-width="0.4"/>
<circle cx="425.40" cy="561.24" r="2.15" fill="#f48a1c" stroke="#1a1a1a" stroke-width="0.4"/>
<circle cx="425.40" cy="566.41" r="2.15" fill="#f48a1c" stroke="#1a1a1a" stroke-width="0.4"/>
<circle cx="422.48" cy="561.03" r="2.15" fill="#f48a1c" stroke="#1a1a1a" stroke-width="0.4"/>
<circle cx="427.60" cy="559.28" r="2.15" fill="#f48a1c" stroke="#1a1a1a" stroke-width="0.4"/>
<circle cx="424.88" cy="559.00" r="2.15" fill="#f48a1c" stroke="#1a1a1a" stroke-width="0.4"/>
<circle cx="422.10" cy="557.69" r="2.15" fill="#f48a1c" stroke="#1a1a1a" stroke-width="0.4"/>
<circle cx="424.30" cy="570.20" r="2.15" fill="#f48a1c" stroke="#1a1a1a" stroke-width="0.4"/>
<circle cx="424.30" cy="555.41" r="2.15" fill="#f48a1c" stroke="#1a1a1a" stroke-width="0.4"/>
<circle cx="427.60" cy="554.16" r="2.15" fill="#f48a1c" stroke="#1a1a1a" stroke-width="0.4"/>
<circle cx="424.30" cy="547.80" r="2.15" fill="#f48a1c" stroke="#1a1a1a" stroke-width="0.4"/>
<line x1="418.10" y1="563.80" x2="430.50" y2="563.80" stroke="#111" stroke-width="0.8"/>
<path d="M436.50,567.83 L438.97,563.38 L434.03,563.38 Z" fill="#9ec2ee" stroke="#1a1a1a" stroke-width="0.4"/>
<path d="M439.80,567.64 L442.27,563.19 L437.33,563.19 Z" fill="#9ec2ee" stroke="#1a1a1a" stroke-width="0.4"/>
<path d="M433.20,566.72 L435.67,562.27 L430.73,562.27 Z" fill="#9ec2ee" stroke="#1a1a1a" stroke-width="0.4"/>
<path d="M434.30,569.58 L436.77,565.13 L431.83,565.13 Z" fill="#9ec2ee" stroke="#1a1a1a" stroke-width="0.4"/>
<path d="M436.50,565.16 L438.97,560.71 L434.03,560.71 Z" fill="#9ec2ee" stroke="#1a1a1a" stroke-width="0.4"/>
<path d="M439.80,564.65 L442.27,560.19 L437.33,560.19 Z" fill="#9ec2ee" stroke="#1a1a1a" stroke-width="0.4"/>
<path d="M436.50,572.67 L438.97,568.22 L434.03,568.22 Z" fill="#9ec2ee" stroke="#1a1a1a" stroke-width="0.4"/>
<path d="M434.30,562.95 L436.77,558.50 L431.83,558.50 Z" fill="#9ec2ee" stroke="#1a1a1a" stroke-width="0.4"/>
<path d="M436.50,557.77 L438.97,553.32 L434.03,553.32 Z" fill="#9ec2ee" stroke="#1a1a1a" stroke-width="0.4"/>
<line x1="430.30" y1="565.50" x2="442.70" y2="565.50" stroke="#111" stroke-width="0.8"/>
<rect x="446.55" y="562.81" width="4.30" height="4.30" fill="#9b6128" stroke="#1a1a1a" stroke-width="0.4"/>
<rect x="449.85" y="564.10" width="4.30" height="4.30" fill="#9b6128" stroke="#1a1a1a" stroke-width="0.4"/>
<rect x="443.25" y="562.59" width="4.30" height="4.30" fill="#9b6128" stroke="#1a1a1a" stroke-width="0.4"/>
<rect x="445.38" y="564.79" width="4.30" height="4.30" fill="#9b6128" stroke="#1a1a1a" stroke-width="0.4"/>
<rect x="447.22" y="565.40" width="4.30" height="4.30" fill="#9b6128" stroke="#1a1a1a" stroke-width="0.4"/>
<rect x="448.75" y="561.14" width="4.30" height="4.30" fill="#9b6128" stroke="#1a1a1a" stroke-width="0.4"/>
<rect x="446.65" y="560.70" width="4.30" height="4.30" fill="#9b6128" stroke="#1a1a1a" stroke-width="0.4"/>
<rect x="449.78" y="566.29" width="4.30" height="4.30" fill="#9b6128" stroke="#1a1a1a" stroke-width="0.4"/>
<rect x="445.45" y="567.50" width="4.30" height="4.30" fill="#9b6128" stroke="#1a1a1a" stroke-width="0.4"/>
<rect x="444.35" y="558.90" width="4.30" height="4.30" fill="#9b6128" stroke="#1a1a1a" stroke-width="0.4"/>
<rect x="445.86" y="568.47" width="4.30" height="4.30" fill="#9b6128" stroke="#1a1a1a" stroke-width="0.4"/>
<rect x="448.75" y="569.38" width="4.30" height="4.30" fill="#9b6128" stroke="#1a1a1a" stroke-width="0.4"/>
<rect x="446.55" y="555.25" width="4.30" height="4.30" fill="#9b6128" stroke="#1a1a1a" stroke-width="0.4"/>
<rect x="446.55" y="574.55" width="4.30" height="4.30" fill="#9b6128" stroke="#1a1a1a" stroke-width="0.4"/>
<line x1="442.50" y1="565.50" x2="454.90" y2="565.50" stroke="#111" stroke-width="0.8"/>
<rect x="175.50" y="588.80" width="283.00" height="16.70" fill="none" stroke="#5a5a5a" stroke-width="0.8"/>
<text x="170.80" y="595.00" font-size="7.7" text-anchor="end" fill="#231f20" stroke="#231f20" stroke-width="0.1">Below</text>
<text x="170.80" y="603.70" font-size="7.7" text-anchor="end" fill="#231f20" stroke="#231f20" stroke-width="0.1">threshold</text>
<path d="M304.80,596.99 L307.22,601.33 L302.38,601.33 Z" fill="none" stroke="#18a418" stroke-width="0.6"/>
<path d="M314.20,590.20 L316.30,592.30 L314.20,594.40 L312.10,592.30 Z" fill="none" stroke="#9a2ad2" stroke-width="0.6"/>
<path d="M317.20,589.60 L319.30,591.70 L317.20,593.80 L315.10,591.70 Z" fill="none" stroke="#9a2ad2" stroke-width="0.6"/>
<path d="M320.20,590.70 L322.30,592.80 L320.20,594.90 L318.10,592.80 Z" fill="none" stroke="#9a2ad2" stroke-width="0.6"/>
<path d="M313.60,593.20 L315.70,595.30 L313.60,597.40 L311.50,595.30 Z" fill="none" stroke="#9a2ad2" stroke-width="0.6"/>
<path d="M317.20,593.20 L319.30,595.30 L317.20,597.40 L315.10,595.30 Z" fill="none" stroke="#9a2ad2" stroke-width="0.6"/>
<path d="M320.80,593.70 L322.90,595.80 L320.80,597.90 L318.70,595.80 Z" fill="none" stroke="#9a2ad2" stroke-width="0.6"/>
<path d="M315.20,596.20 L317.30,598.30 L315.20,600.40 L313.10,598.30 Z" fill="none" stroke="#9a2ad2" stroke-width="0.6"/>
<path d="M319.20,596.20 L321.30,598.30 L319.20,600.40 L317.10,598.30 Z" fill="none" stroke="#9a2ad2" stroke-width="0.6"/>
<path d="M317.70,594.70 L319.80,596.80 L317.70,598.90 L315.60,596.80 Z" fill="none" stroke="#9a2ad2" stroke-width="0.6"/>
<path d="M338.80,595.71 L341.22,591.37 L336.38,591.37 Z" fill="none" stroke="#9ec2ee" stroke-width="0.6"/>
<path d="M342.00,595.51 L344.42,591.17 L339.58,591.17 Z" fill="none" stroke="#9ec2ee" stroke-width="0.6"/>
<path d="M345.20,595.71 L347.62,591.37 L342.78,591.37 Z" fill="none" stroke="#9ec2ee" stroke-width="0.6"/>
<path d="M340.40,598.21 L342.81,593.87 L337.98,593.87 Z" fill="none" stroke="#9ec2ee" stroke-width="0.6"/>
<path d="M343.60,598.21 L346.02,593.87 L341.19,593.87 Z" fill="none" stroke="#9ec2ee" stroke-width="0.6"/>
<path d="M342.00,602.71 L344.42,598.37 L339.58,598.37 Z" fill="none" stroke="#9ec2ee" stroke-width="0.6"/>
<path d="M339.50,599.41 L341.92,595.07 L337.08,595.07 Z" fill="none" stroke="#9ec2ee" stroke-width="0.6"/>
<path d="M344.50,599.41 L346.92,595.07 L342.08,595.07 Z" fill="none" stroke="#9ec2ee" stroke-width="0.6"/>
<rect x="349.80" y="590.80" width="4.20" height="4.20" fill="none" stroke="#9b6128" stroke-width="0.6"/>
<rect x="354.80" y="590.80" width="4.20" height="4.20" fill="none" stroke="#9b6128" stroke-width="0.6"/>
<rect x="349.80" y="594.40" width="4.20" height="4.20" fill="none" stroke="#9b6128" stroke-width="0.6"/>
<rect x="355.00" y="594.40" width="4.20" height="4.20" fill="none" stroke="#9b6128" stroke-width="0.6"/>
<rect x="350.00" y="598.00" width="4.20" height="4.20" fill="none" stroke="#9b6128" stroke-width="0.6"/>
<rect x="355.00" y="598.00" width="4.20" height="4.20" fill="none" stroke="#9b6128" stroke-width="0.6"/>
<rect x="352.40" y="592.90" width="4.20" height="4.20" fill="none" stroke="#9b6128" stroke-width="0.6"/>
<rect x="352.40" y="596.40" width="4.20" height="4.20" fill="none" stroke="#9b6128" stroke-width="0.6"/>
<rect x="383.20" y="596.50" width="4.20" height="4.20" fill="none" stroke="#ee1212" stroke-width="0.6"/>
<rect x="389.00" y="595.60" width="4.20" height="4.20" fill="none" stroke="#ee1212" stroke-width="0.6"/>
<path d="M400.40,595.19 L402.81,599.53 L397.98,599.53 Z" fill="none" stroke="#18a418" stroke-width="0.6"/>
<path d="M410.80,590.90 L412.90,593.00 L410.80,595.10 L408.70,593.00 Z" fill="none" stroke="#9a2ad2" stroke-width="0.6"/>
<path d="M413.80,590.30 L415.90,592.40 L413.80,594.50 L411.70,592.40 Z" fill="none" stroke="#9a2ad2" stroke-width="0.6"/>
<path d="M416.80,591.40 L418.90,593.50 L416.80,595.60 L414.70,593.50 Z" fill="none" stroke="#9a2ad2" stroke-width="0.6"/>
<path d="M410.20,593.90 L412.30,596.00 L410.20,598.10 L408.10,596.00 Z" fill="none" stroke="#9a2ad2" stroke-width="0.6"/>
<path d="M413.80,593.90 L415.90,596.00 L413.80,598.10 L411.70,596.00 Z" fill="none" stroke="#9a2ad2" stroke-width="0.6"/>
<path d="M417.40,594.40 L419.50,596.50 L417.40,598.60 L415.30,596.50 Z" fill="none" stroke="#9a2ad2" stroke-width="0.6"/>
<path d="M411.80,596.90 L413.90,599.00 L411.80,601.10 L409.70,599.00 Z" fill="none" stroke="#9a2ad2" stroke-width="0.6"/>
<path d="M415.80,596.90 L417.90,599.00 L415.80,601.10 L413.70,599.00 Z" fill="none" stroke="#9a2ad2" stroke-width="0.6"/>
<path d="M414.30,595.40 L416.40,597.50 L414.30,599.60 L412.20,597.50 Z" fill="none" stroke="#9a2ad2" stroke-width="0.6"/>
<circle cx="424.00" cy="597.80" r="2.10" fill="none" stroke="#f48a1c" stroke-width="0.6"/>
<circle cx="427.00" cy="597.20" r="2.10" fill="none" stroke="#f48a1c" stroke-width="0.6"/>
<circle cx="430.00" cy="597.60" r="2.10" fill="none" stroke="#f48a1c" stroke-width="0.6"/>
<circle cx="428.40" cy="598.60" r="2.10" fill="none" stroke="#f48a1c" stroke-width="0.6"/>
<path d="M435.80,596.71 L438.22,592.37 L433.38,592.37 Z" fill="none" stroke="#9ec2ee" stroke-width="0.6"/>
<path d="M439.00,596.51 L441.42,592.17 L436.58,592.17 Z" fill="none" stroke="#9ec2ee" stroke-width="0.6"/>
<path d="M442.20,596.71 L444.62,592.37 L439.78,592.37 Z" fill="none" stroke="#9ec2ee" stroke-width="0.6"/>
<path d="M437.40,599.21 L439.81,594.87 L434.98,594.87 Z" fill="none" stroke="#9ec2ee" stroke-width="0.6"/>
<path d="M440.60,599.21 L443.02,594.87 L438.19,594.87 Z" fill="none" stroke="#9ec2ee" stroke-width="0.6"/>
<path d="M439.00,603.71 L441.42,599.37 L436.58,599.37 Z" fill="none" stroke="#9ec2ee" stroke-width="0.6"/>
<path d="M436.50,600.41 L438.92,596.07 L434.08,596.07 Z" fill="none" stroke="#9ec2ee" stroke-width="0.6"/>
<path d="M441.50,600.41 L443.92,596.07 L439.08,596.07 Z" fill="none" stroke="#9ec2ee" stroke-width="0.6"/>
<rect x="446.50" y="591.80" width="4.20" height="4.20" fill="none" stroke="#9b6128" stroke-width="0.6"/>
<rect x="451.50" y="591.80" width="4.20" height="4.20" fill="none" stroke="#9b6128" stroke-width="0.6"/>
<rect x="446.50" y="595.40" width="4.20" height="4.20" fill="none" stroke="#9b6128" stroke-width="0.6"/>
<rect x="451.70" y="595.40" width="4.20" height="4.20" fill="none" stroke="#9b6128" stroke-width="0.6"/>
<rect x="446.70" y="599.00" width="4.20" height="4.20" fill="none" stroke="#9b6128" stroke-width="0.6"/>
<rect x="451.70" y="599.00" width="4.20" height="4.20" fill="none" stroke="#9b6128" stroke-width="0.6"/>
<rect x="449.10" y="593.90" width="4.20" height="4.20" fill="none" stroke="#9b6128" stroke-width="0.6"/>
<rect x="449.10" y="597.40" width="4.20" height="4.20" fill="none" stroke="#9b6128" stroke-width="0.6"/>
<line x1="220.30" y1="605.50" x2="220.30" y2="608.50" stroke="#555" stroke-width="0.7"/>
<line x1="317.00" y1="605.50" x2="317.00" y2="608.50" stroke="#555" stroke-width="0.7"/>
<line x1="413.00" y1="605.50" x2="413.00" y2="608.50" stroke="#555" stroke-width="0.7"/>
<text x="151.30" y="531.50" font-size="8.9" text-anchor="middle" fill="#231f20" transform="rotate(-90 151.30 531.50)" stroke="#231f20" stroke-width="0.1">SIV RNA per 10<tspan font-size="5.6" dy="-3">6</tspan><tspan dy="3"> cells</tspan></text>
<text x="219.80" y="620.70" font-size="8.8" text-anchor="middle" fill="#231f20" stroke="#231f20" stroke-width="0.1">12 d.p.i.</text>
<text x="317.00" y="620.70" font-size="8.8" text-anchor="middle" fill="#231f20" stroke="#231f20" stroke-width="0.1">21 w.p.i.</text>
<text x="413.80" y="620.70" font-size="8.8" text-anchor="middle" fill="#231f20" stroke="#231f20" stroke-width="0.1">66 w.p.i.</text>
<text x="472.00" y="285.00" font-size="12.2" text-anchor="start" fill="#000" font-weight="bold" stroke="#000" stroke-width="0.1">f</text>
<text x="577.00" y="298.20" font-size="8.8" text-anchor="middle" fill="#231f20" stroke="#231f20" stroke-width="0.1">PVL 5 days after ART</text>
<rect x="497.10" y="302.30" width="10.90" height="96.50" fill="#c9ddfb" stroke="none" stroke-width="0.8"/>
<rect x="497.10" y="398.80" width="159.50" height="15.80" fill="#d3d3d3" stroke="none" stroke-width="0.8"/>
<line x1="497.10" y1="398.80" x2="656.60" y2="398.80" stroke="#666" stroke-width="0.7" stroke-dasharray="2.4,1.8"/>
<polyline points="507.50,402.20 528.60,402.20 549.70,402.20 570.80,402.20 591.90,402.20 613.00,402.20" fill="none" stroke="#555" stroke-width="0.45" stroke-linejoin="round"/>
<circle cx="507.50" cy="402.20" r="1.5" fill="#8a8a8a" stroke="#333" stroke-width="0.35"/>
<circle cx="528.60" cy="402.20" r="1.5" fill="#8a8a8a" stroke="#333" stroke-width="0.35"/>
<circle cx="549.70" cy="402.20" r="1.5" fill="#8a8a8a" stroke="#333" stroke-width="0.35"/>
<circle cx="570.80" cy="402.20" r="1.5" fill="#8a8a8a" stroke="#333" stroke-width="0.35"/>
<circle cx="591.90" cy="402.20" r="1.5" fill="#8a8a8a" stroke="#333" stroke-width="0.35"/>
<circle cx="613.00" cy="402.20" r="1.5" fill="#8a8a8a" stroke="#333" stroke-width="0.35"/>
<polyline points="507.50,404.30 528.60,404.30 549.70,404.30 570.80,404.30 591.90,404.30 613.00,404.30" fill="none" stroke="#555" stroke-width="0.45" stroke-linejoin="round"/>
<circle cx="507.50" cy="404.30" r="1.5" fill="#8a8a8a" stroke="#333" stroke-width="0.35"/>
<circle cx="528.60" cy="404.30" r="1.5" fill="#8a8a8a" stroke="#333" stroke-width="0.35"/>
<circle cx="549.70" cy="404.30" r="1.5" fill="#8a8a8a" stroke="#333" stroke-width="0.35"/>
<circle cx="570.80" cy="404.30" r="1.5" fill="#8a8a8a" stroke="#333" stroke-width="0.35"/>
<circle cx="591.90" cy="404.30" r="1.5" fill="#8a8a8a" stroke="#333" stroke-width="0.35"/>
<circle cx="613.00" cy="404.30" r="1.5" fill="#8a8a8a" stroke="#333" stroke-width="0.35"/>
<polyline points="507.50,406.50 528.60,406.50 549.70,406.50 570.80,406.50 591.90,406.50 613.00,406.50" fill="none" stroke="#555" stroke-width="0.45" stroke-linejoin="round"/>
<circle cx="507.50" cy="406.50" r="1.5" fill="#8a8a8a" stroke="#333" stroke-width="0.35"/>
<circle cx="528.60" cy="406.50" r="1.5" fill="#8a8a8a" stroke="#333" stroke-width="0.35"/>
<circle cx="549.70" cy="406.50" r="1.5" fill="#8a8a8a" stroke="#333" stroke-width="0.35"/>
<circle cx="570.80" cy="406.50" r="1.5" fill="#8a8a8a" stroke="#333" stroke-width="0.35"/>
<circle cx="591.90" cy="406.50" r="1.5" fill="#8a8a8a" stroke="#333" stroke-width="0.35"/>
<circle cx="613.00" cy="406.50" r="1.5" fill="#8a8a8a" stroke="#333" stroke-width="0.35"/>
<polyline points="507.50,408.60 528.60,408.60 549.70,408.60 570.80,408.60 591.90,408.60 613.00,408.60" fill="none" stroke="#555" stroke-width="0.45" stroke-linejoin="round"/>
<circle cx="507.50" cy="408.60" r="1.5" fill="#8a8a8a" stroke="#333" stroke-width="0.35"/>
<circle cx="528.60" cy="408.60" r="1.5" fill="#8a8a8a" stroke="#333" stroke-width="0.35"/>
<circle cx="549.70" cy="408.60" r="1.5" fill="#8a8a8a" stroke="#333" stroke-width="0.35"/>
<circle cx="570.80" cy="408.60" r="1.5" fill="#8a8a8a" stroke="#333" stroke-width="0.35"/>
<circle cx="591.90" cy="408.60" r="1.5" fill="#8a8a8a" stroke="#333" stroke-width="0.35"/>
<circle cx="613.00" cy="408.60" r="1.5" fill="#8a8a8a" stroke="#333" stroke-width="0.35"/>
<polyline points="507.50,410.60 528.60,410.60 549.70,410.60 570.80,410.60 591.90,410.60 613.00,410.60" fill="none" stroke="#555" stroke-width="0.45" stroke-linejoin="round"/>
<circle cx="507.50" cy="410.60" r="1.5" fill="#8a8a8a" stroke="#333" stroke-width="0.35"/>
<circle cx="528.60" cy="410.60" r="1.5" fill="#8a8a8a" stroke="#333" stroke-width="0.35"/>
<circle cx="549.70" cy="410.60" r="1.5" fill="#8a8a8a" stroke="#333" stroke-width="0.35"/>
<circle cx="570.80" cy="410.60" r="1.5" fill="#8a8a8a" stroke="#333" stroke-width="0.35"/>
<circle cx="591.90" cy="410.60" r="1.5" fill="#8a8a8a" stroke="#333" stroke-width="0.35"/>
<circle cx="613.00" cy="410.60" r="1.5" fill="#8a8a8a" stroke="#333" stroke-width="0.35"/>
<polyline points="507.50,404.30 528.60,390.90 549.70,404.30" fill="none" stroke="#333" stroke-width="0.5" stroke-linejoin="round"/>
<circle cx="528.60" cy="390.9" r="1.7" fill="none" stroke="#444" stroke-width="0.5"/>
<polyline points="507.50,400.30 528.60,400.30 549.70,400.30 570.80,400.30 591.90,400.30 613.00,381.00" fill="none" stroke="#ee1111" stroke-width="0.8" stroke-linejoin="round"/>
<polyline points="507.50,413.20 528.60,413.20 549.70,413.20 570.80,391.40 591.90,382.70 613.00,377.70" fill="none" stroke="#ee1111" stroke-width="0.8" stroke-linejoin="round"/>
<circle cx="507.50" cy="400.30" r="2.30" fill="#ee1111" stroke="#1a1a1a" stroke-width="0.4"/>
<circle cx="528.60" cy="400.30" r="2.30" fill="#ee1111" stroke="#1a1a1a" stroke-width="0.4"/>
<circle cx="549.70" cy="400.30" r="2.30" fill="#ee1111" stroke="#1a1a1a" stroke-width="0.4"/>
<circle cx="570.80" cy="400.30" r="2.30" fill="#ee1111" stroke="#1a1a1a" stroke-width="0.4"/>
<circle cx="591.90" cy="400.30" r="2.30" fill="#ee1111" stroke="#1a1a1a" stroke-width="0.4"/>
<circle cx="613.00" cy="381.00" r="2.30" fill="#ee1111" stroke="#1a1a1a" stroke-width="0.4"/>
<rect x="505.30" y="411.00" width="4.40" height="4.40" fill="#ee1111" stroke="#1a1a1a" stroke-width="0.4"/>
<rect x="526.40" y="411.00" width="4.40" height="4.40" fill="#ee1111" stroke="#1a1a1a" stroke-width="0.4"/>
<rect x="547.50" y="411.00" width="4.40" height="4.40" fill="#ee1111" stroke="#1a1a1a" stroke-width="0.4"/>
<rect x="568.60" y="389.20" width="4.40" height="4.40" fill="#ee1111" stroke="#1a1a1a" stroke-width="0.4"/>
<rect x="589.70" y="380.50" width="4.40" height="4.40" fill="#ee1111" stroke="#1a1a1a" stroke-width="0.4"/>
<rect x="610.80" y="375.50" width="4.40" height="4.40" fill="#ee1111" stroke="#1a1a1a" stroke-width="0.4"/>
<text x="603.5" y="359.9" font-size="8.4" fill="#ee1111" stroke="#ee1111" stroke-width="0.1"><tspan font-style="italic">n</tspan> = 2</text>
<text x="620.30" y="372.30" font-size="8.2" text-anchor="start" fill="#231f20" stroke="#231f20" stroke-width="0.1">4 BCs</text>
<text x="620.30" y="382.20" font-size="8.2" text-anchor="start" fill="#231f20" stroke="#231f20" stroke-width="0.1">2 BCs</text>
<text x="660.0" y="410.5" font-size="8.2" fill="#231f20" stroke="#231f20" stroke-width="0.1"><tspan font-style="italic">n</tspan> = 7</text>
<rect x="497.10" y="302.30" width="159.50" height="112.30" fill="none" stroke="#5a5a5a" stroke-width="0.8"/>
<line x1="493.60" y1="398.80" x2="497.10" y2="398.80" stroke="#555" stroke-width="0.7"/>
<text x="490.20" y="401.40" font-size="7.6" text-anchor="end" fill="#231f20" stroke="#231f20" stroke-width="0.1">0</text>
<line x1="493.60" y1="382.72" x2="497.10" y2="382.72" stroke="#555" stroke-width="0.7"/>
<text x="490.20" y="385.32" font-size="7.6" text-anchor="end" fill="#231f20" stroke="#231f20" stroke-width="0.1">1</text>
<line x1="493.60" y1="366.64" x2="497.10" y2="366.64" stroke="#555" stroke-width="0.7"/>
<text x="490.20" y="369.24" font-size="7.6" text-anchor="end" fill="#231f20" stroke="#231f20" stroke-width="0.1">2</text>
<line x1="493.60" y1="350.56" x2="497.10" y2="350.56" stroke="#555" stroke-width="0.7"/>
<text x="490.20" y="353.16" font-size="7.6" text-anchor="end" fill="#231f20" stroke="#231f20" stroke-width="0.1">3</text>
<line x1="493.60" y1="334.48" x2="497.10" y2="334.48" stroke="#555" stroke-width="0.7"/>
<text x="490.20" y="337.08" font-size="7.6" text-anchor="end" fill="#231f20" stroke="#231f20" stroke-width="0.1">4</text>
<line x1="493.60" y1="318.40" x2="497.10" y2="318.40" stroke="#555" stroke-width="0.7"/>
<text x="490.20" y="321.00" font-size="7.6" text-anchor="end" fill="#231f20" stroke="#231f20" stroke-width="0.1">5</text>
<line x1="493.60" y1="302.32" x2="497.10" y2="302.32" stroke="#555" stroke-width="0.7"/>
<text x="490.20" y="304.92" font-size="7.6" text-anchor="end" fill="#231f20" stroke="#231f20" stroke-width="0.1">6</text>
<line x1="507.50" y1="414.60" x2="507.50" y2="417.80" stroke="#555" stroke-width="0.7"/>
<text x="507.50" y="427.60" font-size="7.6" text-anchor="middle" fill="#231f20" stroke="#231f20" stroke-width="0.1">0</text>
<line x1="528.60" y1="414.60" x2="528.60" y2="417.80" stroke="#555" stroke-width="0.7"/>
<text x="528.60" y="427.60" font-size="7.6" text-anchor="middle" fill="#231f20" stroke="#231f20" stroke-width="0.1">1</text>
<line x1="549.70" y1="414.60" x2="549.70" y2="417.80" stroke="#555" stroke-width="0.7"/>
<text x="549.70" y="427.60" font-size="7.6" text-anchor="middle" fill="#231f20" stroke="#231f20" stroke-width="0.1">2</text>
<line x1="570.80" y1="414.60" x2="570.80" y2="417.80" stroke="#555" stroke-width="0.7"/>
<text x="570.80" y="427.60" font-size="7.6" text-anchor="middle" fill="#231f20" stroke="#231f20" stroke-width="0.1">3</text>
<line x1="591.90" y1="414.60" x2="591.90" y2="417.80" stroke="#555" stroke-width="0.7"/>
<text x="591.90" y="427.60" font-size="7.6" text-anchor="middle" fill="#231f20" stroke="#231f20" stroke-width="0.1">4</text>
<line x1="613.00" y1="414.60" x2="613.00" y2="417.80" stroke="#555" stroke-width="0.7"/>
<text x="613.00" y="427.60" font-size="7.6" text-anchor="middle" fill="#231f20" stroke="#231f20" stroke-width="0.1">5</text>
<text x="571.00" y="440.40" font-size="8.8" text-anchor="middle" fill="#231f20" stroke="#231f20" stroke-width="0.1">Time after ART (days)</text>
<text x="478.00" y="359.30" font-size="8.6" text-anchor="middle" fill="#231f20" transform="rotate(-90 478.00 359.30)" textLength="119.3" lengthAdjust="spacingAndGlyphs" stroke="#231f20" stroke-width="0.1">log<tspan font-size="5.5" dy="2">10</tspan><tspan dy="-2">[SIV RNA (copies per ml)]</tspan></text>
<text x="577.00" y="475.00" font-size="8.8" text-anchor="middle" fill="#231f20" stroke="#231f20" stroke-width="0.1">PVL 7 days after ART</text>
<rect x="497.10" y="479.00" width="10.90" height="97.60" fill="#c9ddfb" stroke="none" stroke-width="0.8"/>
<rect x="497.10" y="576.60" width="161.30" height="16.00" fill="#d3d3d3" stroke="none" stroke-width="0.8"/>
<line x1="497.10" y1="576.60" x2="658.40" y2="576.60" stroke="#666" stroke-width="0.7" stroke-dasharray="2.4,1.8"/>
<polyline points="507.50,577.10 528.60,568.60 549.70,577.10 570.80,577.10 591.90,577.10 613.00,577.10 634.10,577.10 655.20,577.10" fill="none" stroke="#333" stroke-width="0.5" stroke-linejoin="round"/>
<polyline points="507.50,584.60 528.60,584.60 549.70,584.60 570.80,584.60 591.90,584.60 613.00,584.60 634.10,584.60 655.20,584.60" fill="none" stroke="#444" stroke-width="0.6" stroke-linejoin="round"/>
<polyline points="507.50,586.60 528.60,586.60 549.70,586.60 570.80,586.60 591.90,586.60 613.00,586.60 634.10,586.60 655.20,586.60" fill="none" stroke="#777" stroke-width="0.5" stroke-linejoin="round"/>
<rect x="505.60" y="575.20" width="3.8" height="3.8" fill="#c8c8c8" stroke="#444" stroke-width="0.5"/>
<rect x="526.70" y="566.70" width="3.8" height="3.8" fill="#fff" stroke="#444" stroke-width="0.5"/>
<rect x="547.80" y="575.20" width="3.8" height="3.8" fill="#c8c8c8" stroke="#444" stroke-width="0.5"/>
<rect x="568.90" y="575.20" width="3.8" height="3.8" fill="#c8c8c8" stroke="#444" stroke-width="0.5"/>
<rect x="590.00" y="575.20" width="3.8" height="3.8" fill="#c8c8c8" stroke="#444" stroke-width="0.5"/>
<rect x="611.10" y="575.20" width="3.8" height="3.8" fill="#c8c8c8" stroke="#444" stroke-width="0.5"/>
<rect x="632.20" y="575.20" width="3.8" height="3.8" fill="#c8c8c8" stroke="#444" stroke-width="0.5"/>
<rect x="653.30" y="575.20" width="3.8" height="3.8" fill="#c8c8c8" stroke="#444" stroke-width="0.5"/>
<circle cx="613.00" cy="584.6" r="1.8" fill="#222"/>
<circle cx="634.10" cy="584.6" r="1.8" fill="#222"/>
<circle cx="655.20" cy="584.6" r="1.8" fill="#222"/>
<polyline points="507.50,579.80 528.60,579.80 549.70,579.80 570.80,579.80 591.90,579.80" fill="none" stroke="#f03a3a" stroke-width="0.6" stroke-linejoin="round"/>
<polyline points="507.50,582.40 528.60,582.40 549.70,582.40 570.80,582.40 591.90,582.40" fill="none" stroke="#f03a3a" stroke-width="0.6" stroke-linejoin="round"/>
<polyline points="507.50,588.60 528.60,588.60 549.70,588.60 570.80,588.60 591.90,588.60 613.00,588.60" fill="none" stroke="#f03a3a" stroke-width="0.6" stroke-linejoin="round"/>
<polyline points="507.50,590.60 528.60,590.60 549.70,590.60 570.80,590.60 591.90,590.60" fill="none" stroke="#f03a3a" stroke-width="0.6" stroke-linejoin="round"/>
<rect x="505.40" y="588.30" width="4.20" height="4.20" fill="#ee1111" stroke="#1a1a1a" stroke-width="0.4"/>
<rect x="505.40" y="586.50" width="4.20" height="4.20" fill="#ee1111" stroke="#1a1a1a" stroke-width="0.4"/>
<path d="M507.50,582.50 L509.30,584.30 L507.50,586.10 L505.70,584.30 Z" fill="#c00" stroke="#1a1a1a" stroke-width="0.4"/>
<circle cx="507.50" cy="582.40" r="2.00" fill="#ee1111" stroke="#1a1a1a" stroke-width="0.4"/>
<circle cx="507.50" cy="579.80" r="2.10" fill="#ee1111" stroke="#1a1a1a" stroke-width="0.4"/>
<rect x="526.50" y="588.30" width="4.20" height="4.20" fill="#ee1111" stroke="#1a1a1a" stroke-width="0.4"/>
<rect x="526.50" y="586.50" width="4.20" height="4.20" fill="#ee1111" stroke="#1a1a1a" stroke-width="0.4"/>
<path d="M528.60,582.50 L530.40,584.30 L528.60,586.10 L526.80,584.30 Z" fill="#c00" stroke="#1a1a1a" stroke-width="0.4"/>
<circle cx="528.60" cy="582.40" r="2.00" fill="#ee1111" stroke="#1a1a1a" stroke-width="0.4"/>
<circle cx="528.60" cy="579.80" r="2.10" fill="#ee1111" stroke="#1a1a1a" stroke-width="0.4"/>
<rect x="547.60" y="588.30" width="4.20" height="4.20" fill="#ee1111" stroke="#1a1a1a" stroke-width="0.4"/>
<rect x="547.60" y="586.50" width="4.20" height="4.20" fill="#ee1111" stroke="#1a1a1a" stroke-width="0.4"/>
<path d="M549.70,582.50 L551.50,584.30 L549.70,586.10 L547.90,584.30 Z" fill="#c00" stroke="#1a1a1a" stroke-width="0.4"/>
<circle cx="549.70" cy="582.40" r="2.00" fill="#ee1111" stroke="#1a1a1a" stroke-width="0.4"/>
<circle cx="549.70" cy="579.80" r="2.10" fill="#ee1111" stroke="#1a1a1a" stroke-width="0.4"/>
<rect x="568.70" y="588.30" width="4.20" height="4.20" fill="#ee1111" stroke="#1a1a1a" stroke-width="0.4"/>
<rect x="568.70" y="586.50" width="4.20" height="4.20" fill="#ee1111" stroke="#1a1a1a" stroke-width="0.4"/>
<path d="M570.80,582.50 L572.60,584.30 L570.80,586.10 L569.00,584.30 Z" fill="#c00" stroke="#1a1a1a" stroke-width="0.4"/>
<circle cx="570.80" cy="582.40" r="2.00" fill="#ee1111" stroke="#1a1a1a" stroke-width="0.4"/>
<circle cx="570.80" cy="579.80" r="2.10" fill="#ee1111" stroke="#1a1a1a" stroke-width="0.4"/>
<rect x="589.80" y="588.30" width="4.20" height="4.20" fill="#ee1111" stroke="#1a1a1a" stroke-width="0.4"/>
<rect x="589.80" y="586.50" width="4.20" height="4.20" fill="#ee1111" stroke="#1a1a1a" stroke-width="0.4"/>
<path d="M591.90,582.50 L593.70,584.30 L591.90,586.10 L590.10,584.30 Z" fill="#c00" stroke="#1a1a1a" stroke-width="0.4"/>
<circle cx="591.90" cy="582.40" r="2.00" fill="#ee1111" stroke="#1a1a1a" stroke-width="0.4"/>
<circle cx="591.90" cy="579.80" r="2.10" fill="#ee1111" stroke="#1a1a1a" stroke-width="0.4"/>
<rect x="610.80" y="587.10" width="4.40" height="4.40" fill="#ee1111" stroke="#1a1a1a" stroke-width="0.4"/>
<polyline points="591.90,579.80 613.00,547.20 634.10,556.60 655.20,552.80" fill="none" stroke="#f03a3a" stroke-width="0.6" stroke-linejoin="round"/>
<polyline points="613.00,547.20 634.10,558.00 655.20,552.80" fill="none" stroke="#f03a3a" stroke-width="0.6" stroke-linejoin="round"/>
<polyline points="591.90,582.40 613.00,568.40 634.10,565.00 655.20,560.00" fill="none" stroke="#f03a3a" stroke-width="0.6" stroke-linejoin="round"/>
<polyline points="591.90,579.80 613.00,568.40 634.10,581.00 655.20,565.20" fill="none" stroke="#f03a3a" stroke-width="0.6" stroke-linejoin="round"/>
<polyline points="634.10,581.00 655.20,560.00" fill="none" stroke="#f03a3a" stroke-width="0.6" stroke-linejoin="round"/>
<polyline points="613.00,589.30 634.10,555.90 655.20,517.30" fill="none" stroke="#f03a3a" stroke-width="0.6" stroke-linejoin="round"/>
<circle cx="613.00" cy="547.20" r="2.40" fill="#ee1111" stroke="#1a1a1a" stroke-width="0.4"/>
<circle cx="613.00" cy="568.40" r="2.20" fill="#ee1111" stroke="#1a1a1a" stroke-width="0.4"/>
<rect x="631.90" y="553.70" width="4.40" height="4.40" fill="#ee1111" stroke="#1a1a1a" stroke-width="0.4"/>
<circle cx="634.10" cy="558.00" r="2.20" fill="#ee1111" stroke="#1a1a1a" stroke-width="0.4"/>
<path d="M634.10,562.80 L636.30,565.00 L634.10,567.20 L631.90,565.00 Z" fill="#ee1111" stroke="#1a1a1a" stroke-width="0.4"/>
<circle cx="634.10" cy="581.00" r="2.10" fill="#ee1111" stroke="#1a1a1a" stroke-width="0.4"/>
<rect x="652.80" y="514.90" width="4.80" height="4.80" fill="#ee1111" stroke="#1a1a1a" stroke-width="0.4"/>
<circle cx="655.20" cy="552.80" r="2.30" fill="#ee1111" stroke="#1a1a1a" stroke-width="0.4"/>
<circle cx="655.20" cy="560.00" r="2.10" fill="#ee1111" stroke="#1a1a1a" stroke-width="0.4"/>
<path d="M655.20,562.79 L657.62,567.13 L652.79,567.13 Z" fill="#ee1111" stroke="#1a1a1a" stroke-width="0.4"/>
<text x="632.9" y="506.1" font-size="8.4" fill="#ee1111" stroke="#ee1111" stroke-width="0.1"><tspan font-style="italic">n</tspan> = 5</text>
<text x="661.40" y="517.60" font-size="8.2" text-anchor="start" fill="#231f20" stroke="#231f20" stroke-width="0.1">9 BCs</text>
<text x="662.80" y="542.40" font-size="8.2" text-anchor="start" fill="#231f20" stroke="#231f20" stroke-width="0.1">5 BCs</text>
<text x="662.80" y="552.30" font-size="8.2" text-anchor="start" fill="#231f20" stroke="#231f20" stroke-width="0.1">3 BCs</text>
<text x="662.80" y="561.70" font-size="8.2" text-anchor="start" fill="#231f20" stroke="#231f20" stroke-width="0.1">2 BCs</text>
<text x="662.80" y="570.80" font-size="8.2" text-anchor="start" fill="#231f20" stroke="#231f20" stroke-width="0.1">2 BCs</text>
<text x="664.2" y="586.8" font-size="8.2" fill="#231f20" stroke="#231f20" stroke-width="0.1">n = 4</text>
<rect x="497.10" y="479.00" width="161.30" height="113.60" fill="none" stroke="#5a5a5a" stroke-width="0.8"/>
<line x1="493.60" y1="576.60" x2="497.10" y2="576.60" stroke="#555" stroke-width="0.7"/>
<text x="490.20" y="579.20" font-size="7.6" text-anchor="end" fill="#231f20" stroke="#231f20" stroke-width="0.1">0</text>
<line x1="493.60" y1="560.40" x2="497.10" y2="560.40" stroke="#555" stroke-width="0.7"/>
<text x="490.20" y="563.00" font-size="7.6" text-anchor="end" fill="#231f20" stroke="#231f20" stroke-width="0.1">1</text>
<line x1="493.60" y1="544.20" x2="497.10" y2="544.20" stroke="#555" stroke-width="0.7"/>
<text x="490.20" y="546.80" font-size="7.6" text-anchor="end" fill="#231f20" stroke="#231f20" stroke-width="0.1">2</text>
<line x1="493.60" y1="528.00" x2="497.10" y2="528.00" stroke="#555" stroke-width="0.7"/>
<text x="490.20" y="530.60" font-size="7.6" text-anchor="end" fill="#231f20" stroke="#231f20" stroke-width="0.1">3</text>
<line x1="493.60" y1="511.80" x2="497.10" y2="511.80" stroke="#555" stroke-width="0.7"/>
<text x="490.20" y="514.40" font-size="7.6" text-anchor="end" fill="#231f20" stroke="#231f20" stroke-width="0.1">4</text>
<line x1="493.60" y1="495.60" x2="497.10" y2="495.60" stroke="#555" stroke-width="0.7"/>
<text x="490.20" y="498.20" font-size="7.6" text-anchor="end" fill="#231f20" stroke="#231f20" stroke-width="0.1">5</text>
<line x1="493.60" y1="479.40" x2="497.10" y2="479.40" stroke="#555" stroke-width="0.7"/>
<text x="490.20" y="482.00" font-size="7.6" text-anchor="end" fill="#231f20" stroke="#231f20" stroke-width="0.1">6</text>
<line x1="507.50" y1="592.60" x2="507.50" y2="595.80" stroke="#555" stroke-width="0.7"/>
<text x="507.50" y="605.60" font-size="7.6" text-anchor="middle" fill="#231f20" stroke="#231f20" stroke-width="0.1">0</text>
<line x1="528.60" y1="592.60" x2="528.60" y2="595.80" stroke="#555" stroke-width="0.7"/>
<text x="528.60" y="605.60" font-size="7.6" text-anchor="middle" fill="#231f20" stroke="#231f20" stroke-width="0.1">1</text>
<line x1="549.70" y1="592.60" x2="549.70" y2="595.80" stroke="#555" stroke-width="0.7"/>
<text x="549.70" y="605.60" font-size="7.6" text-anchor="middle" fill="#231f20" stroke="#231f20" stroke-width="0.1">2</text>
<line x1="570.80" y1="592.60" x2="570.80" y2="595.80" stroke="#555" stroke-width="0.7"/>
<text x="570.80" y="605.60" font-size="7.6" text-anchor="middle" fill="#231f20" stroke="#231f20" stroke-width="0.1">3</text>
<line x1="591.90" y1="592.60" x2="591.90" y2="595.80" stroke="#555" stroke-width="0.7"/>
<text x="591.90" y="605.60" font-size="7.6" text-anchor="middle" fill="#231f20" stroke="#231f20" stroke-width="0.1">4</text>
<line x1="613.00" y1="592.60" x2="613.00" y2="595.80" stroke="#555" stroke-width="0.7"/>
<text x="613.00" y="605.60" font-size="7.6" text-anchor="middle" fill="#231f20" stroke="#231f20" stroke-width="0.1">5</text>
<line x1="634.10" y1="592.60" x2="634.10" y2="595.80" stroke="#555" stroke-width="0.7"/>
<text x="634.10" y="605.60" font-size="7.6" text-anchor="middle" fill="#231f20" stroke="#231f20" stroke-width="0.1">6</text>
<line x1="655.20" y1="592.60" x2="655.20" y2="595.80" stroke="#555" stroke-width="0.7"/>
<text x="655.20" y="605.60" font-size="7.6" text-anchor="middle" fill="#231f20" stroke="#231f20" stroke-width="0.1">7</text>
<text x="577.60" y="616.90" font-size="8.8" text-anchor="middle" fill="#231f20" stroke="#231f20" stroke-width="0.1">Time after ART (days)</text>
<text x="477.00" y="535.00" font-size="8.3" text-anchor="middle" fill="#231f20" transform="rotate(-90 477.00 535.00)" textLength="118" lengthAdjust="spacingAndGlyphs" stroke="#231f20" stroke-width="0.1">log<tspan font-size="5.5" dy="2">10</tspan><tspan dy="-2">[SIV RNA (copies per ml)]</tspan></text>
</svg></body></html>
